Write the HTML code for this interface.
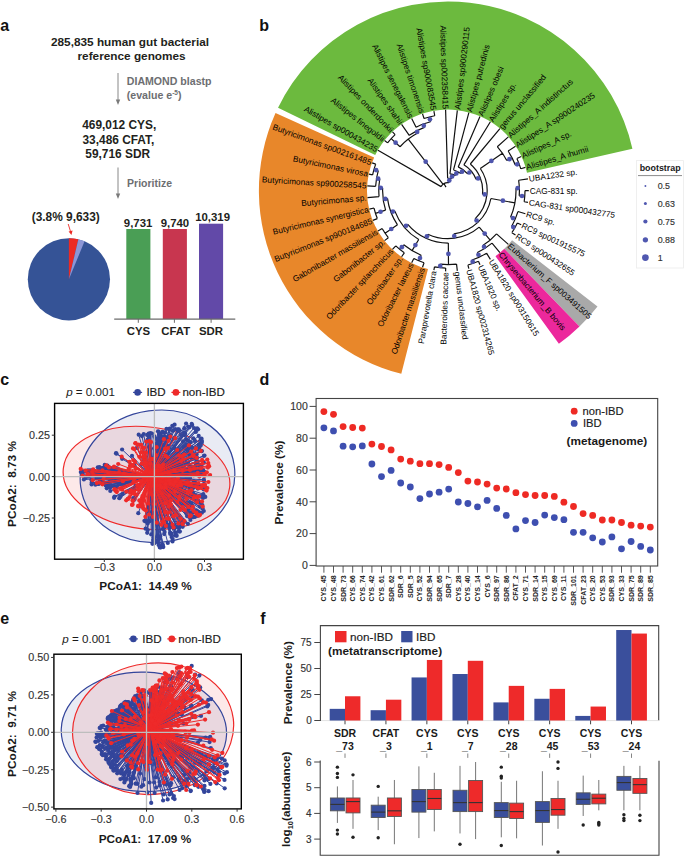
<!DOCTYPE html>
<html><head><meta charset="utf-8"><style>
html,body{margin:0;padding:0;background:#fff;}
svg{display:block;font-family:"Liberation Sans", sans-serif;}
</style></head><body>
<svg width="685" height="857" viewBox="0 0 685 857">
<rect width="685" height="857" fill="#fff"/>
<text x="0.20" y="30.60" font-size="16" font-weight="bold" font-style="normal" text-anchor="start" fill="#111">a</text>
<text x="259.30" y="30.50" font-size="16" font-weight="bold" font-style="normal" text-anchor="start" fill="#111">b</text>
<text x="0.20" y="384.60" font-size="16" font-weight="bold" font-style="normal" text-anchor="start" fill="#111">c</text>
<text x="259.50" y="384.60" font-size="16" font-weight="bold" font-style="normal" text-anchor="start" fill="#111">d</text>
<text x="0.20" y="623.60" font-size="16" font-weight="bold" font-style="normal" text-anchor="start" fill="#111">e</text>
<text x="260.20" y="623.70" font-size="16" font-weight="bold" font-style="normal" text-anchor="start" fill="#111">f</text>
<text x="130.00" y="46.00" font-size="11.8" font-weight="bold" font-style="normal" text-anchor="middle" fill="#231f20">285,835 human gut bacterial</text>
<text x="131.60" y="60.40" font-size="11.8" font-weight="bold" font-style="normal" text-anchor="middle" fill="#231f20">reference genomes</text>
<line x1="118" y1="73" x2="118" y2="101" stroke="#7a7a7a" stroke-width="0.9"/>
<path d="M115.8,99.5 L118,105 L120.2,99.5 Z" fill="#7a7a7a"/>
<text x="126.80" y="85.00" font-size="10.6" font-weight="bold" font-style="normal" text-anchor="start" fill="#6d6e71">DIAMOND blastp</text>
<text x="126.8" y="98.5" font-size="10.6" font-weight="bold" fill="#6d6e71">(evalue e<tspan font-size="6.5" dy="-4">-5</tspan><tspan dy="4">)</tspan></text>
<text x="119.20" y="129.40" font-size="11.9" font-weight="bold" font-style="normal" text-anchor="middle" fill="#231f20">469,012 CYS,</text>
<text x="118.40" y="143.90" font-size="11.9" font-weight="bold" font-style="normal" text-anchor="middle" fill="#231f20">33,486 CFAT,</text>
<text x="117.70" y="157.90" font-size="11.9" font-weight="bold" font-style="normal" text-anchor="middle" fill="#231f20">59,716 SDR</text>
<line x1="118" y1="167.5" x2="118" y2="195" stroke="#7a7a7a" stroke-width="0.9"/>
<path d="M115.8,193.5 L118,199 L120.2,193.5 Z" fill="#7a7a7a"/>
<text x="127.10" y="187.40" font-size="10.5" font-weight="bold" font-style="normal" text-anchor="start" fill="#6d6e71">Prioritize</text>
<text x="31.70" y="221.00" font-size="11.9" font-weight="bold" font-style="normal" text-anchor="start" fill="#231f20">(3.8% 9,633)</text>
<line x1="68.2" y1="224" x2="71" y2="233" stroke="#ec2a24" stroke-width="0.9"/>
<path d="M68.6,231.5 L71.4,235 L72.6,230.6 Z" fill="#ec2a24"/>
<circle cx="68.9" cy="279.3" r="41.1" fill="#355396"/>
<path d="M68.9,279.3 L68.90,238.20 A41.1,41.1 0 0 1 78.36,239.30 Z" fill="#ec2a24"/>
<path d="M68.9,279.3 L78.36,239.30 A41.1,41.1 0 0 1 84.56,241.30 Z" fill="#8c96d6"/>
<rect x="126.3" y="229" width="24.1" height="90" fill="#4a9e55"/>
<rect x="162.8" y="229" width="24.1" height="90" fill="#c8364f"/>
<rect x="199" y="223.7" width="24.1" height="95.3" fill="#6249a8"/>
<line x1="114.2" y1="319.2" x2="235.3" y2="319.2" stroke="#6b6b6b" stroke-width="1.3"/>
<line x1="138.3" y1="319" x2="138.3" y2="322.8" stroke="#6b6b6b" stroke-width="1"/>
<line x1="174.4" y1="319" x2="174.4" y2="322.8" stroke="#6b6b6b" stroke-width="1"/>
<line x1="211.1" y1="319" x2="211.1" y2="322.8" stroke="#6b6b6b" stroke-width="1"/>
<text x="138.10" y="226.70" font-size="11.4" font-weight="bold" font-style="normal" text-anchor="middle" fill="#231f20">9,731</text>
<text x="174.90" y="226.70" font-size="11.4" font-weight="bold" font-style="normal" text-anchor="middle" fill="#231f20">9,740</text>
<text x="212.60" y="221.30" font-size="11.4" font-weight="bold" font-style="normal" text-anchor="middle" fill="#231f20">10,319</text>
<text x="138.50" y="334.50" font-size="11.4" font-weight="bold" font-style="normal" text-anchor="middle" fill="#231f20">CYS</text>
<text x="175.70" y="334.50" font-size="11.4" font-weight="bold" font-style="normal" text-anchor="middle" fill="#231f20">CFAT</text>
<text x="211.00" y="334.50" font-size="11.4" font-weight="bold" font-style="normal" text-anchor="middle" fill="#231f20">SDR</text>
<path d="M632.42,148.80 A189.1,189.1 0 0 0 278.04,107.70 L375.20,155.09 A81,81 0 0 1 527.00,172.70 Z" fill="#6cba3e"/>
<path d="M275.52,113.08 A189.1,189.1 0 0 0 401.29,373.84 L427.99,269.09 A81,81 0 0 1 374.12,157.40 Z" fill="#e8872a"/>
<path d="M579.50,326.49 A189.1,189.1 0 0 0 597.50,306.40 L512.04,240.20 A81,81 0 0 1 504.33,248.81 Z" fill="#a9a9a9"/>
<path d="M558.88,343.78 A189.1,189.1 0 0 0 579.50,326.49 L504.33,248.81 A81,81 0 0 1 495.50,256.21 Z" fill="#ec289c"/>
<path d="M449.01,182.66 A8,8 0 0 0 441.07,186.61 M441.07,186.61 L377.98,150.28 M443.11,184.27 L408.29,139.14 M449.01,182.66 L449.57,178.25 M417.73,133.08 A65,65 0 0 0 400.03,146.73 M400.03,146.73 L391.18,138.64 M417.73,133.08 L416.56,130.87 M395.11,134.64 A77,77 0 0 0 387.55,142.90 M387.55,142.90 L384.57,140.55 M395.11,134.64 L392.50,131.88 M424.40,127.36 A67.5,67.5 0 0 0 409.23,135.34 M409.23,135.34 L401.60,124.45 M424.40,127.36 L423.18,124.08 M430.57,121.77 A71,71 0 0 0 416.08,127.18 M416.08,127.18 L411.68,118.42 M430.57,121.77 L429.35,116.92 M434.75,115.76 A76,76 0 0 0 424.04,118.48 M424.04,118.48 L422.53,113.92 M434.75,115.76 L433.91,111.04 M451.47,178.64 A12.45,12.45 0 0 0 447.63,178.16 M447.63,178.16 L445.60,109.84 M451.47,178.64 L452.71,174.37 M455.35,175.38 A16.9,16.9 0 0 0 449.95,173.81 M449.95,173.81 L457.33,110.34 M455.35,175.38 L457.28,171.37 M460.72,173.45 A21.35,21.35 0 0 0 453.52,169.97 M453.52,169.97 L468.87,112.54 M460.72,173.45 L463.37,169.88 M467.71,173.95 A25.8,25.8 0 0 0 458.21,166.91 M458.21,166.91 L479.97,116.39 M467.71,173.95 L471.11,171.08 M476.04,179.25 A30.25,30.25 0 0 0 463.87,164.85 M463.87,164.85 L490.39,121.81 M476.04,179.25 L480.17,177.58 M482.51,194.20 A34.7,34.7 0 0 0 470.30,164.01 M470.30,164.01 L499.92,128.69 M482.51,194.20 L486.94,194.66 M475.05,218.90 A39.15,39.15 0 0 0 480.31,168.49 M480.31,168.49 L502.47,153.33 M475.05,218.90 L478.12,222.12 M506.76,160.54 A66,66 0 0 0 497.29,146.71 M497.29,146.71 L508.35,136.87 M506.76,160.54 L512.10,157.81 M515.29,164.99 A72,72 0 0 0 508.15,151.02 M508.15,151.02 L515.50,146.19 M515.29,164.99 L519.03,163.56 M520.81,168.80 A76,76 0 0 0 516.88,158.47 M516.88,158.47 L521.23,156.44 M520.81,168.80 L525.40,167.42 M453.94,233.79 A43.6,43.6 0 0 0 490.88,198.49 M490.88,198.49 L514.88,202.90 M453.94,233.79 L454.55,238.20 M510.63,217.09 A68,68 0 0 0 515.96,188.13 M515.96,188.13 L519.35,188.01 M510.63,217.09 L515.23,219.04 M519.21,195.80 A71.4,71.4 0 0 0 518.65,180.25 M518.65,180.25 L527.95,178.89 M519.21,195.80 L524.80,196.20 M524.19,201.77 A77,77 0 0 0 525.00,190.61 M525.00,190.61 L528.80,190.61 M524.19,201.77 L527.95,202.32 M511.73,226.20 A73,73 0 0 0 517.93,211.55 M517.93,211.55 L525.40,213.79 M511.73,226.20 L514.79,227.90 M511.90,232.66 A76.5,76.5 0 0 0 517.32,222.95 M517.32,222.95 L521.22,224.77 M511.90,232.66 L515.49,235.02 M427.82,234.21 A48.05,48.05 0 0 0 479.20,227.14 M479.20,227.14 L490.21,240.03 M427.82,234.21 L425.95,238.25 M483.10,245.31 A65,65 0 0 0 496.54,233.83 M496.54,233.83 L508.34,244.34 M483.10,245.31 L484.99,248.26 M477.37,252.49 A68.5,68.5 0 0 0 492.01,243.09 M492.01,243.09 L499.91,252.52 M477.37,252.49 L479.51,257.00 M472.09,260.04 A73.5,73.5 0 0 0 486.55,253.18 M486.55,253.18 L490.38,259.39 M472.09,260.04 L473.24,263.35 M467.88,264.99 A77,77 0 0 0 478.46,261.32 M478.46,261.32 L479.96,264.81 M467.88,264.99 L468.86,268.66 M407.76,224.32 A52.5,52.5 0 0 0 448.34,243.10 M448.34,243.10 L448.48,264.60 M407.76,224.32 L404.31,227.21 M440.42,264.21 A74,74 0 0 0 456.54,264.11 M456.54,264.11 L457.32,270.86 M440.42,264.21 L440.06,267.69 M434.48,266.91 A77.5,77.5 0 0 0 445.69,268.07 M445.69,268.07 L445.59,271.36 M434.48,266.91 L433.90,270.16 M394.72,210.85 A57,57 0 0 0 418.74,239.51 M394.72,210.85 L390.98,212.27 M418.74,239.51 L412.06,250.67 M387.53,198.59 A61,61 0 0 0 397.49,224.80 M387.53,198.59 L383.16,199.16 M397.49,224.80 L385.07,233.21 M382.66,187.89 A65.4,65.4 0 0 0 385.60,210.18 M382.66,187.89 L378.86,187.73 M385.60,210.18 L375.49,213.36 M379.78,178.98 A69.2,69.2 0 0 0 379.05,196.53 M379.05,196.53 L367.50,197.53 M379.78,178.98 L376.53,178.42 M378.28,170.71 A72.5,72.5 0 0 0 375.63,186.28 M375.63,186.28 L367.34,185.78 M378.28,170.71 L373.95,169.47 M375.69,164.15 A77,77 0 0 0 372.61,174.91 M372.61,174.91 L368.89,174.14 M375.69,164.15 L372.12,162.84 M374.03,208.03 A76,76 0 0 0 377.33,218.57 M377.33,218.57 L372.87,220.34 M374.03,208.03 L369.35,209.13 M382.14,228.52 A76,76 0 0 0 388.33,237.67 M388.33,237.67 L384.56,240.64 M382.14,228.52 L377.98,230.91 M403.73,244.82 A70,70 0 0 0 421.15,255.25 M403.73,244.82 L399.94,249.47 M421.15,255.25 L418.85,260.79 M395.79,245.82 A76,76 0 0 0 404.34,252.81 M404.34,252.81 L401.59,256.74 M395.79,245.82 L392.49,249.31 M413.83,258.48 A76,76 0 0 0 424.03,262.72 M424.03,262.72 L422.52,267.28 M413.83,258.48 L411.67,262.77 M445.99,187.14 L443.98,183.68" fill="none" stroke="#111" stroke-width="1.2"/>
<circle cx="425.70" cy="161.70" r="2.35" fill="#4e55ad"/>
<circle cx="449.29" cy="180.46" r="2.35" fill="#4e55ad"/>
<circle cx="395.61" cy="142.68" r="2.35" fill="#4e55ad"/>
<circle cx="417.15" cy="131.97" r="2.35" fill="#4e55ad"/>
<circle cx="423.79" cy="125.72" r="2.35" fill="#4e55ad"/>
<circle cx="429.96" cy="119.35" r="2.35" fill="#4e55ad"/>
<circle cx="452.09" cy="176.51" r="2.35" fill="#4e55ad"/>
<circle cx="456.31" cy="173.38" r="2.35" fill="#4e55ad"/>
<circle cx="462.04" cy="171.66" r="2.35" fill="#4e55ad"/>
<circle cx="469.41" cy="172.51" r="2.35" fill="#4e55ad"/>
<circle cx="478.10" cy="178.42" r="2.35" fill="#4e55ad"/>
<circle cx="484.73" cy="194.43" r="2.35" fill="#4e55ad"/>
<circle cx="491.39" cy="160.91" r="2.35" fill="#4e55ad"/>
<circle cx="476.59" cy="220.51" r="2.35" fill="#4e55ad"/>
<circle cx="509.43" cy="159.18" r="2.35" fill="#4e55ad"/>
<circle cx="517.16" cy="164.28" r="2.35" fill="#4e55ad"/>
<circle cx="502.88" cy="200.70" r="2.35" fill="#4e55ad"/>
<circle cx="454.24" cy="236.00" r="2.35" fill="#4e55ad"/>
<circle cx="517.65" cy="188.07" r="2.35" fill="#4e55ad"/>
<circle cx="512.93" cy="218.07" r="2.35" fill="#4e55ad"/>
<circle cx="522.00" cy="196.00" r="2.35" fill="#4e55ad"/>
<circle cx="513.26" cy="227.05" r="2.35" fill="#4e55ad"/>
<circle cx="484.71" cy="233.59" r="2.35" fill="#4e55ad"/>
<circle cx="426.89" cy="236.23" r="2.35" fill="#4e55ad"/>
<circle cx="484.04" cy="246.78" r="2.35" fill="#4e55ad"/>
<circle cx="478.44" cy="254.75" r="2.35" fill="#4e55ad"/>
<circle cx="472.66" cy="261.69" r="2.35" fill="#4e55ad"/>
<circle cx="448.41" cy="253.85" r="2.35" fill="#4e55ad"/>
<circle cx="406.03" cy="225.76" r="2.35" fill="#4e55ad"/>
<circle cx="440.24" cy="265.95" r="2.35" fill="#4e55ad"/>
<circle cx="392.85" cy="211.56" r="2.35" fill="#4e55ad"/>
<circle cx="415.40" cy="245.09" r="2.35" fill="#4e55ad"/>
<circle cx="385.34" cy="198.88" r="2.35" fill="#4e55ad"/>
<circle cx="391.28" cy="229.00" r="2.35" fill="#4e55ad"/>
<circle cx="380.76" cy="187.81" r="2.35" fill="#4e55ad"/>
<circle cx="380.54" cy="211.77" r="2.35" fill="#4e55ad"/>
<circle cx="378.16" cy="178.70" r="2.35" fill="#4e55ad"/>
<circle cx="376.12" cy="170.09" r="2.35" fill="#4e55ad"/>
<circle cx="401.83" cy="247.15" r="2.35" fill="#4e55ad"/>
<circle cx="420.00" cy="258.02" r="2.35" fill="#4e55ad"/>
<text x="526.27" y="167.16" dy="2.9" font-size="8.3" text-anchor="start" fill="#000" transform="rotate(-16.67 526.27 167.16)">Alistipes_A ihumii</text>
<text x="522.04" y="156.06" dy="2.9" font-size="8.3" text-anchor="start" fill="#000" transform="rotate(-25.01 522.04 156.06)">Alistipes_A sp.</text>
<text x="516.25" y="145.69" dy="2.9" font-size="8.3" text-anchor="start" fill="#000" transform="rotate(-33.34 516.25 145.69)">Alistipes_A sp900240235</text>
<text x="509.02" y="136.27" dy="2.9" font-size="8.3" text-anchor="start" fill="#000" transform="rotate(-41.68 509.02 136.27)">Alistipes_A indistinctus</text>
<text x="500.50" y="128.00" dy="2.9" font-size="8.3" text-anchor="start" fill="#000" transform="rotate(-50.02 500.50 128.00)">genus unclassified</text>
<text x="490.86" y="121.05" dy="2.9" font-size="8.3" text-anchor="start" fill="#000" transform="rotate(-58.36 490.86 121.05)">Alistipes sp.</text>
<text x="480.33" y="115.57" dy="2.9" font-size="8.3" text-anchor="start" fill="#000" transform="rotate(-66.69 480.33 115.57)">Alistipes obesi</text>
<text x="469.11" y="111.67" dy="2.9" font-size="8.3" text-anchor="start" fill="#000" transform="rotate(-75.03 469.11 111.67)">Alistipes putredinis</text>
<text x="457.44" y="109.45" dy="2.9" font-size="8.3" text-anchor="start" fill="#000" transform="rotate(-83.37 457.44 109.45)">Alistipes sp900290115</text>
<text x="445.57" y="108.94" dy="2.9" font-size="8.3" text-anchor="end" fill="#000" transform="rotate(88.30 445.57 108.94)">Alistipes sp002358415</text>
<text x="433.76" y="110.15" dy="2.9" font-size="8.3" text-anchor="end" fill="#000" transform="rotate(79.96 433.76 110.15)">Alistipes sp900083545</text>
<text x="422.24" y="113.07" dy="2.9" font-size="8.3" text-anchor="end" fill="#000" transform="rotate(71.62 422.24 113.07)">Alistipes timonensis</text>
<text x="411.27" y="117.62" dy="2.9" font-size="8.3" text-anchor="end" fill="#000" transform="rotate(63.29 411.27 117.62)">Alistipes senegalensis</text>
<text x="401.08" y="123.72" dy="2.9" font-size="8.3" text-anchor="end" fill="#000" transform="rotate(54.95 401.08 123.72)">Alistipes shahii</text>
<text x="391.88" y="131.23" dy="2.9" font-size="8.3" text-anchor="end" fill="#000" transform="rotate(46.61 391.88 131.23)">Alistipes onderdonkii</text>
<text x="383.86" y="139.99" dy="2.9" font-size="8.3" text-anchor="end" fill="#000" transform="rotate(38.27 383.86 139.99)">Alistipes finegoldii</text>
<text x="377.20" y="149.83" dy="2.9" font-size="8.3" text-anchor="end" fill="#000" transform="rotate(29.94 377.20 149.83)">Alistipes sp000434235</text>
<text x="371.27" y="162.53" dy="2.9" font-size="8.3" text-anchor="end" fill="#000" transform="rotate(20.09 371.27 162.53)">Butyricimonas sp002161485</text>
<text x="368.01" y="173.96" dy="2.9" font-size="8.3" text-anchor="end" fill="#000" transform="rotate(11.75 368.01 173.96)">Butyricimonas virosa</text>
<text x="366.45" y="185.73" dy="2.9" font-size="8.3" text-anchor="end" fill="#000" transform="rotate(3.42 366.45 185.73)">Butyricimonas sp900258545</text>
<text x="366.60" y="197.61" dy="2.9" font-size="8.3" text-anchor="end" fill="#000" transform="rotate(355.08 366.60 197.61)">Butyricimonas sp.</text>
<text x="368.48" y="209.33" dy="2.9" font-size="8.3" text-anchor="end" fill="#000" transform="rotate(346.74 368.48 209.33)">Butyricimonas synergistica</text>
<text x="372.03" y="220.67" dy="2.9" font-size="8.3" text-anchor="end" fill="#000" transform="rotate(338.41 372.03 220.67)">Butyricimonas sp900184685</text>
<text x="377.20" y="231.36" dy="2.9" font-size="8.3" text-anchor="end" fill="#000" transform="rotate(330.07 377.20 231.36)">Gabonibacter massiliensis</text>
<text x="383.85" y="241.20" dy="2.9" font-size="8.3" text-anchor="end" fill="#000" transform="rotate(321.73 383.85 241.20)">Gabonibacter sp.</text>
<text x="391.87" y="249.97" dy="2.9" font-size="8.3" text-anchor="end" fill="#000" transform="rotate(313.40 391.87 249.97)">Odoribacter splanchnicus</text>
<text x="401.07" y="257.48" dy="2.9" font-size="8.3" text-anchor="end" fill="#000" transform="rotate(305.06 401.07 257.48)">Odoribacter sp.</text>
<text x="411.26" y="263.57" dy="2.9" font-size="8.3" text-anchor="end" fill="#000" transform="rotate(296.72 411.26 263.57)">Odoribacter laneus</text>
<text x="422.23" y="268.13" dy="2.9" font-size="8.3" text-anchor="end" fill="#000" transform="rotate(288.38 422.23 268.13)">Odoribacter massiliensis</text>
<text x="433.75" y="271.05" dy="2.9" font-size="8.3" text-anchor="end" fill="#000" transform="rotate(280.05 433.75 271.05)">Paraprevotella clara</text>
<text x="445.56" y="272.26" dy="2.9" font-size="8.3" text-anchor="end" fill="#000" transform="rotate(271.71 445.56 272.26)">Bacteroides caccae</text>
<text x="457.43" y="271.75" dy="2.9" font-size="8.3" text-anchor="start" fill="#000" transform="rotate(83.37 457.43 271.75)">genus unclassified</text>
<text x="469.09" y="269.53" dy="2.9" font-size="8.3" text-anchor="start" fill="#000" transform="rotate(75.04 469.09 269.53)">UBA1820 sp002314265</text>
<text x="480.32" y="265.64" dy="2.9" font-size="8.3" text-anchor="start" fill="#000" transform="rotate(66.70 480.32 265.64)">UBA1820 sp.</text>
<text x="490.85" y="260.16" dy="2.9" font-size="8.3" text-anchor="start" fill="#000" transform="rotate(58.36 490.85 260.16)">UBA1820 sp003150615</text>
<text x="500.49" y="253.21" dy="2.9" font-size="8.3" text-anchor="start" fill="#000" transform="rotate(50.03 500.49 253.21)">Chryseobacterium_B bovis</text>
<text x="509.01" y="244.94" dy="2.9" font-size="8.3" text-anchor="start" fill="#000" transform="rotate(41.69 509.01 244.94)">Eubacterium_F sp003491505</text>
<text x="516.24" y="235.52" dy="2.9" font-size="8.3" text-anchor="start" fill="#000" transform="rotate(33.35 516.24 235.52)">RC9 sp000432655</text>
<text x="522.04" y="225.15" dy="2.9" font-size="8.3" text-anchor="start" fill="#000" transform="rotate(25.01 522.04 225.15)">RC9 sp001915575</text>
<text x="526.26" y="214.05" dy="2.9" font-size="8.3" text-anchor="start" fill="#000" transform="rotate(16.68 526.26 214.05)">RC9 sp.</text>
<text x="528.84" y="202.45" dy="2.9" font-size="8.3" text-anchor="start" fill="#000" transform="rotate(8.34 528.84 202.45)">CAG-831 sp000432775</text>
<text x="529.70" y="190.61" dy="2.9" font-size="8.3" text-anchor="start" fill="#000" transform="rotate(0.00 529.70 190.61)">CAG-831 sp.</text>
<text x="528.84" y="178.76" dy="2.9" font-size="8.3" text-anchor="start" fill="#000" transform="rotate(-8.33 528.84 178.76)">UBA1232 sp.</text>
<rect x="636.4" y="160.6" width="47.1" height="107.4" fill="#fff" stroke="#ececec" stroke-width="0.8"/>
<text x="639.70" y="171.20" font-size="8.9" font-weight="bold" font-style="normal" text-anchor="start" fill="#1a1a1a">bootstrap</text>
<line x1="638" y1="175.6" x2="682" y2="175.6" stroke="#8a8a8a" stroke-width="1"/>
<circle cx="645.4" cy="186" r="0.95" fill="#5058b0"/>
<text x="657.70" y="189.20" font-size="8.9" font-weight="normal" font-style="normal" text-anchor="start" fill="#333" stroke="#333" stroke-width="0.15">0.5</text>
<circle cx="645.4" cy="203.6" r="1.5" fill="#5058b0"/>
<text x="657.70" y="206.80" font-size="8.9" font-weight="normal" font-style="normal" text-anchor="start" fill="#333" stroke="#333" stroke-width="0.15">0.63</text>
<circle cx="645.4" cy="221.5" r="2.1" fill="#5058b0"/>
<text x="657.70" y="224.70" font-size="8.9" font-weight="normal" font-style="normal" text-anchor="start" fill="#333" stroke="#333" stroke-width="0.15">0.75</text>
<circle cx="645.4" cy="239.8" r="2.65" fill="#5058b0"/>
<text x="657.70" y="243.00" font-size="8.9" font-weight="normal" font-style="normal" text-anchor="start" fill="#333" stroke="#333" stroke-width="0.15">0.88</text>
<circle cx="645.4" cy="257.6" r="3.35" fill="#5058b0"/>
<text x="657.70" y="260.80" font-size="8.9" font-weight="normal" font-style="normal" text-anchor="start" fill="#333" stroke="#333" stroke-width="0.15">1</text>
<clipPath id="clip403"><rect x="54.6" y="403.4" width="188.8" height="155.80000000000007"/></clipPath>
<g clip-path="url(#clip403)">
<ellipse cx="157.5" cy="476.3" rx="77.5" ry="66" transform="rotate(-7.8 157.5 476.3)" fill="#33459b" fill-opacity="0.11" stroke="none"/>
<ellipse cx="146.5" cy="477.9" rx="83.7" ry="51" transform="rotate(6.6 146.5 477.9)" fill="#ee2a2a" fill-opacity="0.1" stroke="none"/>
<ellipse cx="157.5" cy="476.3" rx="77.5" ry="66" transform="rotate(-7.8 157.5 476.3)" fill="none" stroke="#33459b" stroke-width="1.2"/>
<ellipse cx="146.5" cy="477.9" rx="83.7" ry="51" transform="rotate(6.6 146.5 477.9)" fill="none" stroke="#ee2a2a" stroke-width="1.2"/>
<path d="M151.0,477.0 L147.7,439.5 M151.0,477.0 L203.3,494.2 M151.0,477.0 L119.3,498.2 M151.0,477.0 L85.6,477.9 M151.0,477.0 L134.5,465.2 M151.0,477.0 L187.3,510.5 M151.0,477.0 L109.9,484.6 M151.0,477.0 L190.1,478.0 M151.0,477.0 L167.8,542.9 M151.0,477.0 L187.9,463.3 M151.0,477.0 L106.5,474.9 M151.0,477.0 L179.2,526.3 M151.0,477.0 L172.6,539.1 M151.0,477.0 L189.0,453.2 M151.0,477.0 L162.7,438.5 M151.0,477.0 L203.0,498.0 M151.0,477.0 L196.4,471.0 M151.0,477.0 L105.7,485.5 M151.0,477.0 L95.0,471.1 M151.0,477.0 L91.9,470.3 M151.0,477.0 L190.5,456.0 M151.0,477.0 L83.9,479.4 M151.0,477.0 L180.0,465.2 M151.0,477.0 L193.7,481.1 M151.0,477.0 L198.9,465.2 M151.0,477.0 L190.5,487.6 M151.0,477.0 L153.1,540.0 M151.0,477.0 L135.5,485.9 M151.0,477.0 L150.1,450.0 M151.0,477.0 L177.7,450.4 M151.0,477.0 L159.8,441.3 M151.0,477.0 L194.9,484.3 M151.0,477.0 L184.1,494.9 M151.0,477.0 L143.3,459.9 M151.0,477.0 L169.6,438.6 M151.0,477.0 L98.8,468.9 M151.0,477.0 L188.5,506.1 M151.0,477.0 L186.1,439.1 M151.0,477.0 L111.2,468.9 M151.0,477.0 L172.0,489.2 M151.0,477.0 L122.1,449.5 M151.0,477.0 L117.5,468.9 M151.0,477.0 L162.4,438.6 M151.0,477.0 L182.5,522.2 M151.0,477.0 L184.3,491.9 M151.0,477.0 L178.8,429.3 M151.0,477.0 L178.8,531.3 M151.0,477.0 L103.1,482.5 M151.0,477.0 L95.3,472.5 M151.0,477.0 L181.9,523.2 M151.0,477.0 L148.0,508.2 M151.0,477.0 L191.8,447.3 M151.0,477.0 L182.7,526.8 M151.0,477.0 L200.6,439.0 M151.0,477.0 L134.2,489.9 M151.0,477.0 L190.4,442.2 M151.0,477.0 L182.0,462.2 M151.0,477.0 L157.9,542.6 M151.0,477.0 L162.9,546.2 M151.0,477.0 L110.6,480.2 M151.0,477.0 L106.8,488.3 M151.0,477.0 L187.1,496.6 M151.0,477.0 L149.1,512.2 M151.0,477.0 L109.6,469.2 M151.0,477.0 L151.9,517.7 M151.0,477.0 L166.9,454.5 M151.0,477.0 L90.0,470.3 M151.0,477.0 L181.4,486.9 M151.0,477.0 L112.7,469.6 M151.0,477.0 L193.4,438.3 M151.0,477.0 L166.7,438.7 M151.0,477.0 L190.1,466.5 M151.0,477.0 L87.9,470.4 M151.0,477.0 L185.2,433.7 M151.0,477.0 L168.9,525.1 M151.0,477.0 L170.2,532.6 M151.0,477.0 L189.6,456.1 M151.0,477.0 L117.5,481.3 M151.0,477.0 L181.7,466.8 M151.0,477.0 L194.0,428.0 M151.0,477.0 L138.7,434.7 M151.0,477.0 L96.0,471.8 M151.0,477.0 L122.1,458.8 M151.0,477.0 L168.5,446.2 M151.0,477.0 L107.5,466.8 M151.0,477.0 L195.8,465.1 M151.0,477.0 L186.9,504.6 M151.0,477.0 L106.2,483.9 M151.0,477.0 L193.2,456.9 M151.0,477.0 L133.2,498.1 M151.0,477.0 L187.3,503.0 M151.0,477.0 L91.3,479.8 M151.0,477.0 L188.2,426.6 M151.0,477.0 L155.5,438.6 M151.0,477.0 L195.3,482.9 M151.0,477.0 L203.9,455.9 M151.0,477.0 L157.1,515.1 M151.0,477.0 L175.0,535.5 M151.0,477.0 L189.3,516.9 M151.0,477.0 L201.8,442.7 M151.0,477.0 L117.7,468.5 M151.0,477.0 L151.2,534.4 M151.0,477.0 L149.0,436.6 M151.0,477.0 L159.3,437.5 M151.0,477.0 L104.7,464.9 M151.0,477.0 L166.5,428.8 M151.0,477.0 L97.8,467.3 M151.0,477.0 L193.3,496.0 M151.0,477.0 L107.4,465.6 M151.0,477.0 L190.9,502.9 M151.0,477.0 L150.7,499.5 M151.0,477.0 L98.8,483.9 M151.0,477.0 L162.6,529.1 M151.0,477.0 L199.3,448.1 M151.0,477.0 L101.3,468.7 M151.0,477.0 L191.2,457.9 M151.0,477.0 L196.6,454.6 M151.0,477.0 L162.0,490.8 M151.0,477.0 L193.0,492.9 M151.0,477.0 L196.8,510.5 M151.0,477.0 L166.1,491.7 M151.0,477.0 L163.3,547.1 M151.0,477.0 L82.4,471.4 M151.0,477.0 L203.8,511.0 M151.0,477.0 L171.5,533.5 M151.0,477.0 L169.5,473.4 M151.0,477.0 L189.0,508.8 M151.0,477.0 L184.0,432.4 M151.0,477.0 L197.1,428.4 M151.0,477.0 L188.5,447.8 M151.0,477.0 L162.0,436.3 M151.0,477.0 L179.2,479.7 M151.0,477.0 L200.1,503.0 M151.0,477.0 L91.6,484.4 M151.0,477.0 L169.6,429.7 M151.0,477.0 L186.6,449.4 M151.0,477.0 L196.7,470.3 M151.0,477.0 L154.4,436.4 M151.0,477.0 L159.0,442.7 M151.0,477.0 L194.9,440.9 M151.0,477.0 L157.4,454.2 M151.0,477.0 L175.6,532.4 M151.0,477.0 L198.1,429.3 M151.0,477.0 L155.6,443.5 M151.0,477.0 L185.2,471.2 M151.0,477.0 L160.4,433.8 M151.0,477.0 L147.8,530.1 M151.0,477.0 L169.5,528.0 M151.0,477.0 L188.4,478.8 M151.0,477.0 L198.7,435.9 M151.0,477.0 L187.5,478.1 M151.0,477.0 L189.8,486.3 M151.0,477.0 L160.2,436.1 M151.0,477.0 L195.1,516.8 M151.0,477.0 L148.7,433.7 M151.0,477.0 L91.7,482.7 M151.0,477.0 L108.0,486.7 M151.0,477.0 L123.7,484.5 M151.0,477.0 L120.5,496.7 M151.0,477.0 L197.7,515.8 M151.0,477.0 L174.6,447.9 M151.0,477.0 L181.8,519.6 M151.0,477.0 L193.1,471.1 M151.0,477.0 L202.7,508.6 M151.0,477.0 L201.2,502.9 M151.0,477.0 L150.4,433.1 M151.0,477.0 L110.3,491.0 M151.0,477.0 L205.7,487.7 M151.0,477.0 L114.4,486.4 M151.0,477.0 L156.9,455.2 M151.0,477.0 L201.7,469.1 M151.0,477.0 L122.5,494.1 M151.0,477.0 L154.1,448.3 M151.0,477.0 L198.4,501.2 M151.0,477.0 L179.1,528.1 M151.0,477.0 L159.3,434.6 M151.0,477.0 L192.9,471.4 M151.0,477.0 L201.9,451.1 M151.0,477.0 L181.1,435.0 M151.0,477.0 L184.7,521.8 M151.0,477.0 L186.5,476.8 M151.0,477.0 L179.9,531.6 M151.0,477.0 L201.4,451.1 M151.0,477.0 L162.7,438.7 M151.0,477.0 L201.9,512.7 M151.0,477.0 L185.8,469.9 M151.0,477.0 L172.3,425.8 M151.0,477.0 L154.8,449.7 M151.0,477.0 L183.9,467.3 M151.0,477.0 L155.7,540.7 M151.0,477.0 L114.5,496.6 M151.0,477.0 L192.2,425.1 M151.0,477.0 L95.4,484.7 M151.0,477.0 L162.5,431.8 M151.0,477.0 L201.4,441.3 M151.0,477.0 L198.2,500.9 M151.0,477.0 L158.0,431.3 M151.0,477.0 L153.7,542.5 M151.0,477.0 L204.0,481.3 M151.0,477.0 L192.9,488.2 M151.0,477.0 L163.4,444.9 M151.0,477.0 L171.6,536.9 M151.0,477.0 L102.3,468.0 M151.0,477.0 L197.8,461.3 M151.0,477.0 L191.2,503.1 M151.0,477.0 L170.2,533.9 M151.0,477.0 L88.7,474.9 M151.0,477.0 L190.4,519.9 M151.0,477.0 L186.0,513.0 M151.0,477.0 L170.7,509.5 M151.0,477.0 L167.1,497.9 M151.0,477.0 L154.3,543.3 M151.0,477.0 L169.7,428.5 M151.0,477.0 L157.3,447.7 M151.0,477.0 L127.2,471.9 M151.0,477.0 L152.4,543.8 M151.0,477.0 L198.9,512.2 M151.0,477.0 L89.6,475.4 M151.0,477.0 L103.9,467.9 M151.0,477.0 L184.6,495.6 M151.0,477.0 L157.1,540.4 M151.0,477.0 L177.7,429.4 M151.0,477.0 L116.0,453.2 M151.0,477.0 L203.2,470.2 M151.0,477.0 L90.6,474.0 M151.0,477.0 L163.5,497.5 M151.0,477.0 L80.8,472.1 M151.0,477.0 L105.0,467.8 M151.0,477.0 L160.2,536.4 M151.0,477.0 L204.5,455.5 M151.0,477.0 L185.9,469.7 M151.0,477.0 L200.0,506.5 M151.0,477.0 L157.4,536.4 M151.0,477.0 L199.7,486.1 M151.0,477.0 L161.0,449.5 M151.0,477.0 L176.9,527.0 M151.0,477.0 L171.1,523.1 M151.0,477.0 L153.5,537.6 M151.0,477.0 L164.5,432.7 M151.0,477.0 L144.4,520.8 M151.0,477.0 L97.4,478.4 M151.0,477.0 L186.1,445.9 M151.0,477.0 L170.5,435.1 M151.0,477.0 L174.6,459.6 M151.0,477.0 L172.7,516.5 M151.0,477.0 L110.1,487.8 M151.0,477.0 L155.4,512.9 M151.0,477.0 L148.8,520.6 M151.0,477.0 L204.3,471.9 M151.0,477.0 L183.4,520.3 M151.0,477.0 L173.3,430.5 M151.0,477.0 L194.4,458.4 M151.0,477.0 L197.1,462.3 M151.0,477.0 L191.0,494.4 M151.0,477.0 L159.2,539.1 M151.0,477.0 L191.8,505.4 M151.0,477.0 L184.4,428.2 M151.0,477.0 L168.6,436.6 M151.0,477.0 L174.6,424.7 M151.0,477.0 L199.9,496.5 M151.0,477.0 L159.8,547.4 M151.0,477.0 L201.5,438.5 M151.0,477.0 L193.5,517.2 M151.0,477.0 L201.8,440.8 M151.0,477.0 L179.1,495.2 M151.0,477.0 L201.5,486.4 M151.0,477.0 L107.5,477.2 M151.0,477.0 L187.9,523.8 M151.0,477.0 L149.7,521.2 M151.0,477.0 L186.6,462.3 M151.0,477.0 L170.9,524.0 M151.0,477.0 L186.1,423.5 M151.0,477.0 L191.7,517.0 M151.0,477.0 L200.6,496.3 M151.0,477.0 L200.0,471.1 M151.0,477.0 L184.4,435.2 M151.0,477.0 L156.3,455.9 M151.0,477.0 L158.6,441.1 M151.0,477.0 L99.5,467.1 M151.0,477.0 L197.8,488.6 M151.0,477.0 L203.9,462.7 M151.0,477.0 L171.0,496.7 M151.0,477.0 L96.0,483.5 M151.0,477.0 L170.7,472.2 M151.0,477.0 L182.4,524.9 M151.0,477.0 L202.2,472.8 M151.0,477.0 L165.3,432.5 M151.0,477.0 L201.6,465.1 M151.0,477.0 L192.6,512.8 M151.0,477.0 L147.2,532.8 M151.0,477.0 L171.3,526.5 M151.0,477.0 L199.0,444.4 M151.0,477.0 L173.2,525.4 M151.0,477.0 L187.4,476.6 M151.0,477.0 L185.0,503.2 M151.0,477.0 L188.4,440.9 M151.0,477.0 L180.5,518.0 M151.0,477.0 L134.5,499.5 M151.0,477.0 L195.1,466.4 M151.0,477.0 L188.3,463.8 M151.0,477.0 L195.9,431.9 M151.0,477.0 L190.6,512.9 M151.0,477.0 L191.3,514.1 M151.0,477.0 L82.3,471.3 M151.0,477.0 L171.4,506.0 M151.0,477.0 L203.5,489.3 M151.0,477.0 L199.9,444.8 M151.0,477.0 L153.0,542.9 M151.0,477.0 L176.7,535.8 M151.0,477.0 L196.1,429.5 M151.0,477.0 L183.1,441.3 M151.0,477.0 L204.1,474.4 M151.0,477.0 L161.2,439.4 M151.0,477.0 L154.5,460.9 M151.0,477.0 L158.6,545.1 M151.0,477.0 L160.8,547.5 M151.0,477.0 L190.0,488.6 M151.0,477.0 L114.6,487.0 M151.0,477.0 L193.3,471.2 M151.0,477.0 L143.7,434.0 M151.0,477.0 L93.4,473.6 M151.0,477.0 L82.6,474.0 M151.0,477.0 L191.7,423.8 M151.0,477.0 L196.5,461.5 M151.0,477.0 L192.8,497.7 M151.0,477.0 L88.7,476.5 M151.0,477.0 L99.6,481.7 M151.0,477.0 L187.0,516.1 M151.0,477.0 L198.6,449.7 M151.0,477.0 L96.6,478.2 M151.0,477.0 L133.5,500.5 M151.0,477.0 L87.7,475.3 M151.0,477.0 L111.0,486.6 M151.0,477.0 L103.8,467.8 M151.0,477.0 L183.7,446.8 M151.0,477.0 L155.8,445.0 M151.0,477.0 L162.6,544.3 M151.0,477.0 L172.5,541.4 M151.0,477.0 L136.8,447.9 M151.0,477.0 L169.5,498.3 M151.0,477.0 L176.2,534.8 M151.0,477.0 L178.9,430.8 M151.0,477.0 L115.1,470.9 M151.0,477.0 L138.3,513.2 M151.0,477.0 L158.7,431.9 M151.0,477.0 L117.0,479.0 M151.0,477.0 L151.6,503.8 M151.0,477.0 L147.1,434.9 M151.0,477.0 L119.6,484.0 M151.0,477.0 L164.6,531.9 M151.0,477.0 L184.0,503.6 M151.0,477.0 L176.0,489.5 M151.0,477.0 L98.0,483.9 M151.0,477.0 L178.6,430.7 M151.0,477.0 L158.3,450.3 M151.0,477.0 L202.3,505.1 M151.0,477.0 L196.9,457.6 M151.0,477.0 L195.3,454.2 M151.0,477.0 L175.1,429.2 M151.0,477.0 L154.7,541.1 M151.0,477.0 L205.3,496.9 M151.0,477.0 L165.1,436.8 M151.0,477.0 L194.4,495.0 M151.0,477.0 L141.9,436.1 M151.0,477.0 L151.9,458.0 M151.0,477.0 L181.4,526.2 M151.0,477.0 L114.1,497.8 M151.0,477.0 L189.4,427.3 M151.0,477.0 L115.7,467.8 M151.0,477.0 L117.0,468.8 M151.0,477.0 L191.3,456.7 M151.0,477.0 L196.1,501.6 M151.0,477.0 L132.0,455.8 M151.0,477.0 L186.5,444.7 M151.0,477.0 L182.9,501.8 M151.0,477.0 L81.7,472.4 M151.0,477.0 L97.1,477.5 M151.0,477.0 L109.8,485.2 M151.0,477.0 L174.4,528.7 M151.0,477.0 L164.7,527.5 M151.0,477.0 L110.4,479.9 M151.0,477.0 L203.9,479.7 M151.0,477.0 L94.2,473.3 M151.0,477.0 L145.5,521.5 M151.0,477.0 L204.2,473.2 M151.0,477.0 L129.0,474.0 M151.0,477.0 L141.5,464.3 M151.0,477.0 L174.8,471.2 M151.0,477.0 L102.4,479.7 M151.0,477.0 L165.3,525.7 M151.0,477.0 L145.6,528.7 M151.0,477.0 L147.7,523.5 M151.0,477.0 L164.0,500.2 M151.0,477.0 L148.8,447.1 M151.0,477.0 L116.5,453.7 M151.0,477.0 L116.7,486.5 M151.0,477.0 L200.7,445.6 M151.0,477.0 L174.2,437.8 M151.0,477.0 L152.0,433.5 M151.0,477.0 L164.2,534.1" stroke="#33459b" stroke-width="1.0" fill="none"/>
<g fill="#33459b"><circle cx="147.7" cy="439.5" r="2.1"/><circle cx="203.3" cy="494.2" r="2.1"/><circle cx="119.3" cy="498.2" r="2.1"/><circle cx="85.6" cy="477.9" r="2.1"/><circle cx="134.5" cy="465.2" r="2.1"/><circle cx="187.3" cy="510.5" r="2.1"/><circle cx="109.9" cy="484.6" r="2.1"/><circle cx="190.1" cy="478.0" r="2.1"/><circle cx="167.8" cy="542.9" r="2.1"/><circle cx="187.9" cy="463.3" r="2.1"/><circle cx="106.5" cy="474.9" r="2.1"/><circle cx="179.2" cy="526.3" r="2.1"/><circle cx="172.6" cy="539.1" r="2.1"/><circle cx="189.0" cy="453.2" r="2.1"/><circle cx="162.7" cy="438.5" r="2.1"/><circle cx="203.0" cy="498.0" r="2.1"/><circle cx="196.4" cy="471.0" r="2.1"/><circle cx="105.7" cy="485.5" r="2.1"/><circle cx="95.0" cy="471.1" r="2.1"/><circle cx="91.9" cy="470.3" r="2.1"/><circle cx="190.5" cy="456.0" r="2.1"/><circle cx="83.9" cy="479.4" r="2.1"/><circle cx="180.0" cy="465.2" r="2.1"/><circle cx="193.7" cy="481.1" r="2.1"/><circle cx="198.9" cy="465.2" r="2.1"/><circle cx="190.5" cy="487.6" r="2.1"/><circle cx="153.1" cy="540.0" r="2.1"/><circle cx="135.5" cy="485.9" r="2.1"/><circle cx="150.1" cy="450.0" r="2.1"/><circle cx="177.7" cy="450.4" r="2.1"/><circle cx="159.8" cy="441.3" r="2.1"/><circle cx="194.9" cy="484.3" r="2.1"/><circle cx="184.1" cy="494.9" r="2.1"/><circle cx="143.3" cy="459.9" r="2.1"/><circle cx="169.6" cy="438.6" r="2.1"/><circle cx="98.8" cy="468.9" r="2.1"/><circle cx="188.5" cy="506.1" r="2.1"/><circle cx="186.1" cy="439.1" r="2.1"/><circle cx="111.2" cy="468.9" r="2.1"/><circle cx="172.0" cy="489.2" r="2.1"/><circle cx="122.1" cy="449.5" r="2.1"/><circle cx="117.5" cy="468.9" r="2.1"/><circle cx="162.4" cy="438.6" r="2.1"/><circle cx="182.5" cy="522.2" r="2.1"/><circle cx="184.3" cy="491.9" r="2.1"/><circle cx="178.8" cy="429.3" r="2.1"/><circle cx="178.8" cy="531.3" r="2.1"/><circle cx="103.1" cy="482.5" r="2.1"/><circle cx="95.3" cy="472.5" r="2.1"/><circle cx="181.9" cy="523.2" r="2.1"/><circle cx="148.0" cy="508.2" r="2.1"/><circle cx="191.8" cy="447.3" r="2.1"/><circle cx="182.7" cy="526.8" r="2.1"/><circle cx="200.6" cy="439.0" r="2.1"/><circle cx="134.2" cy="489.9" r="2.1"/><circle cx="190.4" cy="442.2" r="2.1"/><circle cx="182.0" cy="462.2" r="2.1"/><circle cx="157.9" cy="542.6" r="2.1"/><circle cx="162.9" cy="546.2" r="2.1"/><circle cx="110.6" cy="480.2" r="2.1"/><circle cx="106.8" cy="488.3" r="2.1"/><circle cx="187.1" cy="496.6" r="2.1"/><circle cx="149.1" cy="512.2" r="2.1"/><circle cx="109.6" cy="469.2" r="2.1"/><circle cx="151.9" cy="517.7" r="2.1"/><circle cx="166.9" cy="454.5" r="2.1"/><circle cx="90.0" cy="470.3" r="2.1"/><circle cx="181.4" cy="486.9" r="2.1"/><circle cx="112.7" cy="469.6" r="2.1"/><circle cx="193.4" cy="438.3" r="2.1"/><circle cx="166.7" cy="438.7" r="2.1"/><circle cx="190.1" cy="466.5" r="2.1"/><circle cx="87.9" cy="470.4" r="2.1"/><circle cx="185.2" cy="433.7" r="2.1"/><circle cx="168.9" cy="525.1" r="2.1"/><circle cx="170.2" cy="532.6" r="2.1"/><circle cx="189.6" cy="456.1" r="2.1"/><circle cx="117.5" cy="481.3" r="2.1"/><circle cx="181.7" cy="466.8" r="2.1"/><circle cx="194.0" cy="428.0" r="2.1"/><circle cx="138.7" cy="434.7" r="2.1"/><circle cx="96.0" cy="471.8" r="2.1"/><circle cx="122.1" cy="458.8" r="2.1"/><circle cx="168.5" cy="446.2" r="2.1"/><circle cx="107.5" cy="466.8" r="2.1"/><circle cx="195.8" cy="465.1" r="2.1"/><circle cx="186.9" cy="504.6" r="2.1"/><circle cx="106.2" cy="483.9" r="2.1"/><circle cx="193.2" cy="456.9" r="2.1"/><circle cx="133.2" cy="498.1" r="2.1"/><circle cx="187.3" cy="503.0" r="2.1"/><circle cx="91.3" cy="479.8" r="2.1"/><circle cx="188.2" cy="426.6" r="2.1"/><circle cx="155.5" cy="438.6" r="2.1"/><circle cx="195.3" cy="482.9" r="2.1"/><circle cx="203.9" cy="455.9" r="2.1"/><circle cx="157.1" cy="515.1" r="2.1"/><circle cx="175.0" cy="535.5" r="2.1"/><circle cx="189.3" cy="516.9" r="2.1"/><circle cx="201.8" cy="442.7" r="2.1"/><circle cx="117.7" cy="468.5" r="2.1"/><circle cx="151.2" cy="534.4" r="2.1"/><circle cx="149.0" cy="436.6" r="2.1"/><circle cx="159.3" cy="437.5" r="2.1"/><circle cx="104.7" cy="464.9" r="2.1"/><circle cx="166.5" cy="428.8" r="2.1"/><circle cx="97.8" cy="467.3" r="2.1"/><circle cx="193.3" cy="496.0" r="2.1"/><circle cx="107.4" cy="465.6" r="2.1"/><circle cx="190.9" cy="502.9" r="2.1"/><circle cx="150.7" cy="499.5" r="2.1"/><circle cx="98.8" cy="483.9" r="2.1"/><circle cx="162.6" cy="529.1" r="2.1"/><circle cx="199.3" cy="448.1" r="2.1"/><circle cx="101.3" cy="468.7" r="2.1"/><circle cx="191.2" cy="457.9" r="2.1"/><circle cx="196.6" cy="454.6" r="2.1"/><circle cx="162.0" cy="490.8" r="2.1"/><circle cx="193.0" cy="492.9" r="2.1"/><circle cx="196.8" cy="510.5" r="2.1"/><circle cx="166.1" cy="491.7" r="2.1"/><circle cx="163.3" cy="547.1" r="2.1"/><circle cx="82.4" cy="471.4" r="2.1"/><circle cx="203.8" cy="511.0" r="2.1"/><circle cx="171.5" cy="533.5" r="2.1"/><circle cx="169.5" cy="473.4" r="2.1"/><circle cx="189.0" cy="508.8" r="2.1"/><circle cx="184.0" cy="432.4" r="2.1"/><circle cx="197.1" cy="428.4" r="2.1"/><circle cx="188.5" cy="447.8" r="2.1"/><circle cx="162.0" cy="436.3" r="2.1"/><circle cx="179.2" cy="479.7" r="2.1"/><circle cx="200.1" cy="503.0" r="2.1"/><circle cx="91.6" cy="484.4" r="2.1"/><circle cx="169.6" cy="429.7" r="2.1"/><circle cx="186.6" cy="449.4" r="2.1"/><circle cx="196.7" cy="470.3" r="2.1"/><circle cx="154.4" cy="436.4" r="2.1"/><circle cx="159.0" cy="442.7" r="2.1"/><circle cx="194.9" cy="440.9" r="2.1"/><circle cx="157.4" cy="454.2" r="2.1"/><circle cx="175.6" cy="532.4" r="2.1"/><circle cx="198.1" cy="429.3" r="2.1"/><circle cx="155.6" cy="443.5" r="2.1"/><circle cx="185.2" cy="471.2" r="2.1"/><circle cx="160.4" cy="433.8" r="2.1"/><circle cx="147.8" cy="530.1" r="2.1"/><circle cx="169.5" cy="528.0" r="2.1"/><circle cx="188.4" cy="478.8" r="2.1"/><circle cx="198.7" cy="435.9" r="2.1"/><circle cx="187.5" cy="478.1" r="2.1"/><circle cx="189.8" cy="486.3" r="2.1"/><circle cx="160.2" cy="436.1" r="2.1"/><circle cx="195.1" cy="516.8" r="2.1"/><circle cx="148.7" cy="433.7" r="2.1"/><circle cx="91.7" cy="482.7" r="2.1"/><circle cx="108.0" cy="486.7" r="2.1"/><circle cx="123.7" cy="484.5" r="2.1"/><circle cx="120.5" cy="496.7" r="2.1"/><circle cx="197.7" cy="515.8" r="2.1"/><circle cx="174.6" cy="447.9" r="2.1"/><circle cx="181.8" cy="519.6" r="2.1"/><circle cx="193.1" cy="471.1" r="2.1"/><circle cx="202.7" cy="508.6" r="2.1"/><circle cx="201.2" cy="502.9" r="2.1"/><circle cx="150.4" cy="433.1" r="2.1"/><circle cx="110.3" cy="491.0" r="2.1"/><circle cx="205.7" cy="487.7" r="2.1"/><circle cx="114.4" cy="486.4" r="2.1"/><circle cx="156.9" cy="455.2" r="2.1"/><circle cx="201.7" cy="469.1" r="2.1"/><circle cx="122.5" cy="494.1" r="2.1"/><circle cx="154.1" cy="448.3" r="2.1"/><circle cx="198.4" cy="501.2" r="2.1"/><circle cx="179.1" cy="528.1" r="2.1"/><circle cx="159.3" cy="434.6" r="2.1"/><circle cx="192.9" cy="471.4" r="2.1"/><circle cx="201.9" cy="451.1" r="2.1"/><circle cx="181.1" cy="435.0" r="2.1"/><circle cx="184.7" cy="521.8" r="2.1"/><circle cx="186.5" cy="476.8" r="2.1"/><circle cx="179.9" cy="531.6" r="2.1"/><circle cx="201.4" cy="451.1" r="2.1"/><circle cx="162.7" cy="438.7" r="2.1"/><circle cx="201.9" cy="512.7" r="2.1"/><circle cx="185.8" cy="469.9" r="2.1"/><circle cx="172.3" cy="425.8" r="2.1"/><circle cx="154.8" cy="449.7" r="2.1"/><circle cx="183.9" cy="467.3" r="2.1"/><circle cx="155.7" cy="540.7" r="2.1"/><circle cx="114.5" cy="496.6" r="2.1"/><circle cx="192.2" cy="425.1" r="2.1"/><circle cx="95.4" cy="484.7" r="2.1"/><circle cx="162.5" cy="431.8" r="2.1"/><circle cx="201.4" cy="441.3" r="2.1"/><circle cx="198.2" cy="500.9" r="2.1"/><circle cx="158.0" cy="431.3" r="2.1"/><circle cx="153.7" cy="542.5" r="2.1"/><circle cx="204.0" cy="481.3" r="2.1"/><circle cx="192.9" cy="488.2" r="2.1"/><circle cx="163.4" cy="444.9" r="2.1"/><circle cx="171.6" cy="536.9" r="2.1"/><circle cx="102.3" cy="468.0" r="2.1"/><circle cx="197.8" cy="461.3" r="2.1"/><circle cx="191.2" cy="503.1" r="2.1"/><circle cx="170.2" cy="533.9" r="2.1"/><circle cx="88.7" cy="474.9" r="2.1"/><circle cx="190.4" cy="519.9" r="2.1"/><circle cx="186.0" cy="513.0" r="2.1"/><circle cx="170.7" cy="509.5" r="2.1"/><circle cx="167.1" cy="497.9" r="2.1"/><circle cx="154.3" cy="543.3" r="2.1"/><circle cx="169.7" cy="428.5" r="2.1"/><circle cx="157.3" cy="447.7" r="2.1"/><circle cx="127.2" cy="471.9" r="2.1"/><circle cx="152.4" cy="543.8" r="2.1"/><circle cx="198.9" cy="512.2" r="2.1"/><circle cx="89.6" cy="475.4" r="2.1"/><circle cx="103.9" cy="467.9" r="2.1"/><circle cx="184.6" cy="495.6" r="2.1"/><circle cx="157.1" cy="540.4" r="2.1"/><circle cx="177.7" cy="429.4" r="2.1"/><circle cx="116.0" cy="453.2" r="2.1"/><circle cx="203.2" cy="470.2" r="2.1"/><circle cx="90.6" cy="474.0" r="2.1"/><circle cx="163.5" cy="497.5" r="2.1"/><circle cx="80.8" cy="472.1" r="2.1"/><circle cx="105.0" cy="467.8" r="2.1"/><circle cx="160.2" cy="536.4" r="2.1"/><circle cx="204.5" cy="455.5" r="2.1"/><circle cx="185.9" cy="469.7" r="2.1"/><circle cx="200.0" cy="506.5" r="2.1"/><circle cx="157.4" cy="536.4" r="2.1"/><circle cx="199.7" cy="486.1" r="2.1"/><circle cx="161.0" cy="449.5" r="2.1"/><circle cx="176.9" cy="527.0" r="2.1"/><circle cx="171.1" cy="523.1" r="2.1"/><circle cx="153.5" cy="537.6" r="2.1"/><circle cx="164.5" cy="432.7" r="2.1"/><circle cx="144.4" cy="520.8" r="2.1"/><circle cx="97.4" cy="478.4" r="2.1"/><circle cx="186.1" cy="445.9" r="2.1"/><circle cx="170.5" cy="435.1" r="2.1"/><circle cx="174.6" cy="459.6" r="2.1"/><circle cx="172.7" cy="516.5" r="2.1"/><circle cx="110.1" cy="487.8" r="2.1"/><circle cx="155.4" cy="512.9" r="2.1"/><circle cx="148.8" cy="520.6" r="2.1"/><circle cx="204.3" cy="471.9" r="2.1"/><circle cx="183.4" cy="520.3" r="2.1"/><circle cx="173.3" cy="430.5" r="2.1"/><circle cx="194.4" cy="458.4" r="2.1"/><circle cx="197.1" cy="462.3" r="2.1"/><circle cx="191.0" cy="494.4" r="2.1"/><circle cx="159.2" cy="539.1" r="2.1"/><circle cx="191.8" cy="505.4" r="2.1"/><circle cx="184.4" cy="428.2" r="2.1"/><circle cx="168.6" cy="436.6" r="2.1"/><circle cx="174.6" cy="424.7" r="2.1"/><circle cx="199.9" cy="496.5" r="2.1"/><circle cx="159.8" cy="547.4" r="2.1"/><circle cx="201.5" cy="438.5" r="2.1"/><circle cx="193.5" cy="517.2" r="2.1"/><circle cx="201.8" cy="440.8" r="2.1"/><circle cx="179.1" cy="495.2" r="2.1"/><circle cx="201.5" cy="486.4" r="2.1"/><circle cx="107.5" cy="477.2" r="2.1"/><circle cx="187.9" cy="523.8" r="2.1"/><circle cx="149.7" cy="521.2" r="2.1"/><circle cx="186.6" cy="462.3" r="2.1"/><circle cx="170.9" cy="524.0" r="2.1"/><circle cx="186.1" cy="423.5" r="2.1"/><circle cx="191.7" cy="517.0" r="2.1"/><circle cx="200.6" cy="496.3" r="2.1"/><circle cx="200.0" cy="471.1" r="2.1"/><circle cx="184.4" cy="435.2" r="2.1"/><circle cx="156.3" cy="455.9" r="2.1"/><circle cx="158.6" cy="441.1" r="2.1"/><circle cx="99.5" cy="467.1" r="2.1"/><circle cx="197.8" cy="488.6" r="2.1"/><circle cx="203.9" cy="462.7" r="2.1"/><circle cx="171.0" cy="496.7" r="2.1"/><circle cx="96.0" cy="483.5" r="2.1"/><circle cx="170.7" cy="472.2" r="2.1"/><circle cx="182.4" cy="524.9" r="2.1"/><circle cx="202.2" cy="472.8" r="2.1"/><circle cx="165.3" cy="432.5" r="2.1"/><circle cx="201.6" cy="465.1" r="2.1"/><circle cx="192.6" cy="512.8" r="2.1"/><circle cx="147.2" cy="532.8" r="2.1"/><circle cx="171.3" cy="526.5" r="2.1"/><circle cx="199.0" cy="444.4" r="2.1"/><circle cx="173.2" cy="525.4" r="2.1"/><circle cx="187.4" cy="476.6" r="2.1"/><circle cx="185.0" cy="503.2" r="2.1"/><circle cx="188.4" cy="440.9" r="2.1"/><circle cx="180.5" cy="518.0" r="2.1"/><circle cx="134.5" cy="499.5" r="2.1"/><circle cx="195.1" cy="466.4" r="2.1"/><circle cx="188.3" cy="463.8" r="2.1"/><circle cx="195.9" cy="431.9" r="2.1"/><circle cx="190.6" cy="512.9" r="2.1"/><circle cx="191.3" cy="514.1" r="2.1"/><circle cx="82.3" cy="471.3" r="2.1"/><circle cx="171.4" cy="506.0" r="2.1"/><circle cx="203.5" cy="489.3" r="2.1"/><circle cx="199.9" cy="444.8" r="2.1"/><circle cx="153.0" cy="542.9" r="2.1"/><circle cx="176.7" cy="535.8" r="2.1"/><circle cx="196.1" cy="429.5" r="2.1"/><circle cx="183.1" cy="441.3" r="2.1"/><circle cx="204.1" cy="474.4" r="2.1"/><circle cx="161.2" cy="439.4" r="2.1"/><circle cx="154.5" cy="460.9" r="2.1"/><circle cx="158.6" cy="545.1" r="2.1"/><circle cx="160.8" cy="547.5" r="2.1"/><circle cx="190.0" cy="488.6" r="2.1"/><circle cx="114.6" cy="487.0" r="2.1"/><circle cx="193.3" cy="471.2" r="2.1"/><circle cx="143.7" cy="434.0" r="2.1"/><circle cx="93.4" cy="473.6" r="2.1"/><circle cx="82.6" cy="474.0" r="2.1"/><circle cx="191.7" cy="423.8" r="2.1"/><circle cx="196.5" cy="461.5" r="2.1"/><circle cx="192.8" cy="497.7" r="2.1"/><circle cx="88.7" cy="476.5" r="2.1"/><circle cx="99.6" cy="481.7" r="2.1"/><circle cx="187.0" cy="516.1" r="2.1"/><circle cx="198.6" cy="449.7" r="2.1"/><circle cx="96.6" cy="478.2" r="2.1"/><circle cx="133.5" cy="500.5" r="2.1"/><circle cx="87.7" cy="475.3" r="2.1"/><circle cx="111.0" cy="486.6" r="2.1"/><circle cx="103.8" cy="467.8" r="2.1"/><circle cx="183.7" cy="446.8" r="2.1"/><circle cx="155.8" cy="445.0" r="2.1"/><circle cx="162.6" cy="544.3" r="2.1"/><circle cx="172.5" cy="541.4" r="2.1"/><circle cx="136.8" cy="447.9" r="2.1"/><circle cx="169.5" cy="498.3" r="2.1"/><circle cx="176.2" cy="534.8" r="2.1"/><circle cx="178.9" cy="430.8" r="2.1"/><circle cx="115.1" cy="470.9" r="2.1"/><circle cx="138.3" cy="513.2" r="2.1"/><circle cx="158.7" cy="431.9" r="2.1"/><circle cx="117.0" cy="479.0" r="2.1"/><circle cx="151.6" cy="503.8" r="2.1"/><circle cx="147.1" cy="434.9" r="2.1"/><circle cx="119.6" cy="484.0" r="2.1"/><circle cx="164.6" cy="531.9" r="2.1"/><circle cx="184.0" cy="503.6" r="2.1"/><circle cx="176.0" cy="489.5" r="2.1"/><circle cx="98.0" cy="483.9" r="2.1"/><circle cx="178.6" cy="430.7" r="2.1"/><circle cx="158.3" cy="450.3" r="2.1"/><circle cx="202.3" cy="505.1" r="2.1"/><circle cx="196.9" cy="457.6" r="2.1"/><circle cx="195.3" cy="454.2" r="2.1"/><circle cx="175.1" cy="429.2" r="2.1"/><circle cx="154.7" cy="541.1" r="2.1"/><circle cx="205.3" cy="496.9" r="2.1"/><circle cx="165.1" cy="436.8" r="2.1"/><circle cx="194.4" cy="495.0" r="2.1"/><circle cx="141.9" cy="436.1" r="2.1"/><circle cx="151.9" cy="458.0" r="2.1"/><circle cx="181.4" cy="526.2" r="2.1"/><circle cx="114.1" cy="497.8" r="2.1"/><circle cx="189.4" cy="427.3" r="2.1"/><circle cx="115.7" cy="467.8" r="2.1"/><circle cx="117.0" cy="468.8" r="2.1"/><circle cx="191.3" cy="456.7" r="2.1"/><circle cx="196.1" cy="501.6" r="2.1"/><circle cx="132.0" cy="455.8" r="2.1"/><circle cx="186.5" cy="444.7" r="2.1"/><circle cx="182.9" cy="501.8" r="2.1"/><circle cx="81.7" cy="472.4" r="2.1"/><circle cx="97.1" cy="477.5" r="2.1"/><circle cx="109.8" cy="485.2" r="2.1"/><circle cx="174.4" cy="528.7" r="2.1"/><circle cx="164.7" cy="527.5" r="2.1"/><circle cx="110.4" cy="479.9" r="2.1"/><circle cx="203.9" cy="479.7" r="2.1"/><circle cx="94.2" cy="473.3" r="2.1"/><circle cx="145.5" cy="521.5" r="2.1"/><circle cx="204.2" cy="473.2" r="2.1"/><circle cx="129.0" cy="474.0" r="2.1"/><circle cx="141.5" cy="464.3" r="2.1"/><circle cx="174.8" cy="471.2" r="2.1"/><circle cx="102.4" cy="479.7" r="2.1"/><circle cx="165.3" cy="525.7" r="2.1"/><circle cx="145.6" cy="528.7" r="2.1"/><circle cx="147.7" cy="523.5" r="2.1"/><circle cx="164.0" cy="500.2" r="2.1"/><circle cx="148.8" cy="447.1" r="2.1"/><circle cx="116.5" cy="453.7" r="2.1"/><circle cx="116.7" cy="486.5" r="2.1"/><circle cx="200.7" cy="445.6" r="2.1"/><circle cx="174.2" cy="437.8" r="2.1"/><circle cx="152.0" cy="433.5" r="2.1"/><circle cx="164.2" cy="534.1" r="2.1"/></g>
<path d="M150.0,476.0 L142.2,448.0 M150.0,476.0 L162.5,477.2 M150.0,476.0 L125.5,476.1 M150.0,476.0 L176.8,481.1 M150.0,476.0 L169.3,495.7 M150.0,476.0 L154.0,504.2 M150.0,476.0 L152.2,458.9 M150.0,476.0 L174.4,470.0 M150.0,476.0 L142.5,496.0 M150.0,476.0 L145.7,464.1 M150.0,476.0 L141.7,452.2 M150.0,476.0 L141.7,463.7 M150.0,476.0 L126.3,491.7 M150.0,476.0 L143.9,458.9 M150.0,476.0 L141.3,481.8 M150.0,476.0 L158.9,465.9 M150.0,476.0 L128.6,469.3 M150.0,476.0 L142.6,499.2 M150.0,476.0 L170.5,500.7 M150.0,476.0 L133.0,465.1 M150.0,476.0 L165.7,455.9 M150.0,476.0 L138.6,444.7 M150.0,476.0 L134.6,478.8 M150.0,476.0 L161.1,467.7 M150.0,476.0 L155.8,472.3 M150.0,476.0 L135.0,461.9 M150.0,476.0 L131.8,492.4 M150.0,476.0 L154.0,485.7 M150.0,476.0 L158.5,476.9 M150.0,476.0 L142.5,505.3 M150.0,476.0 L151.3,472.2 M150.0,476.0 L149.3,471.9 M150.0,476.0 L165.6,503.2 M150.0,476.0 L160.1,466.4 M150.0,476.0 L161.8,487.5 M150.0,476.0 L126.2,500.3 M150.0,476.0 L133.5,481.8 M150.0,476.0 L150.4,459.3 M150.0,476.0 L138.0,474.6 M150.0,476.0 L119.2,472.0 M150.0,476.0 L164.9,448.9 M150.0,476.0 L177.7,485.5 M150.0,476.0 L144.2,456.6 M150.0,476.0 L175.3,480.7 M150.0,476.0 L155.7,479.7 M150.0,476.0 L150.3,463.3 M150.0,476.0 L177.9,478.2 M150.0,476.0 L147.9,479.9 M150.0,476.0 L134.0,491.7 M150.0,476.0 L158.0,485.5 M150.0,476.0 L180.5,485.6 M150.0,476.0 L150.5,493.1 M150.0,476.0 L133.2,460.1 M150.0,476.0 L152.1,494.9 M150.0,476.0 L158.6,477.2 M150.0,476.0 L160.0,485.7 M150.0,476.0 L145.1,462.4 M150.0,476.0 L167.9,448.1 M150.0,476.0 L135.8,468.5 M150.0,476.0 L161.5,467.3 M150.0,476.0 L165.6,487.6 M150.0,476.0 L141.3,444.9 M150.0,476.0 L150.9,479.6 M150.0,476.0 L155.4,477.8 M150.0,476.0 L122.8,481.2 M150.0,476.0 L130.1,492.9 M150.0,476.0 L170.9,500.6 M150.0,476.0 L146.4,471.3 M150.0,476.0 L138.5,506.5 M150.0,476.0 L163.2,464.6 M150.0,476.0 L144.2,447.8 M150.0,476.0 L168.9,477.0 M150.0,476.0 L137.3,485.2 M150.0,476.0 L135.6,494.5 M150.0,476.0 L156.9,470.6 M150.0,476.0 L155.0,470.8 M150.0,476.0 L131.0,490.8 M150.0,476.0 L180.4,483.2 M150.0,476.0 L167.6,457.4 M150.0,476.0 L129.5,497.0 M150.0,476.0 L114.4,489.2 M150.0,476.0 L88.2,474.0 M150.0,476.0 L173.6,484.5 M150.0,476.0 L173.6,527.5 M150.0,476.0 L190.9,469.3 M150.0,476.0 L104.9,475.6 M150.0,476.0 L197.3,487.7 M150.0,476.0 L205.9,490.0 M150.0,476.0 L204.3,474.6 M150.0,476.0 L181.8,456.4 M150.0,476.0 L151.1,442.1 M150.0,476.0 L156.8,522.7 M150.0,476.0 L96.8,483.1 M150.0,476.0 L132.5,500.6 M150.0,476.0 L202.5,485.1 M150.0,476.0 L168.9,518.8 M150.0,476.0 L191.1,451.7 M150.0,476.0 L197.2,502.1 M150.0,476.0 L138.7,489.7 M150.0,476.0 L132.0,504.9 M150.0,476.0 L165.6,484.2 M150.0,476.0 L148.4,503.5 M150.0,476.0 L146.0,510.5 M150.0,476.0 L201.1,487.6 M150.0,476.0 L197.6,497.1 M150.0,476.0 L182.5,470.8 M150.0,476.0 L123.9,473.3 M150.0,476.0 L168.6,440.8 M150.0,476.0 L186.4,498.9 M150.0,476.0 L184.3,454.6 M150.0,476.0 L195.8,513.0 M150.0,476.0 L179.3,498.7 M150.0,476.0 L163.9,439.2 M150.0,476.0 L199.4,476.6 M150.0,476.0 L209.1,466.2 M150.0,476.0 L93.7,475.2 M150.0,476.0 L116.0,491.2 M150.0,476.0 L108.2,473.0 M150.0,476.0 L163.9,522.3 M150.0,476.0 L200.9,468.3 M150.0,476.0 L87.5,474.1 M150.0,476.0 L197.7,472.9 M150.0,476.0 L92.7,480.2 M150.0,476.0 L135.6,443.2 M150.0,476.0 L146.3,441.5 M150.0,476.0 L195.9,448.4 M150.0,476.0 L197.3,496.7 M150.0,476.0 L207.4,488.0 M150.0,476.0 L122.2,489.7 M150.0,476.0 L102.4,484.3 M150.0,476.0 L168.9,480.3 M150.0,476.0 L180.5,510.0 M150.0,476.0 L208.4,482.0 M150.0,476.0 L197.0,514.4 M150.0,476.0 L166.3,518.6 M150.0,476.0 L145.4,516.8 M150.0,476.0 L182.8,507.1 M150.0,476.0 L168.9,512.5 M150.0,476.0 L189.8,516.4 M150.0,476.0 L210.1,475.0 M150.0,476.0 L200.1,514.8 M150.0,476.0 L184.4,521.0 M150.0,476.0 L127.7,498.8 M150.0,476.0 L187.6,491.9 M150.0,476.0 L129.9,465.9 M150.0,476.0 L141.8,503.9 M150.0,476.0 L149.1,514.5 M150.0,476.0 L178.6,523.4 M150.0,476.0 L115.3,490.2 M150.0,476.0 L193.6,511.0 M150.0,476.0 L92.1,472.0 M150.0,476.0 L175.2,491.6 M150.0,476.0 L143.9,456.4 M150.0,476.0 L171.0,504.7 M150.0,476.0 L196.7,457.9 M150.0,476.0 L207.9,467.6 M150.0,476.0 L133.7,493.7 M150.0,476.0 L144.0,500.6 M150.0,476.0 L184.9,509.9 M150.0,476.0 L202.0,501.4 M150.0,476.0 L204.6,485.4 M150.0,476.0 L85.6,470.7 M150.0,476.0 L140.7,505.9 M150.0,476.0 L205.0,484.7 M150.0,476.0 L179.0,455.5 M150.0,476.0 L207.3,459.6 M150.0,476.0 L188.1,484.8 M150.0,476.0 L193.1,456.1 M150.0,476.0 L173.2,516.3 M150.0,476.0 L191.5,490.2 M150.0,476.0 L188.0,482.5 M150.0,476.0 L198.3,483.3 M150.0,476.0 L183.4,459.4 M150.0,476.0 L165.9,525.9 M150.0,476.0 L172.5,524.7 M150.0,476.0 L175.8,515.1 M150.0,476.0 L134.4,449.1 M150.0,476.0 L189.9,469.9 M150.0,476.0 L198.8,515.7 M150.0,476.0 L188.2,506.9 M150.0,476.0 L142.9,507.8 M150.0,476.0 L135.3,443.3 M150.0,476.0 L170.3,436.5 M150.0,476.0 L179.4,496.9 M150.0,476.0 L206.8,472.3 M150.0,476.0 L128.4,498.8 M150.0,476.0 L202.3,463.4 M150.0,476.0 L118.2,464.0 M150.0,476.0 L190.3,492.7 M150.0,476.0 L189.0,445.3 M150.0,476.0 L108.9,467.4 M150.0,476.0 L133.0,448.4 M150.0,476.0 L82.5,475.7 M150.0,476.0 L132.6,504.4 M150.0,476.0 L129.5,461.9 M150.0,476.0 L140.1,501.0 M150.0,476.0 L204.4,475.9 M150.0,476.0 L208.3,465.7 M150.0,476.0 L206.6,490.6 M150.0,476.0 L193.0,455.1 M150.0,476.0 L193.7,455.5 M150.0,476.0 L190.7,485.3 M150.0,476.0 L177.2,450.0 M150.0,476.0 L202.1,459.9 M150.0,476.0 L198.9,488.0 M150.0,476.0 L208.3,463.1 M150.0,476.0 L114.0,466.5 M150.0,476.0 L180.6,518.8 M150.0,476.0 L192.9,506.8 M150.0,476.0 L170.3,483.3 M150.0,476.0 L156.6,447.2 M150.0,476.0 L200.8,450.9 M150.0,476.0 L102.5,470.3 M150.0,476.0 L187.4,482.4 M150.0,476.0 L156.2,455.2 M150.0,476.0 L145.7,452.5 M150.0,476.0 L103.6,479.0 M150.0,476.0 L181.1,461.1 M150.0,476.0 L120.4,488.3 M150.0,476.0 L161.4,524.8 M150.0,476.0 L175.3,481.8 M150.0,476.0 L131.3,466.0 M150.0,476.0 L99.6,482.5 M150.0,476.0 L149.3,441.1 M150.0,476.0 L93.2,469.3 M150.0,476.0 L163.1,521.3 M150.0,476.0 L106.3,465.3 M150.0,476.0 L199.1,496.5 M150.0,476.0 L182.7,524.2 M150.0,476.0 L175.2,438.0 M150.0,476.0 L190.9,515.4 M150.0,476.0 L144.3,509.4 M150.0,476.0 L121.7,456.7 M150.0,476.0 L165.3,512.2 M150.0,476.0 L181.5,485.1 M150.0,476.0 L196.3,512.6 M150.0,476.0 L168.6,506.3 M150.0,476.0 L139.3,456.8 M150.0,476.0 L193.9,497.9 M150.0,476.0 L138.1,505.9 M150.0,476.0 L177.5,501.8 M150.0,476.0 L153.9,509.3 M150.0,476.0 L202.7,506.6 M150.0,476.0 L194.2,468.4 M150.0,476.0 L116.8,492.1 M150.0,476.0 L204.1,475.4 M150.0,476.0 L80.7,468.9 M150.0,476.0 L193.5,475.5 M150.0,476.0 L153.0,516.9 M150.0,476.0 L139.3,500.4" stroke="#ee2a2a" stroke-width="1.0" fill="none"/>
<g fill="#ee2a2a"><circle cx="142.2" cy="448.0" r="2.1"/><circle cx="162.5" cy="477.2" r="2.1"/><circle cx="125.5" cy="476.1" r="2.1"/><circle cx="176.8" cy="481.1" r="2.1"/><circle cx="169.3" cy="495.7" r="2.1"/><circle cx="154.0" cy="504.2" r="2.1"/><circle cx="152.2" cy="458.9" r="2.1"/><circle cx="174.4" cy="470.0" r="2.1"/><circle cx="142.5" cy="496.0" r="2.1"/><circle cx="145.7" cy="464.1" r="2.1"/><circle cx="141.7" cy="452.2" r="2.1"/><circle cx="141.7" cy="463.7" r="2.1"/><circle cx="126.3" cy="491.7" r="2.1"/><circle cx="143.9" cy="458.9" r="2.1"/><circle cx="141.3" cy="481.8" r="2.1"/><circle cx="158.9" cy="465.9" r="2.1"/><circle cx="128.6" cy="469.3" r="2.1"/><circle cx="142.6" cy="499.2" r="2.1"/><circle cx="170.5" cy="500.7" r="2.1"/><circle cx="133.0" cy="465.1" r="2.1"/><circle cx="165.7" cy="455.9" r="2.1"/><circle cx="138.6" cy="444.7" r="2.1"/><circle cx="134.6" cy="478.8" r="2.1"/><circle cx="161.1" cy="467.7" r="2.1"/><circle cx="155.8" cy="472.3" r="2.1"/><circle cx="135.0" cy="461.9" r="2.1"/><circle cx="131.8" cy="492.4" r="2.1"/><circle cx="154.0" cy="485.7" r="2.1"/><circle cx="158.5" cy="476.9" r="2.1"/><circle cx="142.5" cy="505.3" r="2.1"/><circle cx="151.3" cy="472.2" r="2.1"/><circle cx="149.3" cy="471.9" r="2.1"/><circle cx="165.6" cy="503.2" r="2.1"/><circle cx="160.1" cy="466.4" r="2.1"/><circle cx="161.8" cy="487.5" r="2.1"/><circle cx="126.2" cy="500.3" r="2.1"/><circle cx="133.5" cy="481.8" r="2.1"/><circle cx="150.4" cy="459.3" r="2.1"/><circle cx="138.0" cy="474.6" r="2.1"/><circle cx="119.2" cy="472.0" r="2.1"/><circle cx="164.9" cy="448.9" r="2.1"/><circle cx="177.7" cy="485.5" r="2.1"/><circle cx="144.2" cy="456.6" r="2.1"/><circle cx="175.3" cy="480.7" r="2.1"/><circle cx="155.7" cy="479.7" r="2.1"/><circle cx="150.3" cy="463.3" r="2.1"/><circle cx="177.9" cy="478.2" r="2.1"/><circle cx="147.9" cy="479.9" r="2.1"/><circle cx="134.0" cy="491.7" r="2.1"/><circle cx="158.0" cy="485.5" r="2.1"/><circle cx="180.5" cy="485.6" r="2.1"/><circle cx="150.5" cy="493.1" r="2.1"/><circle cx="133.2" cy="460.1" r="2.1"/><circle cx="152.1" cy="494.9" r="2.1"/><circle cx="158.6" cy="477.2" r="2.1"/><circle cx="160.0" cy="485.7" r="2.1"/><circle cx="145.1" cy="462.4" r="2.1"/><circle cx="167.9" cy="448.1" r="2.1"/><circle cx="135.8" cy="468.5" r="2.1"/><circle cx="161.5" cy="467.3" r="2.1"/><circle cx="165.6" cy="487.6" r="2.1"/><circle cx="141.3" cy="444.9" r="2.1"/><circle cx="150.9" cy="479.6" r="2.1"/><circle cx="155.4" cy="477.8" r="2.1"/><circle cx="122.8" cy="481.2" r="2.1"/><circle cx="130.1" cy="492.9" r="2.1"/><circle cx="170.9" cy="500.6" r="2.1"/><circle cx="146.4" cy="471.3" r="2.1"/><circle cx="138.5" cy="506.5" r="2.1"/><circle cx="163.2" cy="464.6" r="2.1"/><circle cx="144.2" cy="447.8" r="2.1"/><circle cx="168.9" cy="477.0" r="2.1"/><circle cx="137.3" cy="485.2" r="2.1"/><circle cx="135.6" cy="494.5" r="2.1"/><circle cx="156.9" cy="470.6" r="2.1"/><circle cx="155.0" cy="470.8" r="2.1"/><circle cx="131.0" cy="490.8" r="2.1"/><circle cx="180.4" cy="483.2" r="2.1"/><circle cx="167.6" cy="457.4" r="2.1"/><circle cx="129.5" cy="497.0" r="2.1"/><circle cx="114.4" cy="489.2" r="2.1"/><circle cx="88.2" cy="474.0" r="2.1"/><circle cx="173.6" cy="484.5" r="2.1"/><circle cx="173.6" cy="527.5" r="2.1"/><circle cx="190.9" cy="469.3" r="2.1"/><circle cx="104.9" cy="475.6" r="2.1"/><circle cx="197.3" cy="487.7" r="2.1"/><circle cx="205.9" cy="490.0" r="2.1"/><circle cx="204.3" cy="474.6" r="2.1"/><circle cx="181.8" cy="456.4" r="2.1"/><circle cx="151.1" cy="442.1" r="2.1"/><circle cx="156.8" cy="522.7" r="2.1"/><circle cx="96.8" cy="483.1" r="2.1"/><circle cx="132.5" cy="500.6" r="2.1"/><circle cx="202.5" cy="485.1" r="2.1"/><circle cx="168.9" cy="518.8" r="2.1"/><circle cx="191.1" cy="451.7" r="2.1"/><circle cx="197.2" cy="502.1" r="2.1"/><circle cx="138.7" cy="489.7" r="2.1"/><circle cx="132.0" cy="504.9" r="2.1"/><circle cx="165.6" cy="484.2" r="2.1"/><circle cx="148.4" cy="503.5" r="2.1"/><circle cx="146.0" cy="510.5" r="2.1"/><circle cx="201.1" cy="487.6" r="2.1"/><circle cx="197.6" cy="497.1" r="2.1"/><circle cx="182.5" cy="470.8" r="2.1"/><circle cx="123.9" cy="473.3" r="2.1"/><circle cx="168.6" cy="440.8" r="2.1"/><circle cx="186.4" cy="498.9" r="2.1"/><circle cx="184.3" cy="454.6" r="2.1"/><circle cx="195.8" cy="513.0" r="2.1"/><circle cx="179.3" cy="498.7" r="2.1"/><circle cx="163.9" cy="439.2" r="2.1"/><circle cx="199.4" cy="476.6" r="2.1"/><circle cx="209.1" cy="466.2" r="2.1"/><circle cx="93.7" cy="475.2" r="2.1"/><circle cx="116.0" cy="491.2" r="2.1"/><circle cx="108.2" cy="473.0" r="2.1"/><circle cx="163.9" cy="522.3" r="2.1"/><circle cx="200.9" cy="468.3" r="2.1"/><circle cx="87.5" cy="474.1" r="2.1"/><circle cx="197.7" cy="472.9" r="2.1"/><circle cx="92.7" cy="480.2" r="2.1"/><circle cx="135.6" cy="443.2" r="2.1"/><circle cx="146.3" cy="441.5" r="2.1"/><circle cx="195.9" cy="448.4" r="2.1"/><circle cx="197.3" cy="496.7" r="2.1"/><circle cx="207.4" cy="488.0" r="2.1"/><circle cx="122.2" cy="489.7" r="2.1"/><circle cx="102.4" cy="484.3" r="2.1"/><circle cx="168.9" cy="480.3" r="2.1"/><circle cx="180.5" cy="510.0" r="2.1"/><circle cx="208.4" cy="482.0" r="2.1"/><circle cx="197.0" cy="514.4" r="2.1"/><circle cx="166.3" cy="518.6" r="2.1"/><circle cx="145.4" cy="516.8" r="2.1"/><circle cx="182.8" cy="507.1" r="2.1"/><circle cx="168.9" cy="512.5" r="2.1"/><circle cx="189.8" cy="516.4" r="2.1"/><circle cx="210.1" cy="475.0" r="2.1"/><circle cx="200.1" cy="514.8" r="2.1"/><circle cx="184.4" cy="521.0" r="2.1"/><circle cx="127.7" cy="498.8" r="2.1"/><circle cx="187.6" cy="491.9" r="2.1"/><circle cx="129.9" cy="465.9" r="2.1"/><circle cx="141.8" cy="503.9" r="2.1"/><circle cx="149.1" cy="514.5" r="2.1"/><circle cx="178.6" cy="523.4" r="2.1"/><circle cx="115.3" cy="490.2" r="2.1"/><circle cx="193.6" cy="511.0" r="2.1"/><circle cx="92.1" cy="472.0" r="2.1"/><circle cx="175.2" cy="491.6" r="2.1"/><circle cx="143.9" cy="456.4" r="2.1"/><circle cx="171.0" cy="504.7" r="2.1"/><circle cx="196.7" cy="457.9" r="2.1"/><circle cx="207.9" cy="467.6" r="2.1"/><circle cx="133.7" cy="493.7" r="2.1"/><circle cx="144.0" cy="500.6" r="2.1"/><circle cx="184.9" cy="509.9" r="2.1"/><circle cx="202.0" cy="501.4" r="2.1"/><circle cx="204.6" cy="485.4" r="2.1"/><circle cx="85.6" cy="470.7" r="2.1"/><circle cx="140.7" cy="505.9" r="2.1"/><circle cx="205.0" cy="484.7" r="2.1"/><circle cx="179.0" cy="455.5" r="2.1"/><circle cx="207.3" cy="459.6" r="2.1"/><circle cx="188.1" cy="484.8" r="2.1"/><circle cx="193.1" cy="456.1" r="2.1"/><circle cx="173.2" cy="516.3" r="2.1"/><circle cx="191.5" cy="490.2" r="2.1"/><circle cx="188.0" cy="482.5" r="2.1"/><circle cx="198.3" cy="483.3" r="2.1"/><circle cx="183.4" cy="459.4" r="2.1"/><circle cx="165.9" cy="525.9" r="2.1"/><circle cx="172.5" cy="524.7" r="2.1"/><circle cx="175.8" cy="515.1" r="2.1"/><circle cx="134.4" cy="449.1" r="2.1"/><circle cx="189.9" cy="469.9" r="2.1"/><circle cx="198.8" cy="515.7" r="2.1"/><circle cx="188.2" cy="506.9" r="2.1"/><circle cx="142.9" cy="507.8" r="2.1"/><circle cx="135.3" cy="443.3" r="2.1"/><circle cx="170.3" cy="436.5" r="2.1"/><circle cx="179.4" cy="496.9" r="2.1"/><circle cx="206.8" cy="472.3" r="2.1"/><circle cx="128.4" cy="498.8" r="2.1"/><circle cx="202.3" cy="463.4" r="2.1"/><circle cx="118.2" cy="464.0" r="2.1"/><circle cx="190.3" cy="492.7" r="2.1"/><circle cx="189.0" cy="445.3" r="2.1"/><circle cx="108.9" cy="467.4" r="2.1"/><circle cx="133.0" cy="448.4" r="2.1"/><circle cx="82.5" cy="475.7" r="2.1"/><circle cx="132.6" cy="504.4" r="2.1"/><circle cx="129.5" cy="461.9" r="2.1"/><circle cx="140.1" cy="501.0" r="2.1"/><circle cx="204.4" cy="475.9" r="2.1"/><circle cx="208.3" cy="465.7" r="2.1"/><circle cx="206.6" cy="490.6" r="2.1"/><circle cx="193.0" cy="455.1" r="2.1"/><circle cx="193.7" cy="455.5" r="2.1"/><circle cx="190.7" cy="485.3" r="2.1"/><circle cx="177.2" cy="450.0" r="2.1"/><circle cx="202.1" cy="459.9" r="2.1"/><circle cx="198.9" cy="488.0" r="2.1"/><circle cx="208.3" cy="463.1" r="2.1"/><circle cx="114.0" cy="466.5" r="2.1"/><circle cx="180.6" cy="518.8" r="2.1"/><circle cx="192.9" cy="506.8" r="2.1"/><circle cx="170.3" cy="483.3" r="2.1"/><circle cx="156.6" cy="447.2" r="2.1"/><circle cx="200.8" cy="450.9" r="2.1"/><circle cx="102.5" cy="470.3" r="2.1"/><circle cx="187.4" cy="482.4" r="2.1"/><circle cx="156.2" cy="455.2" r="2.1"/><circle cx="145.7" cy="452.5" r="2.1"/><circle cx="103.6" cy="479.0" r="2.1"/><circle cx="181.1" cy="461.1" r="2.1"/><circle cx="120.4" cy="488.3" r="2.1"/><circle cx="161.4" cy="524.8" r="2.1"/><circle cx="175.3" cy="481.8" r="2.1"/><circle cx="131.3" cy="466.0" r="2.1"/><circle cx="99.6" cy="482.5" r="2.1"/><circle cx="149.3" cy="441.1" r="2.1"/><circle cx="93.2" cy="469.3" r="2.1"/><circle cx="163.1" cy="521.3" r="2.1"/><circle cx="106.3" cy="465.3" r="2.1"/><circle cx="199.1" cy="496.5" r="2.1"/><circle cx="182.7" cy="524.2" r="2.1"/><circle cx="175.2" cy="438.0" r="2.1"/><circle cx="190.9" cy="515.4" r="2.1"/><circle cx="144.3" cy="509.4" r="2.1"/><circle cx="121.7" cy="456.7" r="2.1"/><circle cx="165.3" cy="512.2" r="2.1"/><circle cx="181.5" cy="485.1" r="2.1"/><circle cx="196.3" cy="512.6" r="2.1"/><circle cx="168.6" cy="506.3" r="2.1"/><circle cx="139.3" cy="456.8" r="2.1"/><circle cx="193.9" cy="497.9" r="2.1"/><circle cx="138.1" cy="505.9" r="2.1"/><circle cx="177.5" cy="501.8" r="2.1"/><circle cx="153.9" cy="509.3" r="2.1"/><circle cx="202.7" cy="506.6" r="2.1"/><circle cx="194.2" cy="468.4" r="2.1"/><circle cx="116.8" cy="492.1" r="2.1"/><circle cx="204.1" cy="475.4" r="2.1"/><circle cx="80.7" cy="468.9" r="2.1"/><circle cx="193.5" cy="475.5" r="2.1"/><circle cx="153.0" cy="516.9" r="2.1"/><circle cx="139.3" cy="500.4" r="2.1"/></g>
<line x1="154.4" y1="403.4" x2="154.4" y2="559.2" stroke="#bdbdbd" stroke-width="1.3"/>
<line x1="54.6" y1="476.6" x2="243.4" y2="476.6" stroke="#bdbdbd" stroke-width="1.3"/>
</g>
<rect x="54.6" y="403.4" width="188.8" height="155.80000000000007" fill="none" stroke="#000" stroke-width="1.4"/>
<line x1="104.30" y1="559.2" x2="104.30" y2="562.0" stroke="#333" stroke-width="1"/>
<text x="104.30" y="571.30" font-size="10.8" font-weight="normal" font-style="normal" text-anchor="middle" fill="#333" stroke="#333" stroke-width="0.15">−0.3</text>
<line x1="154.40" y1="559.2" x2="154.40" y2="562.0" stroke="#333" stroke-width="1"/>
<text x="154.40" y="571.30" font-size="10.8" font-weight="normal" font-style="normal" text-anchor="middle" fill="#333" stroke="#333" stroke-width="0.15">0.0</text>
<line x1="204.50" y1="559.2" x2="204.50" y2="562.0" stroke="#333" stroke-width="1"/>
<text x="204.50" y="571.30" font-size="10.8" font-weight="normal" font-style="normal" text-anchor="middle" fill="#333" stroke="#333" stroke-width="0.15">0.3</text>
<line x1="51.800000000000004" y1="435.20" x2="54.6" y2="435.20" stroke="#333" stroke-width="1"/>
<text x="50.00" y="439.10" font-size="10.8" font-weight="normal" font-style="normal" text-anchor="end" fill="#333" stroke="#333" stroke-width="0.15">0.25</text>
<line x1="51.800000000000004" y1="476.60" x2="54.6" y2="476.60" stroke="#333" stroke-width="1"/>
<text x="50.00" y="480.50" font-size="10.8" font-weight="normal" font-style="normal" text-anchor="end" fill="#333" stroke="#333" stroke-width="0.15">0.00</text>
<line x1="51.800000000000004" y1="518.00" x2="54.6" y2="518.00" stroke="#333" stroke-width="1"/>
<text x="50.00" y="521.90" font-size="10.8" font-weight="normal" font-style="normal" text-anchor="end" fill="#333" stroke="#333" stroke-width="0.15">−0.25</text>
<text x="66.2" y="396.2" font-size="11.6" fill="#1a1a1a"><tspan font-style="italic">p</tspan> = 0.001</text>
<line x1="133.1" y1="392.4" x2="142.1" y2="392.4" stroke="#33459b" stroke-width="1.2"/><circle cx="137.6" cy="392.4" r="3.3" fill="#33459b"/>
<text x="146.40" y="396.20" font-size="11.6" font-weight="normal" font-style="normal" text-anchor="start" fill="#1a1a1a" stroke="#1a1a1a" stroke-width="0.15">IBD</text>
<line x1="171.4" y1="392.4" x2="180.4" y2="392.4" stroke="#ee2a2a" stroke-width="1.2"/><circle cx="175.9" cy="392.4" r="3.3" fill="#ee2a2a"/>
<text x="182.40" y="396.20" font-size="11.6" font-weight="normal" font-style="normal" text-anchor="start" fill="#1a1a1a" stroke="#1a1a1a" stroke-width="0.15">non-IBD</text>
<text x="16.00" y="484.00" font-size="11.8" font-weight="bold" font-style="normal" text-anchor="middle" fill="#1a1a1a" transform="rotate(-90.00 16.00 484.00)">PCoA2:&#160; 8.73 %</text>
<text x="145.60" y="590.00" font-size="11.8" font-weight="bold" font-style="normal" text-anchor="middle" fill="#1a1a1a">PCoA1:&#160; 14.49 %</text>
<clipPath id="clip654"><rect x="53.9" y="654.2" width="187.4" height="154.69999999999993"/></clipPath>
<g clip-path="url(#clip654)">
<ellipse cx="143.9" cy="731.8" rx="82.7" ry="59.7" transform="rotate(2.0 143.9 731.8)" fill="#33459b" fill-opacity="0.11" stroke="none"/>
<ellipse cx="153.1" cy="728.7" rx="80.8" ry="65.5" transform="rotate(-7.3 153.1 728.7)" fill="#ee2a2a" fill-opacity="0.1" stroke="none"/>
<ellipse cx="143.9" cy="731.8" rx="82.7" ry="59.7" transform="rotate(2.0 143.9 731.8)" fill="none" stroke="#33459b" stroke-width="1.2"/>
<ellipse cx="153.1" cy="728.7" rx="80.8" ry="65.5" transform="rotate(-7.3 153.1 728.7)" fill="none" stroke="#ee2a2a" stroke-width="1.2"/>
<path d="M147.0,732.0 L198.4,786.8 M147.0,732.0 L101.9,751.7 M147.0,732.0 L151.2,802.9 M147.0,732.0 L117.2,773.3 M147.0,732.0 L178.2,674.1 M147.0,732.0 L175.1,713.9 M147.0,732.0 L124.1,706.2 M147.0,732.0 L120.2,706.5 M147.0,732.0 L208.2,779.5 M147.0,732.0 L125.3,722.7 M147.0,732.0 L113.4,770.6 M147.0,732.0 L206.4,757.2 M147.0,732.0 L179.3,672.1 M147.0,732.0 L110.1,723.7 M147.0,732.0 L157.6,686.2 M147.0,732.0 L181.8,714.6 M147.0,732.0 L113.0,753.1 M147.0,732.0 L118.2,772.1 M147.0,732.0 L123.8,708.1 M147.0,732.0 L108.5,743.2 M147.0,732.0 L171.2,793.4 M147.0,732.0 L104.9,740.4 M147.0,732.0 L174.9,708.8 M147.0,732.0 L121.9,704.5 M147.0,732.0 L121.8,712.9 M147.0,732.0 L153.6,696.8 M147.0,732.0 L107.8,726.5 M147.0,732.0 L102.3,735.2 M147.0,732.0 L100.7,737.9 M147.0,732.0 L107.2,747.8 M147.0,732.0 L172.7,678.0 M147.0,732.0 L148.8,708.7 M147.0,732.0 L147.4,792.4 M147.0,732.0 L171.1,783.2 M147.0,732.0 L189.6,777.8 M147.0,732.0 L174.4,758.7 M147.0,732.0 L173.1,798.0 M147.0,732.0 L143.2,785.2 M147.0,732.0 L159.8,694.2 M147.0,732.0 L198.6,753.0 M147.0,732.0 L127.3,714.6 M147.0,732.0 L122.6,755.2 M147.0,732.0 L125.7,779.9 M147.0,732.0 L178.9,778.7 M147.0,732.0 L138.9,703.5 M147.0,732.0 L212.3,769.6 M147.0,732.0 L135.7,725.9 M147.0,732.0 L108.0,717.5 M147.0,732.0 L113.2,715.4 M147.0,732.0 L130.7,705.1 M147.0,732.0 L159.5,781.9 M147.0,732.0 L112.7,747.6 M147.0,732.0 L133.7,698.4 M147.0,732.0 L208.3,699.8 M147.0,732.0 L123.9,775.3 M147.0,732.0 L117.6,720.1 M147.0,732.0 L186.4,784.9 M147.0,732.0 L132.9,700.4 M147.0,732.0 L113.3,714.0 M147.0,732.0 L98.0,734.3 M147.0,732.0 L110.9,743.7 M147.0,732.0 L116.5,732.3 M147.0,732.0 L111.3,767.5 M147.0,732.0 L127.8,707.1 M147.0,732.0 L170.4,785.2 M147.0,732.0 L186.4,779.1 M147.0,732.0 L113.8,764.7 M147.0,732.0 L189.6,771.9 M147.0,732.0 L203.5,789.7 M147.0,732.0 L204.5,785.9 M147.0,732.0 L214.6,763.0 M147.0,732.0 L160.6,687.5 M147.0,732.0 L210.8,748.0 M147.0,732.0 L161.9,690.4 M147.0,732.0 L226.9,772.2 M147.0,732.0 L138.8,701.0 M147.0,732.0 L137.6,697.4 M147.0,732.0 L207.3,706.4 M147.0,732.0 L99.6,733.5 M147.0,732.0 L117.8,740.3 M147.0,732.0 L135.2,721.0 M147.0,732.0 L127.6,702.1 M147.0,732.0 L108.8,720.2 M147.0,732.0 L103.1,742.2 M147.0,732.0 L156.9,687.5 M147.0,732.0 L118.5,719.6 M147.0,732.0 L144.7,779.2 M147.0,732.0 L205.8,778.4 M147.0,732.0 L172.1,766.4 M147.0,732.0 L199.2,763.8 M147.0,732.0 L129.5,718.8 M147.0,732.0 L153.8,697.7 M147.0,732.0 L133.5,772.8 M147.0,732.0 L109.8,720.8 M147.0,732.0 L218.1,775.1 M147.0,732.0 L150.3,762.8 M147.0,732.0 L127.7,768.3 M147.0,732.0 L140.9,692.1 M147.0,732.0 L133.7,704.4 M147.0,732.0 L224.7,788.3 M147.0,732.0 L198.0,742.6 M147.0,732.0 L117.8,724.3 M147.0,732.0 L133.3,766.4 M147.0,732.0 L116.9,710.1 M147.0,732.0 L173.9,796.0 M147.0,732.0 L106.0,756.6 M147.0,732.0 L163.8,794.5 M147.0,732.0 L170.3,685.9 M147.0,732.0 L201.5,755.1 M147.0,732.0 L190.2,767.3 M147.0,732.0 L114.5,711.0 M147.0,732.0 L203.6,789.2 M147.0,732.0 L111.3,723.1 M147.0,732.0 L117.9,757.1 M147.0,732.0 L208.2,704.9 M147.0,732.0 L199.4,675.6 M147.0,732.0 L191.7,665.9 M147.0,732.0 L116.8,769.2 M147.0,732.0 L162.2,768.8 M147.0,732.0 L187.0,780.9 M147.0,732.0 L124.9,709.2 M147.0,732.0 L184.9,781.4 M147.0,732.0 L125.2,750.5 M147.0,732.0 L112.1,761.9 M147.0,732.0 L129.3,772.9 M147.0,732.0 L125.7,759.9 M147.0,732.0 L130.9,783.8 M147.0,732.0 L95.8,741.8 M147.0,732.0 L112.5,720.6 M147.0,732.0 L113.3,727.1 M147.0,732.0 L126.0,706.6 M147.0,732.0 L153.4,688.4 M147.0,732.0 L137.9,756.6 M147.0,732.0 L224.7,760.4 M147.0,732.0 L119.1,709.5 M147.0,732.0 L190.2,689.7 M147.0,732.0 L141.3,786.7 M147.0,732.0 L111.4,715.2 M147.0,732.0 L165.0,682.2 M147.0,732.0 L116.8,718.2 M147.0,732.0 L145.9,707.2 M147.0,732.0 L112.6,741.5 M147.0,732.0 L121.0,773.5 M147.0,732.0 L187.2,677.2 M147.0,732.0 L145.8,704.2 M147.0,732.0 L122.8,714.3 M147.0,732.0 L198.4,786.1 M147.0,732.0 L140.1,773.5 M147.0,732.0 L140.2,700.1 M147.0,732.0 L134.6,766.6 M147.0,732.0 L182.3,756.4 M147.0,732.0 L115.1,758.4 M147.0,732.0 L107.6,747.5 M147.0,732.0 L187.3,758.4 M147.0,732.0 L182.1,756.4 M147.0,732.0 L122.7,726.6 M147.0,732.0 L209.6,742.1 M147.0,732.0 L168.8,763.6 M147.0,732.0 L153.2,688.2 M147.0,732.0 L163.8,783.1 M147.0,732.0 L135.9,706.1 M147.0,732.0 L106.1,759.3 M147.0,732.0 L174.8,713.8 M147.0,732.0 L127.5,744.5 M147.0,732.0 L99.1,748.9 M147.0,732.0 L131.1,722.9 M147.0,732.0 L117.8,721.8 M147.0,732.0 L129.7,708.1 M147.0,732.0 L113.1,715.6 M147.0,732.0 L184.0,775.2 M147.0,732.0 L141.7,703.6 M147.0,732.0 L123.9,773.9 M147.0,732.0 L157.2,691.7 M147.0,732.0 L134.2,750.5 M147.0,732.0 L167.6,690.0 M147.0,732.0 L127.0,702.1 M147.0,732.0 L121.5,705.6 M147.0,732.0 L150.9,696.2 M147.0,732.0 L101.7,754.1 M147.0,732.0 L124.1,749.7 M147.0,732.0 L116.0,749.3 M147.0,732.0 L102.2,746.2 M147.0,732.0 L191.5,705.5 M147.0,732.0 L109.6,724.2 M147.0,732.0 L219.0,771.8 M147.0,732.0 L140.7,706.8 M147.0,732.0 L124.0,779.0 M147.0,732.0 L109.5,764.0 M147.0,732.0 L117.3,749.8 M147.0,732.0 L131.2,703.0 M147.0,732.0 L221.8,758.6 M147.0,732.0 L133.8,778.3 M147.0,732.0 L152.0,696.3 M147.0,732.0 L205.6,737.7 M147.0,732.0 L150.8,691.2 M147.0,732.0 L192.5,696.3 M147.0,732.0 L107.1,730.9 M147.0,732.0 L119.0,748.4 M147.0,732.0 L111.2,715.4 M147.0,732.0 L100.4,728.1 M147.0,732.0 L107.7,718.7 M147.0,732.0 L112.5,713.1 M147.0,732.0 L126.6,778.8 M147.0,732.0 L195.1,674.5 M147.0,732.0 L156.2,787.6 M147.0,732.0 L159.7,785.4 M147.0,732.0 L198.5,764.2 M147.0,732.0 L103.2,725.5 M147.0,732.0 L191.7,778.1 M147.0,732.0 L128.5,707.4 M147.0,732.0 L167.7,799.4 M147.0,732.0 L103.4,734.8 M147.0,732.0 L183.5,723.6 M147.0,732.0 L133.3,777.9 M147.0,732.0 L101.4,726.0 M147.0,732.0 L127.1,736.5 M147.0,732.0 L187.1,750.2 M147.0,732.0 L201.0,715.9 M147.0,732.0 L186.5,754.3 M147.0,732.0 L220.2,766.7 M147.0,732.0 L123.1,717.4 M147.0,732.0 L115.0,768.6 M147.0,732.0 L193.1,716.4 M147.0,732.0 L96.6,737.4 M147.0,732.0 L117.7,712.4 M147.0,732.0 L114.8,716.5 M147.0,732.0 L200.0,763.6 M147.0,732.0 L124.4,782.4 M147.0,732.0 L190.6,790.6 M147.0,732.0 L121.7,769.4 M147.0,732.0 L224.5,779.9 M147.0,732.0 L130.4,724.3 M147.0,732.0 L210.2,736.9 M147.0,732.0 L116.7,713.2 M147.0,732.0 L204.2,791.9 M147.0,732.0 L119.1,724.9 M147.0,732.0 L119.3,716.9 M147.0,732.0 L134.4,708.4 M147.0,732.0 L116.8,722.2 M147.0,732.0 L191.9,767.9 M147.0,732.0 L117.1,748.3 M147.0,732.0 L105.9,754.5 M147.0,732.0 L128.4,702.0 M147.0,732.0 L96.9,733.7 M147.0,732.0 L108.3,750.0 M147.0,732.0 L97.2,747.2 M147.0,732.0 L116.5,769.9 M147.0,732.0 L123.7,778.6 M147.0,732.0 L120.6,705.6 M147.0,732.0 L108.5,762.6 M147.0,732.0 L155.9,777.3 M147.0,732.0 L112.2,767.6 M147.0,732.0 L102.8,755.2 M147.0,732.0 L112.0,731.3 M147.0,732.0 L169.4,785.2 M147.0,732.0 L129.7,785.7 M147.0,732.0 L125.6,701.9 M147.0,732.0 L132.6,709.4 M147.0,732.0 L130.1,786.9 M147.0,732.0 L195.1,762.8 M147.0,732.0 L98.4,736.3 M147.0,732.0 L105.8,729.8 M147.0,732.0 L143.4,696.8 M147.0,732.0 L216.6,758.9 M147.0,732.0 L193.7,779.6 M147.0,732.0 L110.8,716.6 M147.0,732.0 L154.6,793.0 M147.0,732.0 L151.6,690.8 M147.0,732.0 L108.4,728.7 M147.0,732.0 L193.0,690.0 M147.0,732.0 L136.0,716.3 M147.0,732.0 L124.3,702.5 M147.0,732.0 L194.9,785.2 M147.0,732.0 L119.8,707.6 M147.0,732.0 L155.9,696.2 M147.0,732.0 L204.6,791.4 M147.0,732.0 L191.2,706.1 M147.0,732.0 L183.3,770.2 M147.0,732.0 L114.9,750.1 M147.0,732.0 L95.4,741.7 M147.0,732.0 L116.3,713.3 M147.0,732.0 L208.6,791.2 M147.0,732.0 L163.1,800.5 M147.0,732.0 L173.5,713.0 M147.0,732.0 L190.7,791.1 M147.0,732.0 L129.3,772.0 M147.0,732.0 L226.5,765.7 M147.0,732.0 L163.9,688.4 M147.0,732.0 L107.9,749.2 M147.0,732.0 L224.7,773.4 M147.0,732.0 L179.6,789.9 M147.0,732.0 L124.6,712.1 M147.0,732.0 L128.5,743.5 M147.0,732.0 L114.2,717.8 M147.0,732.0 L111.3,753.2 M147.0,732.0 L129.9,710.6 M147.0,732.0 L107.4,727.5 M147.0,732.0 L130.4,785.7 M147.0,732.0 L116.4,765.8 M147.0,732.0 L116.3,712.5 M147.0,732.0 L133.5,777.0 M147.0,732.0 L174.6,799.1 M147.0,732.0 L109.7,716.6 M147.0,732.0 L197.7,770.2 M147.0,732.0 L106.2,741.8 M147.0,732.0 L108.5,746.4 M147.0,732.0 L129.7,767.5 M147.0,732.0 L158.2,701.3 M147.0,732.0 L137.3,783.8 M147.0,732.0 L135.6,783.7 M147.0,732.0 L127.5,770.8 M147.0,732.0 L100.0,749.3 M147.0,732.0 L169.8,678.7 M147.0,732.0 L99.7,727.9 M147.0,732.0 L209.2,738.6 M147.0,732.0 L201.8,700.3 M147.0,732.0 L128.1,706.2 M147.0,732.0 L126.5,708.2 M147.0,732.0 L131.3,783.7 M147.0,732.0 L132.9,708.6 M147.0,732.0 L99.6,735.2 M147.0,732.0 L186.4,785.8 M147.0,732.0 L118.2,755.7 M147.0,732.0 L152.9,694.8 M147.0,732.0 L130.6,778.6 M147.0,732.0 L114.8,757.6 M147.0,732.0 L135.8,767.6 M147.0,732.0 L108.2,760.5 M147.0,732.0 L126.7,710.0 M147.0,732.0 L111.7,747.6 M147.0,732.0 L108.7,717.3 M147.0,732.0 L128.7,775.2 M147.0,732.0 L129.2,786.2 M147.0,732.0 L137.4,695.3 M147.0,732.0 L109.7,758.6 M147.0,732.0 L137.5,793.0 M147.0,732.0 L127.2,765.6 M147.0,732.0 L125.3,708.9 M147.0,732.0 L168.8,679.6 M147.0,732.0 L178.2,713.4 M147.0,732.0 L129.1,764.5 M147.0,732.0 L144.9,690.5 M147.0,732.0 L130.2,708.2 M147.0,732.0 L99.8,745.2 M147.0,732.0 L124.5,719.8 M147.0,732.0 L108.5,727.3 M147.0,732.0 L149.8,693.3 M147.0,732.0 L121.8,772.4 M147.0,732.0 L137.3,723.4 M147.0,732.0 L112.5,751.8 M147.0,732.0 L200.2,687.4 M147.0,732.0 L101.1,732.6 M147.0,732.0 L125.0,772.5 M147.0,732.0 L204.5,780.5 M147.0,732.0 L172.2,687.9 M147.0,732.0 L181.7,782.9 M147.0,732.0 L111.6,756.4 M147.0,732.0 L155.0,763.3 M147.0,732.0 L182.2,788.2 M147.0,732.0 L189.3,753.0 M147.0,732.0 L140.9,710.7 M147.0,732.0 L114.8,716.0 M147.0,732.0 L226.5,764.3 M147.0,732.0 L120.4,779.1 M147.0,732.0 L116.7,761.2 M147.0,732.0 L214.5,772.4 M147.0,732.0 L98.2,733.4 M147.0,732.0 L117.7,712.3 M147.0,732.0 L165.7,784.3 M147.0,732.0 L169.5,794.5 M147.0,732.0 L113.0,741.6 M147.0,732.0 L109.9,753.5 M147.0,732.0 L142.7,695.8 M147.0,732.0 L110.1,753.1 M147.0,732.0 L124.7,726.6 M147.0,732.0 L217.6,769.8 M147.0,732.0 L210.4,783.9 M147.0,732.0 L98.3,740.9 M147.0,732.0 L149.6,782.5 M147.0,732.0 L200.3,739.8 M147.0,732.0 L104.7,748.3 M147.0,732.0 L185.4,699.8 M147.0,732.0 L113.2,756.0 M147.0,732.0 L221.6,766.5 M147.0,732.0 L146.7,692.2 M147.0,732.0 L154.2,782.5 M147.0,732.0 L130.3,780.0 M147.0,732.0 L153.1,688.5 M147.0,732.0 L131.1,780.9 M147.0,732.0 L135.2,696.1 M147.0,732.0 L114.4,770.4 M147.0,732.0 L111.1,766.6 M147.0,732.0 L126.7,718.4 M147.0,732.0 L213.6,767.4 M147.0,732.0 L132.2,724.8 M147.0,732.0 L115.4,721.6 M147.0,732.0 L121.9,728.2 M147.0,732.0 L127.0,715.0 M147.0,732.0 L109.8,716.6 M147.0,732.0 L173.1,777.3 M147.0,732.0 L204.2,774.5 M147.0,732.0 L115.8,746.9 M147.0,732.0 L119.1,713.1 M147.0,732.0 L128.1,749.0 M147.0,732.0 L123.4,715.9 M147.0,732.0 L108.3,718.3 M147.0,732.0 L216.6,783.5 M147.0,732.0 L184.3,707.2 M147.0,732.0 L211.1,699.1 M147.0,732.0 L179.3,780.3 M147.0,732.0 L114.7,760.0 M147.0,732.0 L206.5,771.4 M147.0,732.0 L213.4,759.4 M147.0,732.0 L111.9,765.1 M147.0,732.0 L194.9,779.7 M147.0,732.0 L104.4,734.9 M147.0,732.0 L129.2,767.0 M147.0,732.0 L104.3,754.8 M147.0,732.0 L110.9,727.4 M147.0,732.0 L115.4,757.2" stroke="#33459b" stroke-width="1.0" fill="none"/>
<g fill="#33459b"><circle cx="198.4" cy="786.8" r="2.1"/><circle cx="101.9" cy="751.7" r="2.1"/><circle cx="151.2" cy="802.9" r="2.1"/><circle cx="117.2" cy="773.3" r="2.1"/><circle cx="178.2" cy="674.1" r="2.1"/><circle cx="175.1" cy="713.9" r="2.1"/><circle cx="124.1" cy="706.2" r="2.1"/><circle cx="120.2" cy="706.5" r="2.1"/><circle cx="208.2" cy="779.5" r="2.1"/><circle cx="125.3" cy="722.7" r="2.1"/><circle cx="113.4" cy="770.6" r="2.1"/><circle cx="206.4" cy="757.2" r="2.1"/><circle cx="179.3" cy="672.1" r="2.1"/><circle cx="110.1" cy="723.7" r="2.1"/><circle cx="157.6" cy="686.2" r="2.1"/><circle cx="181.8" cy="714.6" r="2.1"/><circle cx="113.0" cy="753.1" r="2.1"/><circle cx="118.2" cy="772.1" r="2.1"/><circle cx="123.8" cy="708.1" r="2.1"/><circle cx="108.5" cy="743.2" r="2.1"/><circle cx="171.2" cy="793.4" r="2.1"/><circle cx="104.9" cy="740.4" r="2.1"/><circle cx="174.9" cy="708.8" r="2.1"/><circle cx="121.9" cy="704.5" r="2.1"/><circle cx="121.8" cy="712.9" r="2.1"/><circle cx="153.6" cy="696.8" r="2.1"/><circle cx="107.8" cy="726.5" r="2.1"/><circle cx="102.3" cy="735.2" r="2.1"/><circle cx="100.7" cy="737.9" r="2.1"/><circle cx="107.2" cy="747.8" r="2.1"/><circle cx="172.7" cy="678.0" r="2.1"/><circle cx="148.8" cy="708.7" r="2.1"/><circle cx="147.4" cy="792.4" r="2.1"/><circle cx="171.1" cy="783.2" r="2.1"/><circle cx="189.6" cy="777.8" r="2.1"/><circle cx="174.4" cy="758.7" r="2.1"/><circle cx="173.1" cy="798.0" r="2.1"/><circle cx="143.2" cy="785.2" r="2.1"/><circle cx="159.8" cy="694.2" r="2.1"/><circle cx="198.6" cy="753.0" r="2.1"/><circle cx="127.3" cy="714.6" r="2.1"/><circle cx="122.6" cy="755.2" r="2.1"/><circle cx="125.7" cy="779.9" r="2.1"/><circle cx="178.9" cy="778.7" r="2.1"/><circle cx="138.9" cy="703.5" r="2.1"/><circle cx="212.3" cy="769.6" r="2.1"/><circle cx="135.7" cy="725.9" r="2.1"/><circle cx="108.0" cy="717.5" r="2.1"/><circle cx="113.2" cy="715.4" r="2.1"/><circle cx="130.7" cy="705.1" r="2.1"/><circle cx="159.5" cy="781.9" r="2.1"/><circle cx="112.7" cy="747.6" r="2.1"/><circle cx="133.7" cy="698.4" r="2.1"/><circle cx="208.3" cy="699.8" r="2.1"/><circle cx="123.9" cy="775.3" r="2.1"/><circle cx="117.6" cy="720.1" r="2.1"/><circle cx="186.4" cy="784.9" r="2.1"/><circle cx="132.9" cy="700.4" r="2.1"/><circle cx="113.3" cy="714.0" r="2.1"/><circle cx="98.0" cy="734.3" r="2.1"/><circle cx="110.9" cy="743.7" r="2.1"/><circle cx="116.5" cy="732.3" r="2.1"/><circle cx="111.3" cy="767.5" r="2.1"/><circle cx="127.8" cy="707.1" r="2.1"/><circle cx="170.4" cy="785.2" r="2.1"/><circle cx="186.4" cy="779.1" r="2.1"/><circle cx="113.8" cy="764.7" r="2.1"/><circle cx="189.6" cy="771.9" r="2.1"/><circle cx="203.5" cy="789.7" r="2.1"/><circle cx="204.5" cy="785.9" r="2.1"/><circle cx="214.6" cy="763.0" r="2.1"/><circle cx="160.6" cy="687.5" r="2.1"/><circle cx="210.8" cy="748.0" r="2.1"/><circle cx="161.9" cy="690.4" r="2.1"/><circle cx="226.9" cy="772.2" r="2.1"/><circle cx="138.8" cy="701.0" r="2.1"/><circle cx="137.6" cy="697.4" r="2.1"/><circle cx="207.3" cy="706.4" r="2.1"/><circle cx="99.6" cy="733.5" r="2.1"/><circle cx="117.8" cy="740.3" r="2.1"/><circle cx="135.2" cy="721.0" r="2.1"/><circle cx="127.6" cy="702.1" r="2.1"/><circle cx="108.8" cy="720.2" r="2.1"/><circle cx="103.1" cy="742.2" r="2.1"/><circle cx="156.9" cy="687.5" r="2.1"/><circle cx="118.5" cy="719.6" r="2.1"/><circle cx="144.7" cy="779.2" r="2.1"/><circle cx="205.8" cy="778.4" r="2.1"/><circle cx="172.1" cy="766.4" r="2.1"/><circle cx="199.2" cy="763.8" r="2.1"/><circle cx="129.5" cy="718.8" r="2.1"/><circle cx="153.8" cy="697.7" r="2.1"/><circle cx="133.5" cy="772.8" r="2.1"/><circle cx="109.8" cy="720.8" r="2.1"/><circle cx="218.1" cy="775.1" r="2.1"/><circle cx="150.3" cy="762.8" r="2.1"/><circle cx="127.7" cy="768.3" r="2.1"/><circle cx="140.9" cy="692.1" r="2.1"/><circle cx="133.7" cy="704.4" r="2.1"/><circle cx="224.7" cy="788.3" r="2.1"/><circle cx="198.0" cy="742.6" r="2.1"/><circle cx="117.8" cy="724.3" r="2.1"/><circle cx="133.3" cy="766.4" r="2.1"/><circle cx="116.9" cy="710.1" r="2.1"/><circle cx="173.9" cy="796.0" r="2.1"/><circle cx="106.0" cy="756.6" r="2.1"/><circle cx="163.8" cy="794.5" r="2.1"/><circle cx="170.3" cy="685.9" r="2.1"/><circle cx="201.5" cy="755.1" r="2.1"/><circle cx="190.2" cy="767.3" r="2.1"/><circle cx="114.5" cy="711.0" r="2.1"/><circle cx="203.6" cy="789.2" r="2.1"/><circle cx="111.3" cy="723.1" r="2.1"/><circle cx="117.9" cy="757.1" r="2.1"/><circle cx="208.2" cy="704.9" r="2.1"/><circle cx="199.4" cy="675.6" r="2.1"/><circle cx="191.7" cy="665.9" r="2.1"/><circle cx="116.8" cy="769.2" r="2.1"/><circle cx="162.2" cy="768.8" r="2.1"/><circle cx="187.0" cy="780.9" r="2.1"/><circle cx="124.9" cy="709.2" r="2.1"/><circle cx="184.9" cy="781.4" r="2.1"/><circle cx="125.2" cy="750.5" r="2.1"/><circle cx="112.1" cy="761.9" r="2.1"/><circle cx="129.3" cy="772.9" r="2.1"/><circle cx="125.7" cy="759.9" r="2.1"/><circle cx="130.9" cy="783.8" r="2.1"/><circle cx="95.8" cy="741.8" r="2.1"/><circle cx="112.5" cy="720.6" r="2.1"/><circle cx="113.3" cy="727.1" r="2.1"/><circle cx="126.0" cy="706.6" r="2.1"/><circle cx="153.4" cy="688.4" r="2.1"/><circle cx="137.9" cy="756.6" r="2.1"/><circle cx="224.7" cy="760.4" r="2.1"/><circle cx="119.1" cy="709.5" r="2.1"/><circle cx="190.2" cy="689.7" r="2.1"/><circle cx="141.3" cy="786.7" r="2.1"/><circle cx="111.4" cy="715.2" r="2.1"/><circle cx="165.0" cy="682.2" r="2.1"/><circle cx="116.8" cy="718.2" r="2.1"/><circle cx="145.9" cy="707.2" r="2.1"/><circle cx="112.6" cy="741.5" r="2.1"/><circle cx="121.0" cy="773.5" r="2.1"/><circle cx="187.2" cy="677.2" r="2.1"/><circle cx="145.8" cy="704.2" r="2.1"/><circle cx="122.8" cy="714.3" r="2.1"/><circle cx="198.4" cy="786.1" r="2.1"/><circle cx="140.1" cy="773.5" r="2.1"/><circle cx="140.2" cy="700.1" r="2.1"/><circle cx="134.6" cy="766.6" r="2.1"/><circle cx="182.3" cy="756.4" r="2.1"/><circle cx="115.1" cy="758.4" r="2.1"/><circle cx="107.6" cy="747.5" r="2.1"/><circle cx="187.3" cy="758.4" r="2.1"/><circle cx="182.1" cy="756.4" r="2.1"/><circle cx="122.7" cy="726.6" r="2.1"/><circle cx="209.6" cy="742.1" r="2.1"/><circle cx="168.8" cy="763.6" r="2.1"/><circle cx="153.2" cy="688.2" r="2.1"/><circle cx="163.8" cy="783.1" r="2.1"/><circle cx="135.9" cy="706.1" r="2.1"/><circle cx="106.1" cy="759.3" r="2.1"/><circle cx="174.8" cy="713.8" r="2.1"/><circle cx="127.5" cy="744.5" r="2.1"/><circle cx="99.1" cy="748.9" r="2.1"/><circle cx="131.1" cy="722.9" r="2.1"/><circle cx="117.8" cy="721.8" r="2.1"/><circle cx="129.7" cy="708.1" r="2.1"/><circle cx="113.1" cy="715.6" r="2.1"/><circle cx="184.0" cy="775.2" r="2.1"/><circle cx="141.7" cy="703.6" r="2.1"/><circle cx="123.9" cy="773.9" r="2.1"/><circle cx="157.2" cy="691.7" r="2.1"/><circle cx="134.2" cy="750.5" r="2.1"/><circle cx="167.6" cy="690.0" r="2.1"/><circle cx="127.0" cy="702.1" r="2.1"/><circle cx="121.5" cy="705.6" r="2.1"/><circle cx="150.9" cy="696.2" r="2.1"/><circle cx="101.7" cy="754.1" r="2.1"/><circle cx="124.1" cy="749.7" r="2.1"/><circle cx="116.0" cy="749.3" r="2.1"/><circle cx="102.2" cy="746.2" r="2.1"/><circle cx="191.5" cy="705.5" r="2.1"/><circle cx="109.6" cy="724.2" r="2.1"/><circle cx="219.0" cy="771.8" r="2.1"/><circle cx="140.7" cy="706.8" r="2.1"/><circle cx="124.0" cy="779.0" r="2.1"/><circle cx="109.5" cy="764.0" r="2.1"/><circle cx="117.3" cy="749.8" r="2.1"/><circle cx="131.2" cy="703.0" r="2.1"/><circle cx="221.8" cy="758.6" r="2.1"/><circle cx="133.8" cy="778.3" r="2.1"/><circle cx="152.0" cy="696.3" r="2.1"/><circle cx="205.6" cy="737.7" r="2.1"/><circle cx="150.8" cy="691.2" r="2.1"/><circle cx="192.5" cy="696.3" r="2.1"/><circle cx="107.1" cy="730.9" r="2.1"/><circle cx="119.0" cy="748.4" r="2.1"/><circle cx="111.2" cy="715.4" r="2.1"/><circle cx="100.4" cy="728.1" r="2.1"/><circle cx="107.7" cy="718.7" r="2.1"/><circle cx="112.5" cy="713.1" r="2.1"/><circle cx="126.6" cy="778.8" r="2.1"/><circle cx="195.1" cy="674.5" r="2.1"/><circle cx="156.2" cy="787.6" r="2.1"/><circle cx="159.7" cy="785.4" r="2.1"/><circle cx="198.5" cy="764.2" r="2.1"/><circle cx="103.2" cy="725.5" r="2.1"/><circle cx="191.7" cy="778.1" r="2.1"/><circle cx="128.5" cy="707.4" r="2.1"/><circle cx="167.7" cy="799.4" r="2.1"/><circle cx="103.4" cy="734.8" r="2.1"/><circle cx="183.5" cy="723.6" r="2.1"/><circle cx="133.3" cy="777.9" r="2.1"/><circle cx="101.4" cy="726.0" r="2.1"/><circle cx="127.1" cy="736.5" r="2.1"/><circle cx="187.1" cy="750.2" r="2.1"/><circle cx="201.0" cy="715.9" r="2.1"/><circle cx="186.5" cy="754.3" r="2.1"/><circle cx="220.2" cy="766.7" r="2.1"/><circle cx="123.1" cy="717.4" r="2.1"/><circle cx="115.0" cy="768.6" r="2.1"/><circle cx="193.1" cy="716.4" r="2.1"/><circle cx="96.6" cy="737.4" r="2.1"/><circle cx="117.7" cy="712.4" r="2.1"/><circle cx="114.8" cy="716.5" r="2.1"/><circle cx="200.0" cy="763.6" r="2.1"/><circle cx="124.4" cy="782.4" r="2.1"/><circle cx="190.6" cy="790.6" r="2.1"/><circle cx="121.7" cy="769.4" r="2.1"/><circle cx="224.5" cy="779.9" r="2.1"/><circle cx="130.4" cy="724.3" r="2.1"/><circle cx="210.2" cy="736.9" r="2.1"/><circle cx="116.7" cy="713.2" r="2.1"/><circle cx="204.2" cy="791.9" r="2.1"/><circle cx="119.1" cy="724.9" r="2.1"/><circle cx="119.3" cy="716.9" r="2.1"/><circle cx="134.4" cy="708.4" r="2.1"/><circle cx="116.8" cy="722.2" r="2.1"/><circle cx="191.9" cy="767.9" r="2.1"/><circle cx="117.1" cy="748.3" r="2.1"/><circle cx="105.9" cy="754.5" r="2.1"/><circle cx="128.4" cy="702.0" r="2.1"/><circle cx="96.9" cy="733.7" r="2.1"/><circle cx="108.3" cy="750.0" r="2.1"/><circle cx="97.2" cy="747.2" r="2.1"/><circle cx="116.5" cy="769.9" r="2.1"/><circle cx="123.7" cy="778.6" r="2.1"/><circle cx="120.6" cy="705.6" r="2.1"/><circle cx="108.5" cy="762.6" r="2.1"/><circle cx="155.9" cy="777.3" r="2.1"/><circle cx="112.2" cy="767.6" r="2.1"/><circle cx="102.8" cy="755.2" r="2.1"/><circle cx="112.0" cy="731.3" r="2.1"/><circle cx="169.4" cy="785.2" r="2.1"/><circle cx="129.7" cy="785.7" r="2.1"/><circle cx="125.6" cy="701.9" r="2.1"/><circle cx="132.6" cy="709.4" r="2.1"/><circle cx="130.1" cy="786.9" r="2.1"/><circle cx="195.1" cy="762.8" r="2.1"/><circle cx="98.4" cy="736.3" r="2.1"/><circle cx="105.8" cy="729.8" r="2.1"/><circle cx="143.4" cy="696.8" r="2.1"/><circle cx="216.6" cy="758.9" r="2.1"/><circle cx="193.7" cy="779.6" r="2.1"/><circle cx="110.8" cy="716.6" r="2.1"/><circle cx="154.6" cy="793.0" r="2.1"/><circle cx="151.6" cy="690.8" r="2.1"/><circle cx="108.4" cy="728.7" r="2.1"/><circle cx="193.0" cy="690.0" r="2.1"/><circle cx="136.0" cy="716.3" r="2.1"/><circle cx="124.3" cy="702.5" r="2.1"/><circle cx="194.9" cy="785.2" r="2.1"/><circle cx="119.8" cy="707.6" r="2.1"/><circle cx="155.9" cy="696.2" r="2.1"/><circle cx="204.6" cy="791.4" r="2.1"/><circle cx="191.2" cy="706.1" r="2.1"/><circle cx="183.3" cy="770.2" r="2.1"/><circle cx="114.9" cy="750.1" r="2.1"/><circle cx="95.4" cy="741.7" r="2.1"/><circle cx="116.3" cy="713.3" r="2.1"/><circle cx="208.6" cy="791.2" r="2.1"/><circle cx="163.1" cy="800.5" r="2.1"/><circle cx="173.5" cy="713.0" r="2.1"/><circle cx="190.7" cy="791.1" r="2.1"/><circle cx="129.3" cy="772.0" r="2.1"/><circle cx="226.5" cy="765.7" r="2.1"/><circle cx="163.9" cy="688.4" r="2.1"/><circle cx="107.9" cy="749.2" r="2.1"/><circle cx="224.7" cy="773.4" r="2.1"/><circle cx="179.6" cy="789.9" r="2.1"/><circle cx="124.6" cy="712.1" r="2.1"/><circle cx="128.5" cy="743.5" r="2.1"/><circle cx="114.2" cy="717.8" r="2.1"/><circle cx="111.3" cy="753.2" r="2.1"/><circle cx="129.9" cy="710.6" r="2.1"/><circle cx="107.4" cy="727.5" r="2.1"/><circle cx="130.4" cy="785.7" r="2.1"/><circle cx="116.4" cy="765.8" r="2.1"/><circle cx="116.3" cy="712.5" r="2.1"/><circle cx="133.5" cy="777.0" r="2.1"/><circle cx="174.6" cy="799.1" r="2.1"/><circle cx="109.7" cy="716.6" r="2.1"/><circle cx="197.7" cy="770.2" r="2.1"/><circle cx="106.2" cy="741.8" r="2.1"/><circle cx="108.5" cy="746.4" r="2.1"/><circle cx="129.7" cy="767.5" r="2.1"/><circle cx="158.2" cy="701.3" r="2.1"/><circle cx="137.3" cy="783.8" r="2.1"/><circle cx="135.6" cy="783.7" r="2.1"/><circle cx="127.5" cy="770.8" r="2.1"/><circle cx="100.0" cy="749.3" r="2.1"/><circle cx="169.8" cy="678.7" r="2.1"/><circle cx="99.7" cy="727.9" r="2.1"/><circle cx="209.2" cy="738.6" r="2.1"/><circle cx="201.8" cy="700.3" r="2.1"/><circle cx="128.1" cy="706.2" r="2.1"/><circle cx="126.5" cy="708.2" r="2.1"/><circle cx="131.3" cy="783.7" r="2.1"/><circle cx="132.9" cy="708.6" r="2.1"/><circle cx="99.6" cy="735.2" r="2.1"/><circle cx="186.4" cy="785.8" r="2.1"/><circle cx="118.2" cy="755.7" r="2.1"/><circle cx="152.9" cy="694.8" r="2.1"/><circle cx="130.6" cy="778.6" r="2.1"/><circle cx="114.8" cy="757.6" r="2.1"/><circle cx="135.8" cy="767.6" r="2.1"/><circle cx="108.2" cy="760.5" r="2.1"/><circle cx="126.7" cy="710.0" r="2.1"/><circle cx="111.7" cy="747.6" r="2.1"/><circle cx="108.7" cy="717.3" r="2.1"/><circle cx="128.7" cy="775.2" r="2.1"/><circle cx="129.2" cy="786.2" r="2.1"/><circle cx="137.4" cy="695.3" r="2.1"/><circle cx="109.7" cy="758.6" r="2.1"/><circle cx="137.5" cy="793.0" r="2.1"/><circle cx="127.2" cy="765.6" r="2.1"/><circle cx="125.3" cy="708.9" r="2.1"/><circle cx="168.8" cy="679.6" r="2.1"/><circle cx="178.2" cy="713.4" r="2.1"/><circle cx="129.1" cy="764.5" r="2.1"/><circle cx="144.9" cy="690.5" r="2.1"/><circle cx="130.2" cy="708.2" r="2.1"/><circle cx="99.8" cy="745.2" r="2.1"/><circle cx="124.5" cy="719.8" r="2.1"/><circle cx="108.5" cy="727.3" r="2.1"/><circle cx="149.8" cy="693.3" r="2.1"/><circle cx="121.8" cy="772.4" r="2.1"/><circle cx="137.3" cy="723.4" r="2.1"/><circle cx="112.5" cy="751.8" r="2.1"/><circle cx="200.2" cy="687.4" r="2.1"/><circle cx="101.1" cy="732.6" r="2.1"/><circle cx="125.0" cy="772.5" r="2.1"/><circle cx="204.5" cy="780.5" r="2.1"/><circle cx="172.2" cy="687.9" r="2.1"/><circle cx="181.7" cy="782.9" r="2.1"/><circle cx="111.6" cy="756.4" r="2.1"/><circle cx="155.0" cy="763.3" r="2.1"/><circle cx="182.2" cy="788.2" r="2.1"/><circle cx="189.3" cy="753.0" r="2.1"/><circle cx="140.9" cy="710.7" r="2.1"/><circle cx="114.8" cy="716.0" r="2.1"/><circle cx="226.5" cy="764.3" r="2.1"/><circle cx="120.4" cy="779.1" r="2.1"/><circle cx="116.7" cy="761.2" r="2.1"/><circle cx="214.5" cy="772.4" r="2.1"/><circle cx="98.2" cy="733.4" r="2.1"/><circle cx="117.7" cy="712.3" r="2.1"/><circle cx="165.7" cy="784.3" r="2.1"/><circle cx="169.5" cy="794.5" r="2.1"/><circle cx="113.0" cy="741.6" r="2.1"/><circle cx="109.9" cy="753.5" r="2.1"/><circle cx="142.7" cy="695.8" r="2.1"/><circle cx="110.1" cy="753.1" r="2.1"/><circle cx="124.7" cy="726.6" r="2.1"/><circle cx="217.6" cy="769.8" r="2.1"/><circle cx="210.4" cy="783.9" r="2.1"/><circle cx="98.3" cy="740.9" r="2.1"/><circle cx="149.6" cy="782.5" r="2.1"/><circle cx="200.3" cy="739.8" r="2.1"/><circle cx="104.7" cy="748.3" r="2.1"/><circle cx="185.4" cy="699.8" r="2.1"/><circle cx="113.2" cy="756.0" r="2.1"/><circle cx="221.6" cy="766.5" r="2.1"/><circle cx="146.7" cy="692.2" r="2.1"/><circle cx="154.2" cy="782.5" r="2.1"/><circle cx="130.3" cy="780.0" r="2.1"/><circle cx="153.1" cy="688.5" r="2.1"/><circle cx="131.1" cy="780.9" r="2.1"/><circle cx="135.2" cy="696.1" r="2.1"/><circle cx="114.4" cy="770.4" r="2.1"/><circle cx="111.1" cy="766.6" r="2.1"/><circle cx="126.7" cy="718.4" r="2.1"/><circle cx="213.6" cy="767.4" r="2.1"/><circle cx="132.2" cy="724.8" r="2.1"/><circle cx="115.4" cy="721.6" r="2.1"/><circle cx="121.9" cy="728.2" r="2.1"/><circle cx="127.0" cy="715.0" r="2.1"/><circle cx="109.8" cy="716.6" r="2.1"/><circle cx="173.1" cy="777.3" r="2.1"/><circle cx="204.2" cy="774.5" r="2.1"/><circle cx="115.8" cy="746.9" r="2.1"/><circle cx="119.1" cy="713.1" r="2.1"/><circle cx="128.1" cy="749.0" r="2.1"/><circle cx="123.4" cy="715.9" r="2.1"/><circle cx="108.3" cy="718.3" r="2.1"/><circle cx="216.6" cy="783.5" r="2.1"/><circle cx="184.3" cy="707.2" r="2.1"/><circle cx="211.1" cy="699.1" r="2.1"/><circle cx="179.3" cy="780.3" r="2.1"/><circle cx="114.7" cy="760.0" r="2.1"/><circle cx="206.5" cy="771.4" r="2.1"/><circle cx="213.4" cy="759.4" r="2.1"/><circle cx="111.9" cy="765.1" r="2.1"/><circle cx="194.9" cy="779.7" r="2.1"/><circle cx="104.4" cy="734.9" r="2.1"/><circle cx="129.2" cy="767.0" r="2.1"/><circle cx="104.3" cy="754.8" r="2.1"/><circle cx="110.9" cy="727.4" r="2.1"/><circle cx="115.4" cy="757.2" r="2.1"/></g>
<path d="M150.0,729.0 L175.5,704.2 M150.0,729.0 L138.2,688.5 M150.0,729.0 L152.6,687.6 M150.0,729.0 L124.5,733.7 M150.0,729.0 L119.6,717.7 M150.0,729.0 L140.8,722.4 M150.0,729.0 L167.0,732.3 M150.0,729.0 L178.7,720.9 M150.0,729.0 L134.0,730.3 M150.0,729.0 L157.6,769.6 M150.0,729.0 L148.7,715.5 M150.0,729.0 L146.3,717.0 M150.0,729.0 L158.9,720.9 M150.0,729.0 L110.1,729.4 M150.0,729.0 L146.0,744.5 M150.0,729.0 L110.3,724.6 M150.0,729.0 L160.5,770.5 M150.0,729.0 L182.4,720.8 M150.0,729.0 L138.2,769.4 M150.0,729.0 L165.6,689.0 M150.0,729.0 L134.7,716.9 M150.0,729.0 L158.9,739.6 M150.0,729.0 L144.6,736.0 M150.0,729.0 L159.8,758.2 M150.0,729.0 L116.6,729.7 M150.0,729.0 L160.4,746.0 M150.0,729.0 L139.0,705.0 M150.0,729.0 L160.6,753.2 M150.0,729.0 L152.4,720.9 M150.0,729.0 L143.7,728.0 M150.0,729.0 L150.1,690.0 M150.0,729.0 L113.1,733.2 M150.0,729.0 L170.0,751.3 M150.0,729.0 L142.2,729.4 M150.0,729.0 L132.1,767.6 M150.0,729.0 L138.1,763.0 M150.0,729.0 L111.9,711.0 M150.0,729.0 L162.1,747.0 M150.0,729.0 L186.3,723.3 M150.0,729.0 L122.1,751.5 M150.0,729.0 L138.5,691.2 M150.0,729.0 L108.8,738.6 M150.0,729.0 L132.2,740.5 M150.0,729.0 L181.7,702.5 M150.0,729.0 L172.3,764.1 M150.0,729.0 L169.2,723.4 M150.0,729.0 L155.8,742.1 M150.0,729.0 L138.5,735.1 M150.0,729.0 L166.4,688.3 M150.0,729.0 L145.8,735.7 M150.0,729.0 L121.7,726.6 M150.0,729.0 L164.1,738.4 M150.0,729.0 L181.9,707.6 M150.0,729.0 L173.3,735.7 M150.0,729.0 L111.2,743.2 M150.0,729.0 L123.7,734.5 M150.0,729.0 L143.6,718.7 M150.0,729.0 L154.9,686.9 M150.0,729.0 L175.3,701.9 M150.0,729.0 L130.6,744.4 M150.0,729.0 L126.9,760.4 M150.0,729.0 L157.1,753.4 M150.0,729.0 L110.8,728.8 M150.0,729.0 L124.9,725.2 M150.0,729.0 L185.1,731.6 M150.0,729.0 L169.0,731.5 M150.0,729.0 L160.6,736.3 M150.0,729.0 L181.2,759.5 M150.0,729.0 L119.3,721.1 M150.0,729.0 L171.0,729.1 M150.0,729.0 L134.4,738.8 M150.0,729.0 L142.1,690.1 M150.0,729.0 L173.9,757.4 M150.0,729.0 L144.7,695.4 M150.0,729.0 L168.6,698.0 M150.0,729.0 L172.4,755.0 M150.0,729.0 L155.1,755.1 M150.0,729.0 L145.8,695.4 M150.0,729.0 L161.5,769.7 M150.0,729.0 L167.7,704.7 M150.0,729.0 L121.2,731.1 M150.0,729.0 L150.1,762.2 M150.0,729.0 L187.0,737.8 M150.0,729.0 L172.5,699.1 M150.0,729.0 L168.6,755.3 M150.0,729.0 L152.9,690.7 M150.0,729.0 L172.9,760.5 M150.0,729.0 L126.9,704.4 M150.0,729.0 L107.9,722.6 M150.0,729.0 L178.0,725.8 M150.0,729.0 L130.5,762.5 M150.0,729.0 L125.7,718.9 M150.0,729.0 L162.5,696.5 M150.0,729.0 L151.7,715.0 M150.0,729.0 L144.3,699.5 M150.0,729.0 L162.3,708.1 M150.0,729.0 L176.1,703.3 M150.0,729.0 L172.7,702.6 M150.0,729.0 L136.7,731.3 M150.0,729.0 L180.3,740.7 M150.0,729.0 L143.5,762.1 M150.0,729.0 L155.1,723.5 M150.0,729.0 L166.2,731.9 M150.0,729.0 L138.4,733.1 M150.0,729.0 L156.0,742.2 M150.0,729.0 L147.5,735.7 M150.0,729.0 L172.1,733.9 M150.0,729.0 L173.2,709.4 M150.0,729.0 L146.9,769.8 M150.0,729.0 L126.4,729.1 M150.0,729.0 L146.7,766.3 M150.0,729.0 L132.1,755.3 M150.0,729.0 L189.2,719.8 M150.0,729.0 L196.8,681.0 M150.0,729.0 L126.9,707.3 M150.0,729.0 L171.7,688.6 M150.0,729.0 L211.8,739.4 M150.0,729.0 L209.0,764.4 M150.0,729.0 L143.2,712.5 M150.0,729.0 L191.3,687.0 M150.0,729.0 L214.1,740.7 M150.0,729.0 L127.8,745.3 M150.0,729.0 L185.6,695.4 M150.0,729.0 L121.8,730.7 M150.0,729.0 L163.9,782.5 M150.0,729.0 L186.4,747.9 M150.0,729.0 L163.9,701.0 M150.0,729.0 L213.0,732.7 M150.0,729.0 L148.4,761.9 M150.0,729.0 L189.7,671.4 M150.0,729.0 L192.0,730.5 M150.0,729.0 L186.9,673.4 M150.0,729.0 L180.1,684.9 M150.0,729.0 L172.7,689.3 M150.0,729.0 L194.2,678.8 M150.0,729.0 L176.8,724.5 M150.0,729.0 L198.0,696.6 M150.0,729.0 L187.8,698.5 M150.0,729.0 L134.7,700.2 M150.0,729.0 L195.8,771.4 M150.0,729.0 L143.5,690.4 M150.0,729.0 L156.2,700.9 M150.0,729.0 L173.0,682.7 M150.0,729.0 L179.7,703.5 M150.0,729.0 L170.4,695.8 M150.0,729.0 L193.4,774.1 M150.0,729.0 L188.6,692.3 M150.0,729.0 L181.2,683.6 M150.0,729.0 L106.3,735.4 M150.0,729.0 L190.6,672.0 M150.0,729.0 L186.0,696.1 M150.0,729.0 L161.7,690.1 M150.0,729.0 L217.9,778.2 M150.0,729.0 L198.8,686.1 M150.0,729.0 L174.6,704.9 M150.0,729.0 L167.2,770.7 M150.0,729.0 L178.7,667.4 M150.0,729.0 L121.5,756.3 M150.0,729.0 L166.0,677.5 M150.0,729.0 L159.4,680.4 M150.0,729.0 L157.3,685.3 M150.0,729.0 L189.4,732.9 M150.0,729.0 L215.2,782.1 M150.0,729.0 L222.3,766.9 M150.0,729.0 L189.4,677.0 M150.0,729.0 L187.8,667.8 M150.0,729.0 L196.6,682.4 M150.0,729.0 L166.5,679.7 M150.0,729.0 L182.3,706.2 M150.0,729.0 L168.2,711.2 M150.0,729.0 L154.4,687.8 M150.0,729.0 L178.3,752.9 M150.0,729.0 L178.0,740.6 M150.0,729.0 L219.6,774.9 M150.0,729.0 L179.5,676.3 M150.0,729.0 L122.0,710.5 M150.0,729.0 L199.4,689.8 M150.0,729.0 L166.1,674.4 M150.0,729.0 L199.0,704.5 M150.0,729.0 L156.3,696.9 M150.0,729.0 L195.1,773.7 M150.0,729.0 L181.2,739.9 M150.0,729.0 L203.9,759.3 M150.0,729.0 L205.1,719.6 M150.0,729.0 L195.2,696.1 M150.0,729.0 L181.4,666.6 M150.0,729.0 L209.0,712.2 M150.0,729.0 L196.7,696.5 M150.0,729.0 L124.7,703.5 M150.0,729.0 L179.6,720.6 M150.0,729.0 L138.1,728.9 M150.0,729.0 L216.6,763.4 M150.0,729.0 L180.1,676.0 M150.0,729.0 L184.4,783.7 M150.0,729.0 L194.8,715.9 M150.0,729.0 L188.0,675.7 M150.0,729.0 L205.9,702.6 M150.0,729.0 L176.9,668.0 M150.0,729.0 L203.4,745.7 M150.0,729.0 L171.9,778.8 M150.0,729.0 L186.6,668.3 M150.0,729.0 L108.3,737.8 M150.0,729.0 L191.4,713.9 M150.0,729.0 L153.0,702.0 M150.0,729.0 L145.2,710.6 M150.0,729.0 L214.8,757.4 M150.0,729.0 L209.0,755.5 M150.0,729.0 L142.0,760.7 M150.0,729.0 L177.5,679.4 M150.0,729.0 L162.8,678.2 M150.0,729.0 L185.3,695.1 M150.0,729.0 L186.2,790.0 M150.0,729.0 L183.3,693.8 M150.0,729.0 L221.5,767.2 M150.0,729.0 L151.5,700.4 M150.0,729.0 L196.4,785.2 M150.0,729.0 L181.2,673.1 M150.0,729.0 L131.2,766.5 M150.0,729.0 L176.6,715.6 M150.0,729.0 L156.5,693.1 M150.0,729.0 L139.7,695.8 M150.0,729.0 L137.4,753.4 M150.0,729.0 L183.2,691.3 M150.0,729.0 L194.8,675.2 M150.0,729.0 L166.2,674.8 M150.0,729.0 L187.6,770.8 M150.0,729.0 L164.3,711.6 M150.0,729.0 L218.9,780.2 M150.0,729.0 L210.1,778.4 M150.0,729.0 L197.9,687.8 M150.0,729.0 L195.1,717.2 M150.0,729.0 L190.7,699.9 M150.0,729.0 L164.8,673.4 M150.0,729.0 L155.8,685.7 M150.0,729.0 L200.8,786.5 M150.0,729.0 L222.4,752.9 M150.0,729.0 L172.4,672.0 M150.0,729.0 L185.6,732.5 M150.0,729.0 L190.1,668.0 M150.0,729.0 L191.3,694.4 M150.0,729.0 L180.6,697.7 M150.0,729.0 L165.2,774.6 M150.0,729.0 L168.9,675.7 M150.0,729.0 L147.5,710.0 M150.0,729.0 L154.9,689.9 M150.0,729.0 L182.2,712.2 M150.0,729.0 L133.9,698.3 M150.0,729.0 L116.8,724.5 M150.0,729.0 L130.7,719.0 M150.0,729.0 L135.0,756.7 M150.0,729.0 L191.7,749.5 M150.0,729.0 L203.3,702.2 M150.0,729.0 L197.9,724.6 M150.0,729.0 L217.7,755.4 M150.0,729.0 L167.7,682.4 M150.0,729.0 L197.1,684.3 M150.0,729.0 L188.4,783.9 M150.0,729.0 L212.1,749.8 M150.0,729.0 L199.8,698.4 M150.0,729.0 L194.1,730.4" stroke="#ee2a2a" stroke-width="1.0" fill="none"/>
<g fill="#ee2a2a"><circle cx="175.5" cy="704.2" r="2.1"/><circle cx="138.2" cy="688.5" r="2.1"/><circle cx="152.6" cy="687.6" r="2.1"/><circle cx="124.5" cy="733.7" r="2.1"/><circle cx="119.6" cy="717.7" r="2.1"/><circle cx="140.8" cy="722.4" r="2.1"/><circle cx="167.0" cy="732.3" r="2.1"/><circle cx="178.7" cy="720.9" r="2.1"/><circle cx="134.0" cy="730.3" r="2.1"/><circle cx="157.6" cy="769.6" r="2.1"/><circle cx="148.7" cy="715.5" r="2.1"/><circle cx="146.3" cy="717.0" r="2.1"/><circle cx="158.9" cy="720.9" r="2.1"/><circle cx="110.1" cy="729.4" r="2.1"/><circle cx="146.0" cy="744.5" r="2.1"/><circle cx="110.3" cy="724.6" r="2.1"/><circle cx="160.5" cy="770.5" r="2.1"/><circle cx="182.4" cy="720.8" r="2.1"/><circle cx="138.2" cy="769.4" r="2.1"/><circle cx="165.6" cy="689.0" r="2.1"/><circle cx="134.7" cy="716.9" r="2.1"/><circle cx="158.9" cy="739.6" r="2.1"/><circle cx="144.6" cy="736.0" r="2.1"/><circle cx="159.8" cy="758.2" r="2.1"/><circle cx="116.6" cy="729.7" r="2.1"/><circle cx="160.4" cy="746.0" r="2.1"/><circle cx="139.0" cy="705.0" r="2.1"/><circle cx="160.6" cy="753.2" r="2.1"/><circle cx="152.4" cy="720.9" r="2.1"/><circle cx="143.7" cy="728.0" r="2.1"/><circle cx="150.1" cy="690.0" r="2.1"/><circle cx="113.1" cy="733.2" r="2.1"/><circle cx="170.0" cy="751.3" r="2.1"/><circle cx="142.2" cy="729.4" r="2.1"/><circle cx="132.1" cy="767.6" r="2.1"/><circle cx="138.1" cy="763.0" r="2.1"/><circle cx="111.9" cy="711.0" r="2.1"/><circle cx="162.1" cy="747.0" r="2.1"/><circle cx="186.3" cy="723.3" r="2.1"/><circle cx="122.1" cy="751.5" r="2.1"/><circle cx="138.5" cy="691.2" r="2.1"/><circle cx="108.8" cy="738.6" r="2.1"/><circle cx="132.2" cy="740.5" r="2.1"/><circle cx="181.7" cy="702.5" r="2.1"/><circle cx="172.3" cy="764.1" r="2.1"/><circle cx="169.2" cy="723.4" r="2.1"/><circle cx="155.8" cy="742.1" r="2.1"/><circle cx="138.5" cy="735.1" r="2.1"/><circle cx="166.4" cy="688.3" r="2.1"/><circle cx="145.8" cy="735.7" r="2.1"/><circle cx="121.7" cy="726.6" r="2.1"/><circle cx="164.1" cy="738.4" r="2.1"/><circle cx="181.9" cy="707.6" r="2.1"/><circle cx="173.3" cy="735.7" r="2.1"/><circle cx="111.2" cy="743.2" r="2.1"/><circle cx="123.7" cy="734.5" r="2.1"/><circle cx="143.6" cy="718.7" r="2.1"/><circle cx="154.9" cy="686.9" r="2.1"/><circle cx="175.3" cy="701.9" r="2.1"/><circle cx="130.6" cy="744.4" r="2.1"/><circle cx="126.9" cy="760.4" r="2.1"/><circle cx="157.1" cy="753.4" r="2.1"/><circle cx="110.8" cy="728.8" r="2.1"/><circle cx="124.9" cy="725.2" r="2.1"/><circle cx="185.1" cy="731.6" r="2.1"/><circle cx="169.0" cy="731.5" r="2.1"/><circle cx="160.6" cy="736.3" r="2.1"/><circle cx="181.2" cy="759.5" r="2.1"/><circle cx="119.3" cy="721.1" r="2.1"/><circle cx="171.0" cy="729.1" r="2.1"/><circle cx="134.4" cy="738.8" r="2.1"/><circle cx="142.1" cy="690.1" r="2.1"/><circle cx="173.9" cy="757.4" r="2.1"/><circle cx="144.7" cy="695.4" r="2.1"/><circle cx="168.6" cy="698.0" r="2.1"/><circle cx="172.4" cy="755.0" r="2.1"/><circle cx="155.1" cy="755.1" r="2.1"/><circle cx="145.8" cy="695.4" r="2.1"/><circle cx="161.5" cy="769.7" r="2.1"/><circle cx="167.7" cy="704.7" r="2.1"/><circle cx="121.2" cy="731.1" r="2.1"/><circle cx="150.1" cy="762.2" r="2.1"/><circle cx="187.0" cy="737.8" r="2.1"/><circle cx="172.5" cy="699.1" r="2.1"/><circle cx="168.6" cy="755.3" r="2.1"/><circle cx="152.9" cy="690.7" r="2.1"/><circle cx="172.9" cy="760.5" r="2.1"/><circle cx="126.9" cy="704.4" r="2.1"/><circle cx="107.9" cy="722.6" r="2.1"/><circle cx="178.0" cy="725.8" r="2.1"/><circle cx="130.5" cy="762.5" r="2.1"/><circle cx="125.7" cy="718.9" r="2.1"/><circle cx="162.5" cy="696.5" r="2.1"/><circle cx="151.7" cy="715.0" r="2.1"/><circle cx="144.3" cy="699.5" r="2.1"/><circle cx="162.3" cy="708.1" r="2.1"/><circle cx="176.1" cy="703.3" r="2.1"/><circle cx="172.7" cy="702.6" r="2.1"/><circle cx="136.7" cy="731.3" r="2.1"/><circle cx="180.3" cy="740.7" r="2.1"/><circle cx="143.5" cy="762.1" r="2.1"/><circle cx="155.1" cy="723.5" r="2.1"/><circle cx="166.2" cy="731.9" r="2.1"/><circle cx="138.4" cy="733.1" r="2.1"/><circle cx="156.0" cy="742.2" r="2.1"/><circle cx="147.5" cy="735.7" r="2.1"/><circle cx="172.1" cy="733.9" r="2.1"/><circle cx="173.2" cy="709.4" r="2.1"/><circle cx="146.9" cy="769.8" r="2.1"/><circle cx="126.4" cy="729.1" r="2.1"/><circle cx="146.7" cy="766.3" r="2.1"/><circle cx="132.1" cy="755.3" r="2.1"/><circle cx="189.2" cy="719.8" r="2.1"/><circle cx="196.8" cy="681.0" r="2.1"/><circle cx="126.9" cy="707.3" r="2.1"/><circle cx="171.7" cy="688.6" r="2.1"/><circle cx="211.8" cy="739.4" r="2.1"/><circle cx="209.0" cy="764.4" r="2.1"/><circle cx="143.2" cy="712.5" r="2.1"/><circle cx="191.3" cy="687.0" r="2.1"/><circle cx="214.1" cy="740.7" r="2.1"/><circle cx="127.8" cy="745.3" r="2.1"/><circle cx="185.6" cy="695.4" r="2.1"/><circle cx="121.8" cy="730.7" r="2.1"/><circle cx="163.9" cy="782.5" r="2.1"/><circle cx="186.4" cy="747.9" r="2.1"/><circle cx="163.9" cy="701.0" r="2.1"/><circle cx="213.0" cy="732.7" r="2.1"/><circle cx="148.4" cy="761.9" r="2.1"/><circle cx="189.7" cy="671.4" r="2.1"/><circle cx="192.0" cy="730.5" r="2.1"/><circle cx="186.9" cy="673.4" r="2.1"/><circle cx="180.1" cy="684.9" r="2.1"/><circle cx="172.7" cy="689.3" r="2.1"/><circle cx="194.2" cy="678.8" r="2.1"/><circle cx="176.8" cy="724.5" r="2.1"/><circle cx="198.0" cy="696.6" r="2.1"/><circle cx="187.8" cy="698.5" r="2.1"/><circle cx="134.7" cy="700.2" r="2.1"/><circle cx="195.8" cy="771.4" r="2.1"/><circle cx="143.5" cy="690.4" r="2.1"/><circle cx="156.2" cy="700.9" r="2.1"/><circle cx="173.0" cy="682.7" r="2.1"/><circle cx="179.7" cy="703.5" r="2.1"/><circle cx="170.4" cy="695.8" r="2.1"/><circle cx="193.4" cy="774.1" r="2.1"/><circle cx="188.6" cy="692.3" r="2.1"/><circle cx="181.2" cy="683.6" r="2.1"/><circle cx="106.3" cy="735.4" r="2.1"/><circle cx="190.6" cy="672.0" r="2.1"/><circle cx="186.0" cy="696.1" r="2.1"/><circle cx="161.7" cy="690.1" r="2.1"/><circle cx="217.9" cy="778.2" r="2.1"/><circle cx="198.8" cy="686.1" r="2.1"/><circle cx="174.6" cy="704.9" r="2.1"/><circle cx="167.2" cy="770.7" r="2.1"/><circle cx="178.7" cy="667.4" r="2.1"/><circle cx="121.5" cy="756.3" r="2.1"/><circle cx="166.0" cy="677.5" r="2.1"/><circle cx="159.4" cy="680.4" r="2.1"/><circle cx="157.3" cy="685.3" r="2.1"/><circle cx="189.4" cy="732.9" r="2.1"/><circle cx="215.2" cy="782.1" r="2.1"/><circle cx="222.3" cy="766.9" r="2.1"/><circle cx="189.4" cy="677.0" r="2.1"/><circle cx="187.8" cy="667.8" r="2.1"/><circle cx="196.6" cy="682.4" r="2.1"/><circle cx="166.5" cy="679.7" r="2.1"/><circle cx="182.3" cy="706.2" r="2.1"/><circle cx="168.2" cy="711.2" r="2.1"/><circle cx="154.4" cy="687.8" r="2.1"/><circle cx="178.3" cy="752.9" r="2.1"/><circle cx="178.0" cy="740.6" r="2.1"/><circle cx="219.6" cy="774.9" r="2.1"/><circle cx="179.5" cy="676.3" r="2.1"/><circle cx="122.0" cy="710.5" r="2.1"/><circle cx="199.4" cy="689.8" r="2.1"/><circle cx="166.1" cy="674.4" r="2.1"/><circle cx="199.0" cy="704.5" r="2.1"/><circle cx="156.3" cy="696.9" r="2.1"/><circle cx="195.1" cy="773.7" r="2.1"/><circle cx="181.2" cy="739.9" r="2.1"/><circle cx="203.9" cy="759.3" r="2.1"/><circle cx="205.1" cy="719.6" r="2.1"/><circle cx="195.2" cy="696.1" r="2.1"/><circle cx="181.4" cy="666.6" r="2.1"/><circle cx="209.0" cy="712.2" r="2.1"/><circle cx="196.7" cy="696.5" r="2.1"/><circle cx="124.7" cy="703.5" r="2.1"/><circle cx="179.6" cy="720.6" r="2.1"/><circle cx="138.1" cy="728.9" r="2.1"/><circle cx="216.6" cy="763.4" r="2.1"/><circle cx="180.1" cy="676.0" r="2.1"/><circle cx="184.4" cy="783.7" r="2.1"/><circle cx="194.8" cy="715.9" r="2.1"/><circle cx="188.0" cy="675.7" r="2.1"/><circle cx="205.9" cy="702.6" r="2.1"/><circle cx="176.9" cy="668.0" r="2.1"/><circle cx="203.4" cy="745.7" r="2.1"/><circle cx="171.9" cy="778.8" r="2.1"/><circle cx="186.6" cy="668.3" r="2.1"/><circle cx="108.3" cy="737.8" r="2.1"/><circle cx="191.4" cy="713.9" r="2.1"/><circle cx="153.0" cy="702.0" r="2.1"/><circle cx="145.2" cy="710.6" r="2.1"/><circle cx="214.8" cy="757.4" r="2.1"/><circle cx="209.0" cy="755.5" r="2.1"/><circle cx="142.0" cy="760.7" r="2.1"/><circle cx="177.5" cy="679.4" r="2.1"/><circle cx="162.8" cy="678.2" r="2.1"/><circle cx="185.3" cy="695.1" r="2.1"/><circle cx="186.2" cy="790.0" r="2.1"/><circle cx="183.3" cy="693.8" r="2.1"/><circle cx="221.5" cy="767.2" r="2.1"/><circle cx="151.5" cy="700.4" r="2.1"/><circle cx="196.4" cy="785.2" r="2.1"/><circle cx="181.2" cy="673.1" r="2.1"/><circle cx="131.2" cy="766.5" r="2.1"/><circle cx="176.6" cy="715.6" r="2.1"/><circle cx="156.5" cy="693.1" r="2.1"/><circle cx="139.7" cy="695.8" r="2.1"/><circle cx="137.4" cy="753.4" r="2.1"/><circle cx="183.2" cy="691.3" r="2.1"/><circle cx="194.8" cy="675.2" r="2.1"/><circle cx="166.2" cy="674.8" r="2.1"/><circle cx="187.6" cy="770.8" r="2.1"/><circle cx="164.3" cy="711.6" r="2.1"/><circle cx="218.9" cy="780.2" r="2.1"/><circle cx="210.1" cy="778.4" r="2.1"/><circle cx="197.9" cy="687.8" r="2.1"/><circle cx="195.1" cy="717.2" r="2.1"/><circle cx="190.7" cy="699.9" r="2.1"/><circle cx="164.8" cy="673.4" r="2.1"/><circle cx="155.8" cy="685.7" r="2.1"/><circle cx="200.8" cy="786.5" r="2.1"/><circle cx="222.4" cy="752.9" r="2.1"/><circle cx="172.4" cy="672.0" r="2.1"/><circle cx="185.6" cy="732.5" r="2.1"/><circle cx="190.1" cy="668.0" r="2.1"/><circle cx="191.3" cy="694.4" r="2.1"/><circle cx="180.6" cy="697.7" r="2.1"/><circle cx="165.2" cy="774.6" r="2.1"/><circle cx="168.9" cy="675.7" r="2.1"/><circle cx="147.5" cy="710.0" r="2.1"/><circle cx="154.9" cy="689.9" r="2.1"/><circle cx="182.2" cy="712.2" r="2.1"/><circle cx="133.9" cy="698.3" r="2.1"/><circle cx="116.8" cy="724.5" r="2.1"/><circle cx="130.7" cy="719.0" r="2.1"/><circle cx="135.0" cy="756.7" r="2.1"/><circle cx="191.7" cy="749.5" r="2.1"/><circle cx="203.3" cy="702.2" r="2.1"/><circle cx="197.9" cy="724.6" r="2.1"/><circle cx="217.7" cy="755.4" r="2.1"/><circle cx="167.7" cy="682.4" r="2.1"/><circle cx="197.1" cy="684.3" r="2.1"/><circle cx="188.4" cy="783.9" r="2.1"/><circle cx="212.1" cy="749.8" r="2.1"/><circle cx="199.8" cy="698.4" r="2.1"/><circle cx="194.1" cy="730.4" r="2.1"/></g>
<line x1="146.5" y1="654.2" x2="146.5" y2="808.9" stroke="#bdbdbd" stroke-width="1.3"/>
<line x1="53.9" y1="732.3" x2="241.3" y2="732.3" stroke="#bdbdbd" stroke-width="1.3"/>
</g>
<rect x="53.9" y="654.2" width="187.4" height="154.69999999999993" fill="none" stroke="#000" stroke-width="1.4"/>
<line x1="55.90" y1="808.9" x2="55.90" y2="811.6999999999999" stroke="#333" stroke-width="1"/>
<text x="55.90" y="822.50" font-size="10.8" font-weight="normal" font-style="normal" text-anchor="middle" fill="#333" stroke="#333" stroke-width="0.15">−0.6</text>
<line x1="101.20" y1="808.9" x2="101.20" y2="811.6999999999999" stroke="#333" stroke-width="1"/>
<text x="101.20" y="822.50" font-size="10.8" font-weight="normal" font-style="normal" text-anchor="middle" fill="#333" stroke="#333" stroke-width="0.15">−0.3</text>
<line x1="146.50" y1="808.9" x2="146.50" y2="811.6999999999999" stroke="#333" stroke-width="1"/>
<text x="146.50" y="822.50" font-size="10.8" font-weight="normal" font-style="normal" text-anchor="middle" fill="#333" stroke="#333" stroke-width="0.15">0.0</text>
<line x1="191.80" y1="808.9" x2="191.80" y2="811.6999999999999" stroke="#333" stroke-width="1"/>
<text x="191.80" y="822.50" font-size="10.8" font-weight="normal" font-style="normal" text-anchor="middle" fill="#333" stroke="#333" stroke-width="0.15">0.3</text>
<line x1="237.10" y1="808.9" x2="237.10" y2="811.6999999999999" stroke="#333" stroke-width="1"/>
<text x="237.10" y="822.50" font-size="10.8" font-weight="normal" font-style="normal" text-anchor="middle" fill="#333" stroke="#333" stroke-width="0.15">0.6</text>
<line x1="51.1" y1="657.45" x2="53.9" y2="657.45" stroke="#333" stroke-width="1"/>
<text x="49.30" y="661.35" font-size="10.8" font-weight="normal" font-style="normal" text-anchor="end" fill="#333" stroke="#333" stroke-width="0.15">0.50</text>
<line x1="51.1" y1="694.88" x2="53.9" y2="694.88" stroke="#333" stroke-width="1"/>
<text x="49.30" y="698.77" font-size="10.8" font-weight="normal" font-style="normal" text-anchor="end" fill="#333" stroke="#333" stroke-width="0.15">0.25</text>
<line x1="51.1" y1="732.30" x2="53.9" y2="732.30" stroke="#333" stroke-width="1"/>
<text x="49.30" y="736.20" font-size="10.8" font-weight="normal" font-style="normal" text-anchor="end" fill="#333" stroke="#333" stroke-width="0.15">0.00</text>
<line x1="51.1" y1="769.72" x2="53.9" y2="769.72" stroke="#333" stroke-width="1"/>
<text x="49.30" y="773.62" font-size="10.8" font-weight="normal" font-style="normal" text-anchor="end" fill="#333" stroke="#333" stroke-width="0.15">−0.25</text>
<line x1="51.1" y1="807.15" x2="53.9" y2="807.15" stroke="#333" stroke-width="1"/>
<text x="49.30" y="811.05" font-size="10.8" font-weight="normal" font-style="normal" text-anchor="end" fill="#333" stroke="#333" stroke-width="0.15">−0.50</text>
<text x="62.3" y="642.7" font-size="11.6" fill="#1a1a1a"><tspan font-style="italic">p</tspan> = 0.001</text>
<line x1="128.9" y1="638.9000000000001" x2="137.9" y2="638.9000000000001" stroke="#33459b" stroke-width="1.2"/><circle cx="133.4" cy="638.9000000000001" r="3.3" fill="#33459b"/>
<text x="142.20" y="642.70" font-size="11.6" font-weight="normal" font-style="normal" text-anchor="start" fill="#1a1a1a" stroke="#1a1a1a" stroke-width="0.15">IBD</text>
<line x1="167.3" y1="638.9000000000001" x2="176.3" y2="638.9000000000001" stroke="#ee2a2a" stroke-width="1.2"/><circle cx="171.8" cy="638.9000000000001" r="3.3" fill="#ee2a2a"/>
<text x="178.30" y="642.70" font-size="11.6" font-weight="normal" font-style="normal" text-anchor="start" fill="#1a1a1a" stroke="#1a1a1a" stroke-width="0.15">non-IBD</text>
<text x="16.00" y="734.00" font-size="11.8" font-weight="bold" font-style="normal" text-anchor="middle" fill="#1a1a1a" transform="rotate(-90.00 16.00 734.00)">PCoA2:&#160; 9.71 %</text>
<text x="144.90" y="842.70" font-size="11.8" font-weight="bold" font-style="normal" text-anchor="middle" fill="#1a1a1a">PCoA1:&#160; 17.09 %</text>
<rect x="316.1" y="398.5" width="341.6" height="167.5" fill="none" stroke="#444" stroke-width="1.1"/>
<line x1="309.6" y1="565.40" x2="316.1" y2="565.40" stroke="#444" stroke-width="1"/>
<text x="307.80" y="569.20" font-size="10.5" font-weight="normal" font-style="normal" text-anchor="end" fill="#333" stroke="#333" stroke-width="0.15">0</text>
<line x1="309.6" y1="533.60" x2="316.1" y2="533.60" stroke="#444" stroke-width="1"/>
<text x="307.80" y="537.40" font-size="10.5" font-weight="normal" font-style="normal" text-anchor="end" fill="#333" stroke="#333" stroke-width="0.15">20</text>
<line x1="309.6" y1="501.80" x2="316.1" y2="501.80" stroke="#444" stroke-width="1"/>
<text x="307.80" y="505.60" font-size="10.5" font-weight="normal" font-style="normal" text-anchor="end" fill="#333" stroke="#333" stroke-width="0.15">40</text>
<line x1="309.6" y1="470.00" x2="316.1" y2="470.00" stroke="#444" stroke-width="1"/>
<text x="307.80" y="473.80" font-size="10.5" font-weight="normal" font-style="normal" text-anchor="end" fill="#333" stroke="#333" stroke-width="0.15">60</text>
<line x1="309.6" y1="438.20" x2="316.1" y2="438.20" stroke="#444" stroke-width="1"/>
<text x="307.80" y="442.00" font-size="10.5" font-weight="normal" font-style="normal" text-anchor="end" fill="#333" stroke="#333" stroke-width="0.15">80</text>
<line x1="309.6" y1="406.40" x2="316.1" y2="406.40" stroke="#444" stroke-width="1"/>
<text x="307.80" y="410.20" font-size="10.5" font-weight="normal" font-style="normal" text-anchor="end" fill="#333" stroke="#333" stroke-width="0.15">100</text>
<line x1="323.90" y1="566" x2="323.90" y2="572.7" stroke="#444" stroke-width="0.9"/>
<text x="326.40" y="575.3" font-size="7" font-weight="bold" text-anchor="end" fill="#222" transform="rotate(-90 326.40 575.3)">CYS_45</text>
<line x1="333.50" y1="566" x2="333.50" y2="572.7" stroke="#444" stroke-width="0.9"/>
<text x="336.00" y="575.3" font-size="7" font-weight="bold" text-anchor="end" fill="#222" transform="rotate(-90 336.00 575.3)">CYS_48</text>
<line x1="343.10" y1="566" x2="343.10" y2="572.7" stroke="#444" stroke-width="0.9"/>
<text x="345.60" y="575.3" font-size="7" font-weight="bold" text-anchor="end" fill="#222" transform="rotate(-90 345.60 575.3)">SDR_73</text>
<line x1="352.70" y1="566" x2="352.70" y2="572.7" stroke="#444" stroke-width="0.9"/>
<text x="355.20" y="575.3" font-size="7" font-weight="bold" text-anchor="end" fill="#222" transform="rotate(-90 355.20 575.3)">CYS_66</text>
<line x1="362.30" y1="566" x2="362.30" y2="572.7" stroke="#444" stroke-width="0.9"/>
<text x="364.80" y="575.3" font-size="7" font-weight="bold" text-anchor="end" fill="#222" transform="rotate(-90 364.80 575.3)">CYS_74</text>
<line x1="371.90" y1="566" x2="371.90" y2="572.7" stroke="#444" stroke-width="0.9"/>
<text x="374.40" y="575.3" font-size="7" font-weight="bold" text-anchor="end" fill="#222" transform="rotate(-90 374.40 575.3)">CYS_42</text>
<line x1="381.50" y1="566" x2="381.50" y2="572.7" stroke="#444" stroke-width="0.9"/>
<text x="384.00" y="575.3" font-size="7" font-weight="bold" text-anchor="end" fill="#222" transform="rotate(-90 384.00 575.3)">CYS_61</text>
<line x1="391.10" y1="566" x2="391.10" y2="572.7" stroke="#444" stroke-width="0.9"/>
<text x="393.60" y="575.3" font-size="7" font-weight="bold" text-anchor="end" fill="#222" transform="rotate(-90 393.60 575.3)">SDR_62</text>
<line x1="400.70" y1="566" x2="400.70" y2="572.7" stroke="#444" stroke-width="0.9"/>
<text x="403.20" y="575.3" font-size="7" font-weight="bold" text-anchor="end" fill="#222" transform="rotate(-90 403.20 575.3)">SDR_6</text>
<line x1="410.30" y1="566" x2="410.30" y2="572.7" stroke="#444" stroke-width="0.9"/>
<text x="412.80" y="575.3" font-size="7" font-weight="bold" text-anchor="end" fill="#222" transform="rotate(-90 412.80 575.3)">SDR_5</text>
<line x1="419.90" y1="566" x2="419.90" y2="572.7" stroke="#444" stroke-width="0.9"/>
<text x="422.40" y="575.3" font-size="7" font-weight="bold" text-anchor="end" fill="#222" transform="rotate(-90 422.40 575.3)">CYS_52</text>
<line x1="429.50" y1="566" x2="429.50" y2="572.7" stroke="#444" stroke-width="0.9"/>
<text x="432.00" y="575.3" font-size="7" font-weight="bold" text-anchor="end" fill="#222" transform="rotate(-90 432.00 575.3)">SDR_94</text>
<line x1="439.10" y1="566" x2="439.10" y2="572.7" stroke="#444" stroke-width="0.9"/>
<text x="441.60" y="575.3" font-size="7" font-weight="bold" text-anchor="end" fill="#222" transform="rotate(-90 441.60 575.3)">SDR_65</text>
<line x1="448.70" y1="566" x2="448.70" y2="572.7" stroke="#444" stroke-width="0.9"/>
<text x="451.20" y="575.3" font-size="7" font-weight="bold" text-anchor="end" fill="#222" transform="rotate(-90 451.20 575.3)">SDR_7</text>
<line x1="458.30" y1="566" x2="458.30" y2="572.7" stroke="#444" stroke-width="0.9"/>
<text x="460.80" y="575.3" font-size="7" font-weight="bold" text-anchor="end" fill="#222" transform="rotate(-90 460.80 575.3)">CYS_28</text>
<line x1="467.90" y1="566" x2="467.90" y2="572.7" stroke="#444" stroke-width="0.9"/>
<text x="470.40" y="575.3" font-size="7" font-weight="bold" text-anchor="end" fill="#222" transform="rotate(-90 470.40 575.3)">CYS_40</text>
<line x1="477.50" y1="566" x2="477.50" y2="572.7" stroke="#444" stroke-width="0.9"/>
<text x="480.00" y="575.3" font-size="7" font-weight="bold" text-anchor="end" fill="#222" transform="rotate(-90 480.00 575.3)">CYS_14</text>
<line x1="487.10" y1="566" x2="487.10" y2="572.7" stroke="#444" stroke-width="0.9"/>
<text x="489.60" y="575.3" font-size="7" font-weight="bold" text-anchor="end" fill="#222" transform="rotate(-90 489.60 575.3)">CYS_6</text>
<line x1="496.70" y1="566" x2="496.70" y2="572.7" stroke="#444" stroke-width="0.9"/>
<text x="499.20" y="575.3" font-size="7" font-weight="bold" text-anchor="end" fill="#222" transform="rotate(-90 499.20 575.3)">SDR_97</text>
<line x1="506.30" y1="566" x2="506.30" y2="572.7" stroke="#444" stroke-width="0.9"/>
<text x="508.80" y="575.3" font-size="7" font-weight="bold" text-anchor="end" fill="#222" transform="rotate(-90 508.80 575.3)">SDR_86</text>
<line x1="515.90" y1="566" x2="515.90" y2="572.7" stroke="#444" stroke-width="0.9"/>
<text x="518.40" y="575.3" font-size="7" font-weight="bold" text-anchor="end" fill="#222" transform="rotate(-90 518.40 575.3)">CFAT_2</text>
<line x1="525.50" y1="566" x2="525.50" y2="572.7" stroke="#444" stroke-width="0.9"/>
<text x="528.00" y="575.3" font-size="7" font-weight="bold" text-anchor="end" fill="#222" transform="rotate(-90 528.00 575.3)">CYS_71</text>
<line x1="535.10" y1="566" x2="535.10" y2="572.7" stroke="#444" stroke-width="0.9"/>
<text x="537.60" y="575.3" font-size="7" font-weight="bold" text-anchor="end" fill="#222" transform="rotate(-90 537.60 575.3)">SDR_14</text>
<line x1="544.70" y1="566" x2="544.70" y2="572.7" stroke="#444" stroke-width="0.9"/>
<text x="547.20" y="575.3" font-size="7" font-weight="bold" text-anchor="end" fill="#222" transform="rotate(-90 547.20 575.3)">CYS_15</text>
<line x1="554.30" y1="566" x2="554.30" y2="572.7" stroke="#444" stroke-width="0.9"/>
<text x="556.80" y="575.3" font-size="7" font-weight="bold" text-anchor="end" fill="#222" transform="rotate(-90 556.80 575.3)">CYS_69</text>
<line x1="563.90" y1="566" x2="563.90" y2="572.7" stroke="#444" stroke-width="0.9"/>
<text x="566.40" y="575.3" font-size="7" font-weight="bold" text-anchor="end" fill="#222" transform="rotate(-90 566.40 575.3)">CYS_11</text>
<line x1="573.50" y1="566" x2="573.50" y2="572.7" stroke="#444" stroke-width="0.9"/>
<text x="576.00" y="575.3" font-size="7" font-weight="bold" text-anchor="end" fill="#222" transform="rotate(-90 576.00 575.3)">SDR_101</text>
<line x1="583.10" y1="566" x2="583.10" y2="572.7" stroke="#444" stroke-width="0.9"/>
<text x="585.60" y="575.3" font-size="7" font-weight="bold" text-anchor="end" fill="#222" transform="rotate(-90 585.60 575.3)">CFAT_23</text>
<line x1="592.70" y1="566" x2="592.70" y2="572.7" stroke="#444" stroke-width="0.9"/>
<text x="595.20" y="575.3" font-size="7" font-weight="bold" text-anchor="end" fill="#222" transform="rotate(-90 595.20 575.3)">CYS_20</text>
<line x1="602.30" y1="566" x2="602.30" y2="572.7" stroke="#444" stroke-width="0.9"/>
<text x="604.80" y="575.3" font-size="7" font-weight="bold" text-anchor="end" fill="#222" transform="rotate(-90 604.80 575.3)">CYS_53</text>
<line x1="611.90" y1="566" x2="611.90" y2="572.7" stroke="#444" stroke-width="0.9"/>
<text x="614.40" y="575.3" font-size="7" font-weight="bold" text-anchor="end" fill="#222" transform="rotate(-90 614.40 575.3)">SDR_93</text>
<line x1="621.50" y1="566" x2="621.50" y2="572.7" stroke="#444" stroke-width="0.9"/>
<text x="624.00" y="575.3" font-size="7" font-weight="bold" text-anchor="end" fill="#222" transform="rotate(-90 624.00 575.3)">CYS_33</text>
<line x1="631.10" y1="566" x2="631.10" y2="572.7" stroke="#444" stroke-width="0.9"/>
<text x="633.60" y="575.3" font-size="7" font-weight="bold" text-anchor="end" fill="#222" transform="rotate(-90 633.60 575.3)">SDR_75</text>
<line x1="640.70" y1="566" x2="640.70" y2="572.7" stroke="#444" stroke-width="0.9"/>
<text x="643.20" y="575.3" font-size="7" font-weight="bold" text-anchor="end" fill="#222" transform="rotate(-90 643.20 575.3)">SDR_89</text>
<line x1="650.30" y1="566" x2="650.30" y2="572.7" stroke="#444" stroke-width="0.9"/>
<text x="652.80" y="575.3" font-size="7" font-weight="bold" text-anchor="end" fill="#222" transform="rotate(-90 652.80 575.3)">SDR_85</text>
<circle cx="323.90" cy="427.8" r="3.4" fill="#3e4fb0"/>
<circle cx="323.90" cy="411.6" r="3.4" fill="#ee2a24"/>
<circle cx="333.50" cy="430.9" r="3.4" fill="#3e4fb0"/>
<circle cx="333.50" cy="414.3" r="3.4" fill="#ee2a24"/>
<circle cx="343.10" cy="446.2" r="3.4" fill="#3e4fb0"/>
<circle cx="343.10" cy="426.6" r="3.4" fill="#ee2a24"/>
<circle cx="352.70" cy="446.8" r="3.4" fill="#3e4fb0"/>
<circle cx="352.70" cy="427.5" r="3.4" fill="#ee2a24"/>
<circle cx="362.30" cy="445.9" r="3.4" fill="#3e4fb0"/>
<circle cx="362.30" cy="428.1" r="3.4" fill="#ee2a24"/>
<circle cx="371.90" cy="464" r="3.4" fill="#3e4fb0"/>
<circle cx="371.90" cy="444.1" r="3.4" fill="#ee2a24"/>
<circle cx="381.50" cy="476.6" r="3.4" fill="#3e4fb0"/>
<circle cx="381.50" cy="446.5" r="3.4" fill="#ee2a24"/>
<circle cx="391.10" cy="470.4" r="3.4" fill="#3e4fb0"/>
<circle cx="391.10" cy="449.9" r="3.4" fill="#ee2a24"/>
<circle cx="400.70" cy="483" r="3.4" fill="#3e4fb0"/>
<circle cx="400.70" cy="459.1" r="3.4" fill="#ee2a24"/>
<circle cx="410.30" cy="487" r="3.4" fill="#3e4fb0"/>
<circle cx="410.30" cy="461.2" r="3.4" fill="#ee2a24"/>
<circle cx="419.90" cy="498.6" r="3.4" fill="#3e4fb0"/>
<circle cx="419.90" cy="463.7" r="3.4" fill="#ee2a24"/>
<circle cx="429.50" cy="494" r="3.4" fill="#3e4fb0"/>
<circle cx="429.50" cy="463.7" r="3.4" fill="#ee2a24"/>
<circle cx="439.10" cy="492.2" r="3.4" fill="#3e4fb0"/>
<circle cx="439.10" cy="464.6" r="3.4" fill="#ee2a24"/>
<circle cx="448.70" cy="489.1" r="3.4" fill="#3e4fb0"/>
<circle cx="448.70" cy="467.4" r="3.4" fill="#ee2a24"/>
<circle cx="458.30" cy="502" r="3.4" fill="#3e4fb0"/>
<circle cx="458.30" cy="472.6" r="3.4" fill="#ee2a24"/>
<circle cx="467.90" cy="503.5" r="3.4" fill="#3e4fb0"/>
<circle cx="467.90" cy="481.1" r="3.4" fill="#ee2a24"/>
<circle cx="477.50" cy="506.8" r="3.4" fill="#3e4fb0"/>
<circle cx="477.50" cy="482" r="3.4" fill="#ee2a24"/>
<circle cx="487.10" cy="500.4" r="3.4" fill="#3e4fb0"/>
<circle cx="487.10" cy="484.1" r="3.4" fill="#ee2a24"/>
<circle cx="496.70" cy="508.4" r="3.4" fill="#3e4fb0"/>
<circle cx="496.70" cy="488.1" r="3.4" fill="#ee2a24"/>
<circle cx="506.30" cy="515.4" r="3.4" fill="#3e4fb0"/>
<circle cx="506.30" cy="489" r="3.4" fill="#ee2a24"/>
<circle cx="515.90" cy="528.9" r="3.4" fill="#3e4fb0"/>
<circle cx="515.90" cy="492.7" r="3.4" fill="#ee2a24"/>
<circle cx="525.50" cy="520.6" r="3.4" fill="#3e4fb0"/>
<circle cx="525.50" cy="494.6" r="3.4" fill="#ee2a24"/>
<circle cx="535.10" cy="522.5" r="3.4" fill="#3e4fb0"/>
<circle cx="535.10" cy="495.5" r="3.4" fill="#ee2a24"/>
<circle cx="544.70" cy="515.1" r="3.4" fill="#3e4fb0"/>
<circle cx="544.70" cy="495.5" r="3.4" fill="#ee2a24"/>
<circle cx="554.30" cy="517.6" r="3.4" fill="#3e4fb0"/>
<circle cx="554.30" cy="496.4" r="3.4" fill="#ee2a24"/>
<circle cx="563.90" cy="519.7" r="3.4" fill="#3e4fb0"/>
<circle cx="563.90" cy="502.2" r="3.4" fill="#ee2a24"/>
<circle cx="573.50" cy="532.3" r="3.4" fill="#3e4fb0"/>
<circle cx="573.50" cy="506.5" r="3.4" fill="#ee2a24"/>
<circle cx="583.10" cy="532.3" r="3.4" fill="#3e4fb0"/>
<circle cx="583.10" cy="513.6" r="3.4" fill="#ee2a24"/>
<circle cx="592.70" cy="537.8" r="3.4" fill="#3e4fb0"/>
<circle cx="592.70" cy="515.4" r="3.4" fill="#ee2a24"/>
<circle cx="602.30" cy="542" r="3.4" fill="#3e4fb0"/>
<circle cx="602.30" cy="520" r="3.4" fill="#ee2a24"/>
<circle cx="611.90" cy="536.9" r="3.4" fill="#3e4fb0"/>
<circle cx="611.90" cy="520" r="3.4" fill="#ee2a24"/>
<circle cx="621.50" cy="548.8" r="3.4" fill="#3e4fb0"/>
<circle cx="621.50" cy="522.5" r="3.4" fill="#ee2a24"/>
<circle cx="631.10" cy="541.5" r="3.4" fill="#3e4fb0"/>
<circle cx="631.10" cy="525.2" r="3.4" fill="#ee2a24"/>
<circle cx="640.70" cy="546.4" r="3.4" fill="#3e4fb0"/>
<circle cx="640.70" cy="526.1" r="3.4" fill="#ee2a24"/>
<circle cx="650.30" cy="550" r="3.4" fill="#3e4fb0"/>
<circle cx="650.30" cy="527.1" r="3.4" fill="#ee2a24"/>
<text x="282.80" y="482.50" font-size="11.8" font-weight="bold" font-style="normal" text-anchor="middle" fill="#1a1a1a" transform="rotate(-90.00 282.80 482.50)">Prevalence (%)</text>
<circle cx="574.2" cy="411.2" r="3.4" fill="#ee2a24"/>
<text x="582.60" y="415.00" font-size="11.2" font-weight="normal" font-style="normal" text-anchor="start" fill="#1a1a1a" stroke="#1a1a1a" stroke-width="0.15">non-IBD</text>
<circle cx="574.2" cy="423.4" r="3.4" fill="#3e4fb0"/>
<text x="583.00" y="427.30" font-size="11.2" font-weight="normal" font-style="normal" text-anchor="start" fill="#1a1a1a" stroke="#1a1a1a" stroke-width="0.15">IBD</text>
<text x="566.60" y="445.20" font-size="11.8" font-weight="bold" font-style="normal" text-anchor="start" fill="#1a1a1a">(metagenome)</text>
<path d="M320.4,625.6 L658.7,625.6 L658.7,720.5" fill="none" stroke="#444" stroke-width="1.1"/>
<line x1="320.4" y1="720.6" x2="658.7" y2="720.6" stroke="#e3e3e3" stroke-width="1"/>
<rect x="329.70" y="708.85" width="15.3" height="11.65" fill="#3a4f9c"/>
<rect x="345.00" y="696.27" width="15.4" height="24.23" fill="#ee2a2a"/>
<line x1="345.00" y1="720.5" x2="345.00" y2="724.3" stroke="#444" stroke-width="1"/>
<text x="345.00" y="736.80" font-size="10.5" font-weight="bold" font-style="normal" text-anchor="middle" fill="#1a1a1a">SDR</text>
<text x="345.00" y="749.80" font-size="10.5" font-weight="bold" font-style="normal" text-anchor="middle" fill="#1a1a1a">_73</text>
<line x1="345.00" y1="753.5" x2="345.00" y2="757.9" stroke="#777" stroke-width="0.9"/>
<rect x="370.63" y="710.20" width="15.3" height="10.30" fill="#3a4f9c"/>
<rect x="385.93" y="699.70" width="15.4" height="20.80" fill="#ee2a2a"/>
<line x1="385.93" y1="720.5" x2="385.93" y2="724.3" stroke="#444" stroke-width="1"/>
<text x="385.93" y="736.80" font-size="10.5" font-weight="bold" font-style="normal" text-anchor="middle" fill="#1a1a1a">CFAT</text>
<text x="385.93" y="749.80" font-size="10.5" font-weight="bold" font-style="normal" text-anchor="middle" fill="#1a1a1a">_3</text>
<line x1="385.93" y1="753.5" x2="385.93" y2="757.9" stroke="#777" stroke-width="0.9"/>
<rect x="411.56" y="677.44" width="15.3" height="43.06" fill="#3a4f9c"/>
<rect x="426.86" y="659.97" width="15.4" height="60.53" fill="#ee2a2a"/>
<line x1="426.86" y1="720.5" x2="426.86" y2="724.3" stroke="#444" stroke-width="1"/>
<text x="426.86" y="736.80" font-size="10.5" font-weight="bold" font-style="normal" text-anchor="middle" fill="#1a1a1a">CYS</text>
<text x="426.86" y="749.80" font-size="10.5" font-weight="bold" font-style="normal" text-anchor="middle" fill="#1a1a1a">_1</text>
<line x1="426.86" y1="753.5" x2="426.86" y2="757.9" stroke="#777" stroke-width="0.9"/>
<rect x="452.49" y="674.01" width="15.3" height="46.49" fill="#3a4f9c"/>
<rect x="467.79" y="660.80" width="15.4" height="59.70" fill="#ee2a2a"/>
<line x1="467.79" y1="720.5" x2="467.79" y2="724.3" stroke="#444" stroke-width="1"/>
<text x="467.79" y="736.80" font-size="10.5" font-weight="bold" font-style="normal" text-anchor="middle" fill="#1a1a1a">CYS</text>
<text x="467.79" y="749.80" font-size="10.5" font-weight="bold" font-style="normal" text-anchor="middle" fill="#1a1a1a">_7</text>
<line x1="467.79" y1="753.5" x2="467.79" y2="757.9" stroke="#777" stroke-width="0.9"/>
<rect x="493.42" y="702.40" width="15.3" height="18.10" fill="#3a4f9c"/>
<rect x="508.72" y="685.87" width="15.4" height="34.63" fill="#ee2a2a"/>
<line x1="508.72" y1="720.5" x2="508.72" y2="724.3" stroke="#444" stroke-width="1"/>
<text x="508.72" y="736.80" font-size="10.5" font-weight="bold" font-style="normal" text-anchor="middle" fill="#1a1a1a">CYS</text>
<text x="508.72" y="749.80" font-size="10.5" font-weight="bold" font-style="normal" text-anchor="middle" fill="#1a1a1a">_28</text>
<line x1="508.72" y1="753.5" x2="508.72" y2="757.9" stroke="#777" stroke-width="0.9"/>
<rect x="534.35" y="698.76" width="15.3" height="21.74" fill="#3a4f9c"/>
<rect x="549.65" y="688.88" width="15.4" height="31.62" fill="#ee2a2a"/>
<line x1="549.65" y1="720.5" x2="549.65" y2="724.3" stroke="#444" stroke-width="1"/>
<text x="549.65" y="736.80" font-size="10.5" font-weight="bold" font-style="normal" text-anchor="middle" fill="#1a1a1a">CYS</text>
<text x="549.65" y="749.80" font-size="10.5" font-weight="bold" font-style="normal" text-anchor="middle" fill="#1a1a1a">_45</text>
<line x1="549.65" y1="753.5" x2="549.65" y2="757.9" stroke="#777" stroke-width="0.9"/>
<rect x="575.28" y="715.92" width="15.3" height="4.58" fill="#3a4f9c"/>
<rect x="590.58" y="706.56" width="15.4" height="13.94" fill="#ee2a2a"/>
<line x1="590.58" y1="720.5" x2="590.58" y2="724.3" stroke="#444" stroke-width="1"/>
<text x="590.58" y="736.80" font-size="10.5" font-weight="bold" font-style="normal" text-anchor="middle" fill="#1a1a1a">CYS</text>
<text x="590.58" y="749.80" font-size="10.5" font-weight="bold" font-style="normal" text-anchor="middle" fill="#1a1a1a">_53</text>
<line x1="590.58" y1="753.5" x2="590.58" y2="757.9" stroke="#777" stroke-width="0.9"/>
<rect x="616.21" y="630.02" width="15.3" height="90.48" fill="#3a4f9c"/>
<rect x="631.51" y="633.56" width="15.4" height="86.94" fill="#ee2a2a"/>
<line x1="631.51" y1="720.5" x2="631.51" y2="724.3" stroke="#444" stroke-width="1"/>
<text x="631.51" y="736.80" font-size="10.5" font-weight="bold" font-style="normal" text-anchor="middle" fill="#1a1a1a">CYS</text>
<text x="631.51" y="749.80" font-size="10.5" font-weight="bold" font-style="normal" text-anchor="middle" fill="#1a1a1a">_24</text>
<line x1="631.51" y1="753.5" x2="631.51" y2="757.9" stroke="#777" stroke-width="0.9"/>
<line x1="320.4" y1="625" x2="320.4" y2="721" stroke="#444" stroke-width="1.1"/>
<line x1="314.3" y1="720.50" x2="320.4" y2="720.50" stroke="#444" stroke-width="1"/>
<text x="311.70" y="724.10" font-size="10" font-weight="normal" font-style="normal" text-anchor="end" fill="#333" stroke="#333" stroke-width="0.15">0</text>
<line x1="314.3" y1="694.50" x2="320.4" y2="694.50" stroke="#444" stroke-width="1"/>
<text x="311.70" y="698.10" font-size="10" font-weight="normal" font-style="normal" text-anchor="end" fill="#333" stroke="#333" stroke-width="0.15">25</text>
<line x1="314.3" y1="668.50" x2="320.4" y2="668.50" stroke="#444" stroke-width="1"/>
<text x="311.70" y="672.10" font-size="10" font-weight="normal" font-style="normal" text-anchor="end" fill="#333" stroke="#333" stroke-width="0.15">50</text>
<line x1="314.3" y1="642.50" x2="320.4" y2="642.50" stroke="#444" stroke-width="1"/>
<text x="311.70" y="646.10" font-size="10" font-weight="normal" font-style="normal" text-anchor="end" fill="#333" stroke="#333" stroke-width="0.15">75</text>
<text x="292.50" y="682.70" font-size="11.7" font-weight="bold" font-style="normal" text-anchor="middle" fill="#1a1a1a" transform="rotate(-90.00 292.50 682.70)">Prevalence (%)</text>
<rect x="335" y="631" width="11.5" height="11.3" fill="#ee2a2a"/>
<text x="350.00" y="640.80" font-size="11.7" font-weight="normal" font-style="normal" text-anchor="start" fill="#1a1a1a" stroke="#1a1a1a" stroke-width="0.15">non-IBD</text>
<rect x="401.2" y="631" width="11.3" height="11.3" fill="#3a4f9c"/>
<text x="416.00" y="640.80" font-size="11.7" font-weight="normal" font-style="normal" text-anchor="start" fill="#1a1a1a" stroke="#1a1a1a" stroke-width="0.15">IBD</text>
<text x="328.00" y="655.40" font-size="11.8" font-weight="bold" font-style="normal" text-anchor="start" fill="#1a1a1a">(metatranscriptome)</text>
<path d="M320.2,760.5 L320.2,855.2 L659,855.2 L659,760.8" fill="none" stroke="#444" stroke-width="1.1"/>
<line x1="314.2" y1="839.10" x2="320.2" y2="839.10" stroke="#444" stroke-width="1"/>
<text x="311.50" y="842.70" font-size="10" font-weight="normal" font-style="normal" text-anchor="end" fill="#333" stroke="#333" stroke-width="0.15">3</text>
<line x1="314.2" y1="813.40" x2="320.2" y2="813.40" stroke="#444" stroke-width="1"/>
<text x="311.50" y="817.00" font-size="10" font-weight="normal" font-style="normal" text-anchor="end" fill="#333" stroke="#333" stroke-width="0.15">4</text>
<line x1="314.2" y1="787.70" x2="320.2" y2="787.70" stroke="#444" stroke-width="1"/>
<text x="311.50" y="791.30" font-size="10" font-weight="normal" font-style="normal" text-anchor="end" fill="#333" stroke="#333" stroke-width="0.15">5</text>
<line x1="314.2" y1="762.00" x2="320.2" y2="762.00" stroke="#444" stroke-width="1"/>
<text x="311.50" y="765.60" font-size="10" font-weight="normal" font-style="normal" text-anchor="end" fill="#333" stroke="#333" stroke-width="0.15">6</text>
<text x="290.5" y="799.2" font-size="11.7" font-weight="bold" text-anchor="middle" fill="#1a1a1a" transform="rotate(-90 290.5 799.2)">log<tspan font-size="7.5" dy="3">10</tspan><tspan dy="-3">(abundance)</tspan></text>
<line x1="337.40" y1="786.41" x2="337.40" y2="822.91" stroke="#666" stroke-width="0.9"/>
<rect x="330.40" y="797.98" width="14.0" height="12.85" fill="#3a4f9c" stroke="#555" stroke-width="0.9"/>
<line x1="330.40" y1="804.40" x2="344.40" y2="804.40" stroke="#333" stroke-width="1.1"/>
<circle cx="337.40" cy="767.14" r="1.7" fill="#222"/>
<circle cx="337.40" cy="773.56" r="1.7" fill="#222"/>
<circle cx="337.40" cy="777.42" r="1.7" fill="#222"/>
<circle cx="337.40" cy="830.11" r="1.7" fill="#222"/>
<circle cx="337.40" cy="833.96" r="1.7" fill="#222"/>
<line x1="353.00" y1="779.99" x2="353.00" y2="828.82" stroke="#666" stroke-width="0.9"/>
<rect x="346.00" y="797.98" width="14.0" height="14.91" fill="#ee2a2a" stroke="#555" stroke-width="0.9"/>
<line x1="346.00" y1="801.58" x2="360.00" y2="801.58" stroke="#333" stroke-width="1.1"/>
<circle cx="353.00" cy="774.85" r="1.7" fill="#222"/>
<circle cx="353.00" cy="837.30" r="1.7" fill="#222"/>
<line x1="378.20" y1="796.69" x2="378.20" y2="830.11" stroke="#666" stroke-width="0.9"/>
<rect x="371.20" y="805.18" width="14.0" height="12.34" fill="#3a4f9c" stroke="#555" stroke-width="0.9"/>
<line x1="371.20" y1="812.12" x2="385.20" y2="812.12" stroke="#333" stroke-width="1.1"/>
<circle cx="378.20" cy="786.41" r="1.7" fill="#222"/>
<circle cx="378.20" cy="837.81" r="1.7" fill="#222"/>
<line x1="394.40" y1="779.99" x2="394.40" y2="844.24" stroke="#666" stroke-width="0.9"/>
<rect x="387.40" y="797.98" width="14.0" height="18.50" fill="#ee2a2a" stroke="#555" stroke-width="0.9"/>
<line x1="387.40" y1="810.83" x2="401.40" y2="810.83" stroke="#333" stroke-width="1.1"/>
<line x1="418.90" y1="766.37" x2="418.90" y2="838.07" stroke="#666" stroke-width="0.9"/>
<rect x="411.90" y="789.50" width="14.0" height="22.62" fill="#3a4f9c" stroke="#555" stroke-width="0.9"/>
<line x1="411.90" y1="801.58" x2="425.90" y2="801.58" stroke="#333" stroke-width="1.1"/>
<line x1="434.30" y1="772.79" x2="434.30" y2="831.39" stroke="#666" stroke-width="0.9"/>
<rect x="427.30" y="789.50" width="14.0" height="20.05" fill="#ee2a2a" stroke="#555" stroke-width="0.9"/>
<line x1="427.30" y1="798.49" x2="441.30" y2="798.49" stroke="#333" stroke-width="1.1"/>
<line x1="460.00" y1="765.86" x2="460.00" y2="833.45" stroke="#666" stroke-width="0.9"/>
<rect x="453.00" y="790.27" width="14.0" height="21.33" fill="#3a4f9c" stroke="#555" stroke-width="0.9"/>
<line x1="453.00" y1="802.61" x2="467.00" y2="802.61" stroke="#333" stroke-width="1.1"/>
<circle cx="460.00" cy="844.24" r="1.7" fill="#222"/>
<line x1="475.60" y1="762.00" x2="475.60" y2="839.10" stroke="#666" stroke-width="0.9"/>
<rect x="468.60" y="780.50" width="14.0" height="31.10" fill="#ee2a2a" stroke="#555" stroke-width="0.9"/>
<line x1="468.60" y1="802.61" x2="482.60" y2="802.61" stroke="#333" stroke-width="1.1"/>
<line x1="501.30" y1="781.79" x2="501.30" y2="837.30" stroke="#666" stroke-width="0.9"/>
<rect x="494.30" y="802.61" width="14.0" height="14.91" fill="#3a4f9c" stroke="#555" stroke-width="0.9"/>
<line x1="494.30" y1="810.57" x2="508.30" y2="810.57" stroke="#333" stroke-width="1.1"/>
<circle cx="501.30" cy="767.14" r="1.7" fill="#222"/>
<circle cx="501.30" cy="776.13" r="1.7" fill="#222"/>
<circle cx="501.30" cy="777.93" r="1.7" fill="#222"/>
<circle cx="501.30" cy="845.52" r="1.7" fill="#222"/>
<line x1="516.60" y1="780.76" x2="516.60" y2="838.33" stroke="#666" stroke-width="0.9"/>
<rect x="509.60" y="803.12" width="14.0" height="15.42" fill="#ee2a2a" stroke="#555" stroke-width="0.9"/>
<line x1="509.60" y1="811.60" x2="523.60" y2="811.60" stroke="#333" stroke-width="1.1"/>
<line x1="542.40" y1="771.25" x2="542.40" y2="845.52" stroke="#666" stroke-width="0.9"/>
<rect x="535.40" y="801.58" width="14.0" height="20.82" fill="#3a4f9c" stroke="#555" stroke-width="0.9"/>
<line x1="535.40" y1="810.57" x2="549.40" y2="810.57" stroke="#333" stroke-width="1.1"/>
<line x1="558.00" y1="780.76" x2="558.00" y2="828.82" stroke="#666" stroke-width="0.9"/>
<rect x="551.00" y="798.49" width="14.0" height="16.70" fill="#ee2a2a" stroke="#555" stroke-width="0.9"/>
<line x1="551.00" y1="809.54" x2="565.00" y2="809.54" stroke="#333" stroke-width="1.1"/>
<circle cx="558.00" cy="762.00" r="1.7" fill="#222"/>
<circle cx="558.00" cy="768.42" r="1.7" fill="#222"/>
<circle cx="558.00" cy="851.95" r="1.7" fill="#222"/>
<line x1="583.20" y1="775.62" x2="583.20" y2="815.97" stroke="#666" stroke-width="0.9"/>
<rect x="576.20" y="792.84" width="14.0" height="11.56" fill="#3a4f9c" stroke="#555" stroke-width="0.9"/>
<line x1="576.20" y1="799.26" x2="590.20" y2="799.26" stroke="#333" stroke-width="1.1"/>
<circle cx="583.20" cy="824.97" r="1.7" fill="#222"/>
<line x1="598.80" y1="779.99" x2="598.80" y2="810.32" stroke="#666" stroke-width="0.9"/>
<rect x="591.80" y="794.12" width="14.0" height="9.77" fill="#ee2a2a" stroke="#555" stroke-width="0.9"/>
<line x1="591.80" y1="798.24" x2="605.80" y2="798.24" stroke="#333" stroke-width="1.1"/>
<circle cx="598.80" cy="822.39" r="1.7" fill="#222"/>
<circle cx="598.80" cy="823.68" r="1.7" fill="#222"/>
<circle cx="598.80" cy="824.97" r="1.7" fill="#222"/>
<line x1="623.90" y1="765.86" x2="623.90" y2="810.32" stroke="#666" stroke-width="0.9"/>
<rect x="616.90" y="776.39" width="14.0" height="13.88" fill="#3a4f9c" stroke="#555" stroke-width="0.9"/>
<line x1="616.90" y1="782.56" x2="630.90" y2="782.56" stroke="#333" stroke-width="1.1"/>
<circle cx="623.90" cy="814.68" r="1.7" fill="#222"/>
<circle cx="623.90" cy="818.54" r="1.7" fill="#222"/>
<circle cx="623.90" cy="820.60" r="1.7" fill="#222"/>
<line x1="639.90" y1="765.86" x2="639.90" y2="810.32" stroke="#666" stroke-width="0.9"/>
<rect x="632.90" y="778.45" width="14.0" height="14.91" fill="#ee2a2a" stroke="#555" stroke-width="0.9"/>
<line x1="632.90" y1="784.62" x2="646.90" y2="784.62" stroke="#333" stroke-width="1.1"/>
<circle cx="639.90" cy="815.20" r="1.7" fill="#222"/>
<circle cx="639.90" cy="820.60" r="1.7" fill="#222"/>
</svg></body></html>
